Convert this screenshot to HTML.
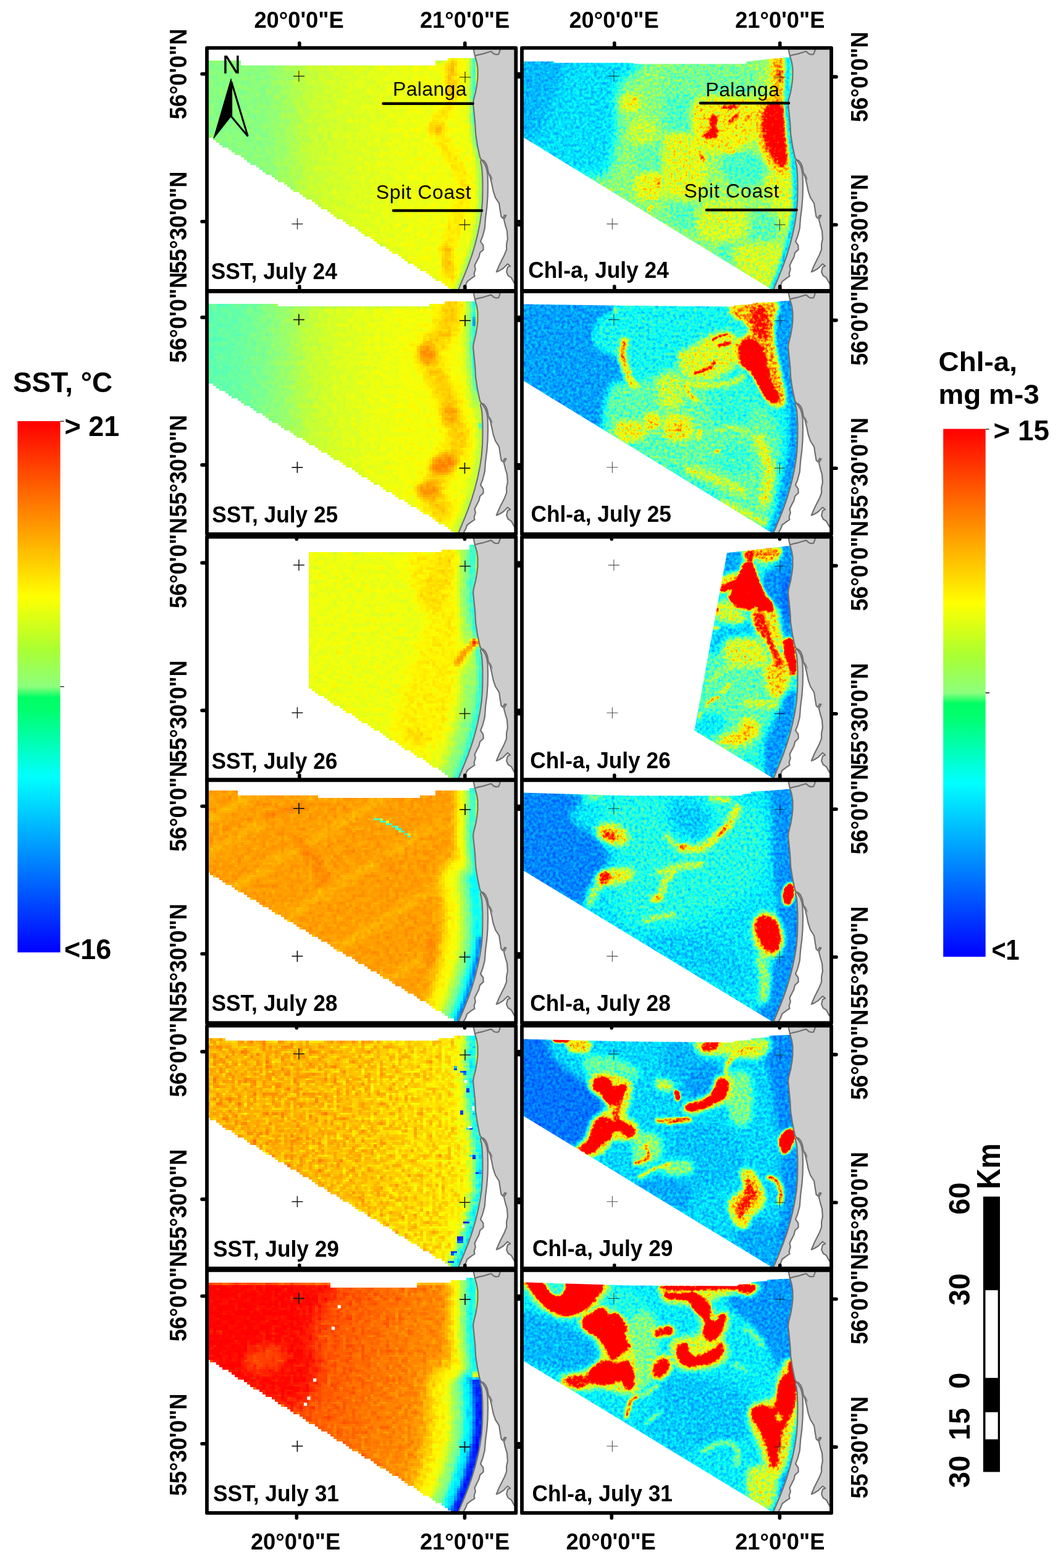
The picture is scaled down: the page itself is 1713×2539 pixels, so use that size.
<!DOCTYPE html>
<html lang="en"><head><meta charset="utf-8"><title>SST and Chl-a maps, July 24-31</title>
<style>html,body{margin:0;padding:0;background:#fff}svg{display:block}text{font-family:"Liberation Sans",sans-serif;fill:#000}.b{font-weight:bold}.ax{font-weight:bold;font-size:36.3px}.lb{font-weight:bold;font-size:35.3px}.cb{font-weight:bold;font-size:45px}.pl{font-size:32px}.sc{font-weight:bold;font-size:47px}</style></head><body>
<svg width="1713" height="2539" viewBox="0 0 1713 2539">
<defs>
<linearGradient id="cbar" x1="0" y1="0" x2="0" y2="1">
<stop offset="0%" stop-color="rgb(255,0,0)"/>
<stop offset="33%" stop-color="rgb(255,255,0)"/>
<stop offset="43%" stop-color="rgb(170,255,50)"/>
<stop offset="50%" stop-color="rgb(140,255,125)"/>
<stop offset="52%" stop-color="rgb(0,255,100)"/>
<stop offset="54.5%" stop-color="rgb(0,255,110)"/>
<stop offset="67%" stop-color="rgb(0,255,255)"/>
<stop offset="100%" stop-color="rgb(0,0,255)"/>
</linearGradient>
<filter id="b1" x="0" y="0" width="1" height="1" color-interpolation-filters="sRGB"><feGaussianBlur stdDeviation="1"/></filter>
<filter id="b1_5" x="0" y="0" width="1" height="1" color-interpolation-filters="sRGB"><feGaussianBlur stdDeviation="1.5"/></filter>
<filter id="b2" x="0" y="0" width="1" height="1" color-interpolation-filters="sRGB"><feGaussianBlur stdDeviation="2"/></filter>
<filter id="b3" x="0" y="0" width="1" height="1" color-interpolation-filters="sRGB"><feGaussianBlur stdDeviation="3"/></filter>
<filter id="b4" x="0" y="0" width="1" height="1" color-interpolation-filters="sRGB"><feGaussianBlur stdDeviation="4"/></filter>
<filter id="b5" x="0" y="0" width="1" height="1" color-interpolation-filters="sRGB"><feGaussianBlur stdDeviation="5"/></filter>
<filter id="b6" x="0" y="0" width="1" height="1" color-interpolation-filters="sRGB"><feGaussianBlur stdDeviation="6"/></filter>
<filter id="b7" x="0" y="0" width="1" height="1" color-interpolation-filters="sRGB"><feGaussianBlur stdDeviation="7"/></filter>
<filter id="b8" x="0" y="0" width="1" height="1" color-interpolation-filters="sRGB"><feGaussianBlur stdDeviation="8"/></filter>
<filter id="b10" x="0" y="0" width="1" height="1" color-interpolation-filters="sRGB"><feGaussianBlur stdDeviation="10"/></filter>
<filter id="b12" x="0" y="0" width="1" height="1" color-interpolation-filters="sRGB"><feGaussianBlur stdDeviation="12"/></filter>
<filter id="b16" x="0" y="0" width="1" height="1" color-interpolation-filters="sRGB"><feGaussianBlur stdDeviation="16"/></filter>
</defs>
<clipPath id="fc0"><rect x="335" y="77.7" width="500.3" height="393.1"/></clipPath><clipPath id="dc0"><polygon points="332,100.4 392.2,100.4 392.2,105.2 704.4,105.2 704.4,100.4 727.2,100.4 727.2,95.2 787.4,95.2 787.4,475.1 742.5,475.1 727.2,465.3 332,217.5"/></clipPath><clipPath id="sc0"><polygon points="300,60 766.8,77 766.8,80.6 768.9,90.5 771.9,100.8 773.5,111.2 773.5,124.9 772.4,135.3 770.2,148.2 766.8,161.9 766.1,168 767.6,182.6 769.3,199.8 770.2,217 772.8,234.2 775.4,247.2 777.1,254.9 779.2,258.5 778,262 779.6,268 780.5,275 781.4,292.2 781.4,309.4 781,326.6 779.7,343.9 777.1,361.1 773.6,378.3 769.3,395.5 764.2,412.7 758.2,429.9 751.3,447.2 744.4,463.5 742,470 300,480"/></clipPath><filter id="f0" filterUnits="userSpaceOnUse" x="335" y="77.7" width="500.3" height="393.1" color-interpolation-filters="sRGB"><feTurbulence type="fractalNoise" baseFrequency="0.13" numOctaves="2" seed="3" result="n"/><feColorMatrix in="n" type="matrix" values="1 0 0 0 0 1 0 0 0 0 1 0 0 0 0 0 0 0 0 1" result="g"/><feComposite in="SourceGraphic" in2="g" operator="arithmetic" k1="0" k2="1" k3="0.07692307692307693" k4="-0.038461538461538464"/><feComposite in2="SourceGraphic" operator="in" result="v"/><feFlood x="337" y="79.7" width="1" height="1" flood-color="#000"/><feComposite width="5" height="5"/><feTile result="t"/><feComposite in="v" in2="t" operator="in"/><feMorphology operator="dilate" radius="2"/><feComponentTransfer><feFuncR type="table" tableValues="0 0 0 0 0 0 0 0 0 0 0 0 0 0 0 0.002 0.079 0.155 0.232 0.309 0.375 0.439 0.504 0.567 0.627 0.686 0.746 0.804 0.861 0.919 0.977 1 1 1 1 1 1 1 1 1 1 1 1 1 1 1 1 1 1 1 1 1 1 1 1 1 1 1 1 1"/><feFuncG type="table" tableValues="0 0.067 0.134 0.2 0.267 0.334 0.401 0.467 0.534 0.601 0.668 0.734 0.801 0.868 0.935 1 1 1 1 1 1 1 1 1 1 1 1 1 1 1 1 0.96 0.894 0.827 0.76 0.693 0.627 0.56 0.493 0.426 0.36 0.293 0.226 0.159 0.092 0.026 0 0 0 0 0 0 0 0 0 0 0 0 0 0"/><feFuncB type="table" tableValues="1 1 1 1 1 1 1 1 1 1 1 1 1 1 1 0.999 0.936 0.874 0.811 0.749 0.679 0.609 0.539 0.467 0.391 0.316 0.24 0.18 0.127 0.074 0.022 0 0 0 0 0 0 0 0 0 0 0 0 0 0 0 0 0 0 0 0 0 0 0 0 0 0 0 0 0"/><feFuncA type="discrete" tableValues="0 1"/></feComponentTransfer></filter><g clip-path="url(#fc0)"><g clip-path="url(#sc0)"><g filter="url(#f0)"><g clip-path="url(#dc0)"><rect x="335" y="77.7" width="500.3" height="393.1" fill="#767676"/><linearGradient id="g0_7" gradientUnits="userSpaceOnUse" x1="332" y1="75" x2="842" y2="75"><stop offset="0%" stop-color="#606060"/><stop offset="19%" stop-color="#626262"/><stop offset="27%" stop-color="#6a6a6a"/><stop offset="34%" stop-color="#737373"/><stop offset="45%" stop-color="#787878"/><stop offset="58%" stop-color="#7c7c7c"/><stop offset="70%" stop-color="#7f7f7f"/><stop offset="86%" stop-color="#7f7f7f"/><stop offset="100%" stop-color="#7f7f7f"/></linearGradient><rect x="335" y="77.7" width="500.3" height="393.1" fill="url(#g0_7)"/><g filter="url(#b6)"><rect x="672.9" y="61.4" width="115.1" height="424" fill="none"/><path d="M733.7 97.8C733.4 107.5 736.1 138.4 732.1 156.3C728 174.2 710.4 190.5 709.3 205.1C708.2 219.7 718.5 229 725.6 244.1C732.6 259.3 749.1 278.3 751.6 296.2C754 314.1 744.8 332.5 740.2 351.5C735.6 370.4 725.8 393.8 723.9 410C722 426.3 728 442.5 728.8 449" fill="none" stroke="#8b8b8b" stroke-width="22.8" stroke-linecap="round" stroke-linejoin="round" opacity="0.85"/></g><g filter="url(#b4)"><rect x="680" y="182.3" width="52" height="52" fill="none"/><ellipse cx="706" cy="208.4" rx="13" ry="9.8" fill="#999999" opacity="0.7"/></g><g filter="url(#b4)"><rect x="703.3" y="78.8" width="52.6" height="99.8" fill="none"/><path d="M728.8 104.3 L730.4 153.1" fill="none" stroke="#999999" stroke-width="13" stroke-linecap="round" stroke-linejoin="round" opacity="0.7"/></g><g filter="url(#b4)"><rect x="696.8" y="374.8" width="55.9" height="90" fill="none"/><path d="M722.3 400.3 L727.2 439.3" fill="none" stroke="#999999" stroke-width="13" stroke-linecap="round" stroke-linejoin="round" opacity="0.7"/></g><g filter="url(#b2)"><rect x="746.1" y="76.6" width="42.9" height="178.9" fill="none"/><path d="M764.5 94.5C764.7 96.7 765.7 95.1 765.6 107.5C765.5 120 763.4 150.4 763.9 169.3C764.5 188.3 767.6 210 768.8 221.4C770 232.7 770.7 234.9 771 237.6" fill="none" stroke="#626262" stroke-width="9.8" stroke-linecap="round" stroke-linejoin="round"/></g><g filter="url(#b2)"><rect x="720" y="220.7" width="74.5" height="272.9" fill="none"/><path d="M771.7 237.6C772.1 240.9 773.4 249 774.3 257.1C775.3 265.3 777.1 273.4 777.6 286.4C778.1 299.4 778.4 321.7 777.6 335.2C776.8 348.8 774.9 356.9 772.7 367.7C770.6 378.6 767.6 389.4 764.6 400.3C761.6 411.1 758.6 421.9 754.8 432.8C751 443.6 744.8 458 741.8 465.3C738.8 472.6 737.8 474.8 736.9 476.7" fill="none" stroke="#666666" stroke-width="7.8" stroke-linecap="round" stroke-linejoin="round"/></g><path d="M767.1 94.5C767.3 96.7 768.3 95.1 768.2 107.5C768.1 120 766 150.4 766.5 169.3C767.1 188.3 770.2 210 771.4 221.4C772.6 232.7 773.3 234.9 773.6 237.6" fill="none" stroke="#474747" stroke-width="3.3" stroke-linecap="round" stroke-linejoin="round" opacity="0.7"/></g></g></g><polygon points="766.8,77 766.8,80.6 768.9,90.5 771.9,100.8 773.5,111.2 773.5,124.9 772.4,135.3 770.2,148.2 766.8,161.9 766.1,168 767.6,182.6 769.3,199.8 770.2,217 772.8,234.2 775.4,247.2 777.1,254.9 779.2,258.5 779.2,258.5 783,260 786.5,264 789,270 790.9,280.2 793.4,286.2 796,296.5 798.6,309.4 802.1,319.8 808.1,329.2 809.8,340.4 811.5,350.8 814,353.5 817,348.5 819.5,349 815.8,355.1 818.4,365.4 821,374 821.9,386.9 820.1,395.5 820.1,404.1 816.7,412.7 812.4,421.3 808.1,429.9 803.8,440.3 808.1,438.6 815,434.3 819.3,429.9 821.9,427.4 826.2,430.8 821.9,432.5 820.1,440.3 822.7,446.3 827.9,449.7 832.6,458.3 836,462 840,462 840,77" fill="#cccccc"/><polygon points="778,262 779.6,268 780.5,275 781.4,292.2 781.4,309.4 781,326.6 779.7,343.9 777.1,361.1 773.6,378.3 769.3,395.5 764.2,412.7 758.2,429.9 751.3,447.2 744.4,463.5 742,470 750,470 751.3,467 753.8,462.7 756.4,455.8 763.3,450.6 768.5,447.2 767.6,442.9 769.8,436 768.5,429.9 771.9,423.1 775.4,416.2 777.1,409.3 782.7,404.1 782.3,397.2 778,391.2 781.4,382.6 784.8,369.7 786.1,352.5 788.3,335.3 789.6,318 790,300.8 789.6,283.6 788.3,275 786,268 782.5,262.5" fill="#cccccc"/><polyline points="766.8,77 766.8,80.6 768.9,90.5 771.9,100.8 773.5,111.2 773.5,124.9 772.4,135.3 770.2,148.2 766.8,161.9 766.1,168 767.6,182.6 769.3,199.8 770.2,217 772.8,234.2 775.4,247.2 777.1,254.9 779.2,258.5 779.2,258.5 783,260 786.5,264 789,270 790.9,280.2 793.4,286.2 796,296.5 798.6,309.4 802.1,319.8 808.1,329.2 809.8,340.4 811.5,350.8 814,353.5 817,348.5 819.5,349 815.8,355.1 818.4,365.4 821,374 821.9,386.9 820.1,395.5 820.1,404.1 816.7,412.7 812.4,421.3 808.1,429.9 803.8,440.3 808.1,438.6 815,434.3 819.3,429.9 821.9,427.4 826.2,430.8 821.9,432.5 820.1,440.3 822.7,446.3 827.9,449.7 832.6,458.3 836,462" fill="none" stroke="#707070" stroke-width="2.2" stroke-linejoin="round"/><polyline points="779.2,258.5 778,262 779.6,268 780.5,275 781.4,292.2 781.4,309.4 781,326.6 779.7,343.9 777.1,361.1 773.6,378.3 769.3,395.5 764.2,412.7 758.2,429.9 751.3,447.2 744.4,463.5 742,470" fill="none" stroke="#707070" stroke-width="2.2" stroke-linejoin="round"/><polyline points="750,470 751.3,467 753.8,462.7 756.4,455.8 763.3,450.6 768.5,447.2 767.6,442.9 769.8,436 768.5,429.9 771.9,423.1 775.4,416.2 777.1,409.3 782.7,404.1 782.3,397.2 778,391.2 781.4,382.6 784.8,369.7 786.1,352.5 788.3,335.3 789.6,318 790,300.8 789.6,283.6 788.3,275 786,268 782.5,262.5 779.2,258.5" fill="none" stroke="#707070" stroke-width="2.2" stroke-linejoin="round"/><polyline points="768.9,90.5 775,88.6 782.3,87.1 789,85 795.2,83.2 799.5,87.1 803,88.3 807.2,87.9 808.8,84 809.8,80.6 810,77" fill="none" stroke="#707070" stroke-width="2.2" stroke-linejoin="round"/><polygon points="791.5,281 793.5,284 796,290 797.8,292.5 797,288 795,283.5 792.8,280.5" fill="#7d7d7d"/><path d="M474.9 123.4h18M483.9 114.4v18M744 125h18M753 116v18M472.4 362.6h18M481.4 353.6v18M743.4 363.9h18M752.4 354.9v18" stroke="#1a1a1a" stroke-width="1.1" fill="none"/></g><text class="lb" transform="translate(341.8 452.3) scale(1 1.065)">SST, July 24</text>
<path d="M484.8 76.7v-7M752.8 76.7v-7M480.3 471.8v7M752.4 471.8v7M334 119.7h-7M334 358.7h-7M836.3 124.4h7M836.3 364h7" stroke="#000" stroke-width="5.6" stroke-linecap="round" fill="none"/>
<clipPath id="fc1"><rect x="845" y="77.7" width="501" height="393.1"/></clipPath><clipPath id="dc1"><polygon points="842,99.4 897.3,99.4 897.3,101.7 1024.1,101.7 1027.4,103.6 1206.3,103.6 1209.5,99.4 1248.6,95.2 1297.4,91.3 1297.4,475.1 1260,475.1 1243.7,465.3 842,219.1"/></clipPath><clipPath id="sc1"><polygon points="810,60 1276.8,77 1276.8,80.6 1278.9,90.5 1281.9,100.8 1283.5,111.2 1283.5,124.9 1282.4,135.3 1280.2,148.2 1276.8,161.9 1276.1,168 1277.6,182.6 1279.3,199.8 1280.2,217 1282.8,234.2 1285.4,247.2 1287.1,254.9 1289.2,258.5 1288,262 1289.6,268 1290.5,275 1291.4,292.2 1291.4,309.4 1291,326.6 1289.7,343.9 1287.1,361.1 1283.6,378.3 1279.3,395.5 1274.2,412.7 1268.2,429.9 1261.3,447.2 1254.4,463.5 1252,470 810,480"/></clipPath><filter id="f1" filterUnits="userSpaceOnUse" x="845" y="77.7" width="501" height="393.1" color-interpolation-filters="sRGB"><feTurbulence type="fractalNoise" baseFrequency="0.21" numOctaves="3" seed="4" result="n"/><feColorMatrix in="n" type="matrix" values="1 0 0 0 0 1 0 0 0 0 1 0 0 0 0 0 0 0 0 1" result="g"/><feComposite in="SourceGraphic" in2="g" operator="arithmetic" k1="0.6" k2="0.7" k3="0.07692307692307693" k4="-0.038461538461538464"/><feComponentTransfer><feFuncR type="table" tableValues="0 0 0 0 0 0 0 0 0 0 0 0 0 0 0 0.002 0.079 0.155 0.232 0.309 0.375 0.439 0.504 0.567 0.627 0.686 0.746 0.804 0.861 0.919 0.977 1 1 1 1 1 1 1 1 1 1 1 1 1 1 1 1 1 1 1 1 1 1 1 1 1 1 1 1 1"/><feFuncG type="table" tableValues="0 0.067 0.134 0.2 0.267 0.334 0.401 0.467 0.534 0.601 0.668 0.734 0.801 0.868 0.935 1 1 1 1 1 1 1 1 1 1 1 1 1 1 1 1 0.96 0.894 0.827 0.76 0.693 0.627 0.56 0.493 0.426 0.36 0.293 0.226 0.159 0.092 0.026 0 0 0 0 0 0 0 0 0 0 0 0 0 0"/><feFuncB type="table" tableValues="1 1 1 1 1 1 1 1 1 1 1 1 1 1 1 0.999 0.936 0.874 0.811 0.749 0.679 0.609 0.539 0.467 0.391 0.316 0.24 0.18 0.127 0.074 0.022 0 0 0 0 0 0 0 0 0 0 0 0 0 0 0 0 0 0 0 0 0 0 0 0 0 0 0 0 0"/></feComponentTransfer></filter><g clip-path="url(#fc1)"><g clip-path="url(#sc1)"><g clip-path="url(#dc1)"><g filter="url(#f1)"><rect x="845" y="77.7" width="501" height="393.1" fill="#626262"/><g filter="url(#b8)"><rect x="804.1" y="61.2" width="258.3" height="256.6" fill="none"/><path d="M835.1 92.2C867.8 69.8 1003.9 87.1 1031.4 95.7C1059 104.3 1006.2 121.5 1000.4 143.9C994.7 166.3 1002.7 206.2 997 230C991.2 253.8 993 286.8 966 286.8C939 286.8 856.9 262.4 835.1 230C813.3 197.6 802.4 114.6 835.1 92.2Z" fill="#393939"/></g><g filter="url(#b10)"><rect x="798.1" y="55.2" width="153.2" height="211.8" fill="none"/><path d="M835.1 92.2C848.3 69.8 904.6 84.2 914.3 95.7C924.1 107.1 900 142.7 893.7 161.1C887.3 179.5 883.3 194.4 876.4 205.9C869.6 217.4 859.2 226 852.3 230C845.4 234 838 252.9 835.1 230C832.2 207 821.9 114.6 835.1 92.2Z" fill="#2f2f2f"/></g><g filter="url(#b8)"><rect x="1017.6" y="130.1" width="130.9" height="285.9" fill="none"/><path d="M1074.5 195.5C1086 178.3 1110.4 129.5 1117.5 161.1C1124.7 192.7 1124.7 356.3 1117.5 385C1110.4 413.7 1086 353.4 1074.5 333.3C1063 313.2 1048.6 287.4 1048.6 264.4C1048.6 241.5 1063 212.8 1074.5 195.5Z" fill="#686868"/></g><g filter="url(#b8)"><rect x="1051" y="69.8" width="277.3" height="432.2" fill="none"/><path d="M1116.4 143.9C1149.4 122.4 1249.9 83.6 1280 100.8C1310.2 118.1 1295.8 199.8 1297.3 247.2C1298.7 294.6 1295.8 347.7 1288.6 385C1281.5 422.3 1274.3 468.2 1254.2 471.1C1234.1 473.9 1196.8 425.2 1168.1 402.2C1139.4 379.2 1096.4 362 1082 333.3C1067.6 304.6 1076.3 261.6 1082 230C1087.7 198.4 1083.4 165.4 1116.4 143.9Z" fill="#686868"/></g><g filter="url(#b7)"><rect x="1050.6" y="121" width="104.2" height="124.9" fill="none"/><path d="M1078.6 152.5C1086.3 142.4 1117 139 1125.1 149C1133.1 159.1 1131.1 201.3 1126.8 212.8C1122.5 224.2 1107.3 218.5 1099.2 217.9C1091.2 217.4 1082 220.2 1078.6 209.3C1075.1 198.4 1070.8 162.5 1078.6 152.5Z" fill="#525252"/></g><g filter="url(#b6)"><rect x="1057" y="79.3" width="196.4" height="103.4" fill="none"/><path d="M1082 106C1102.1 98.8 1178.1 100.8 1202.5 104.3C1226.9 107.7 1228.4 117.8 1228.4 126.7C1228.4 135.6 1218.3 152.5 1202.5 157.7C1186.8 162.8 1153.8 159.4 1133.7 157.7C1113.6 155.9 1090.6 155.9 1082 147.3C1073.4 138.7 1061.9 113.2 1082 106Z" fill="#5c5c5c"/></g><g filter="url(#b6)"><rect x="1143.1" y="218.8" width="122.3" height="108.6" fill="none"/><path d="M1171.5 250.7C1177.3 245.8 1191.6 242.9 1202.5 243.8C1213.5 244.6 1230.7 248.1 1237 255.8C1243.3 263.6 1243.3 282.5 1240.4 290.3C1237.6 298 1228.9 300.9 1219.8 302.3C1210.6 303.7 1193.9 303.7 1185.3 298.9C1176.7 294 1170.4 281.1 1168.1 273C1165.8 265 1165.8 255.5 1171.5 250.7Z" fill="#505050"/></g><g filter="url(#b7)"><rect x="1174.5" y="315.6" width="111.1" height="114.6" fill="none"/><path d="M1202.5 350.5C1210.6 342.2 1245 337.9 1254.2 343.6C1263.4 349.4 1260.5 375.2 1257.7 385C1254.8 394.7 1245.6 400.8 1237 402.2C1228.4 403.6 1211.7 402.2 1206 393.6C1200.2 385 1194.5 358.9 1202.5 350.5Z" fill="#565656"/></g><g filter="url(#b6)"><rect x="1139.7" y="368.6" width="91.3" height="84.4" fill="none"/><path d="M1164.7 393.6C1169.8 387.8 1195.7 387.8 1202.5 393.6C1209.4 399.3 1211.2 422.3 1206 428C1200.8 433.8 1178.4 433.8 1171.5 428C1164.7 422.3 1159.5 399.3 1164.7 393.6Z" fill="#525252"/></g><g filter="url(#b7)"><rect x="1050.6" y="301.9" width="114.6" height="97.3" fill="none"/><path d="M1078.6 333.3C1084.3 326.4 1123.9 324.1 1133.7 329.9C1143.4 335.6 1142.8 360.9 1137.1 367.8C1131.4 374.6 1109 376.9 1099.2 371.2C1089.5 365.5 1072.8 340.2 1078.6 333.3Z" fill="#545454"/></g><g filter="url(#b5)"><rect x="1009.4" y="208" width="92.2" height="95.7" fill="none"/><path d="M1031.4 238.6C1037.2 230 1066.4 224.2 1074.5 230C1082.5 235.7 1085.4 264.4 1079.6 273C1073.9 281.6 1048.1 287.4 1040 281.6C1032 275.9 1025.7 247.2 1031.4 238.6Z" fill="#585858"/></g><g filter="url(#b4)"><rect x="986.6" y="135.2" width="69" height="63.8" fill="none"/><path d="M1005.6 155.9C1010.2 151.6 1029.7 150.5 1034.9 154.2C1040 157.9 1041.2 174 1036.6 178.3C1032 182.6 1012.5 183.8 1007.3 180C1002.2 176.3 1001 160.2 1005.6 155.9Z" fill="#7a7a7a"/></g><g filter="url(#b2)"><rect x="1016" y="152.6" width="20.5" height="20.5" fill="none"/><ellipse cx="1026.3" cy="162.8" rx="3.3" ry="3.3" fill="#a7a7a7"/></g><g filter="url(#b5)"><rect x="1000.8" y="171.8" width="80.2" height="80.2" fill="none"/><path d="M1022.8 195.5C1028.3 189.5 1051.2 188.1 1057.3 193.8C1063.3 199.6 1064.4 224 1059 230C1053.5 236 1030.6 235.7 1024.5 230C1018.5 224.2 1017.4 201.6 1022.8 195.5Z" fill="#727272"/></g><g filter="url(#b4)"><rect x="1060.6" y="202.4" width="72.4" height="81.1" fill="none"/><path d="M1079.6 223.1C1084.8 215.9 1108.3 214.5 1114.1 221.4C1119.8 228.3 1119.3 257.3 1114.1 264.4C1108.9 271.6 1088.8 271.3 1083.1 264.4C1077.3 257.5 1074.5 230.3 1079.6 223.1Z" fill="#818181"/></g><g filter="url(#b4)"><rect x="1012.4" y="262.6" width="77.6" height="77.6" fill="none"/><path d="M1031.4 285.1C1037.5 278.5 1062.7 275.9 1069.3 281.6C1075.9 287.4 1077.1 312.9 1071 319.5C1065 326.1 1039.7 327 1033.1 321.3C1026.5 315.5 1025.4 291.7 1031.4 285.1Z" fill="#7e7e7e"/></g><g filter="url(#b2)"><rect x="1049.2" y="273.6" width="31.6" height="45.4" fill="none"/><path d="M1064.1 288.5 L1065.9 304" fill="none" stroke="#b1b1b1" stroke-width="3.9" stroke-linecap="round" stroke-linejoin="round"/></g><g filter="url(#b2)"><rect x="1036.6" y="318.7" width="33.6" height="36.1" fill="none"/><path d="M1051.2 340.2 L1055.5 333.3" fill="none" stroke="#adadad" stroke-width="3.3" stroke-linecap="round" stroke-linejoin="round"/></g><g filter="url(#b6)"><rect x="1053.6" y="201.5" width="108.6" height="143" fill="none"/><path d="M1078.6 230C1087.7 216.5 1123.9 212.2 1133.7 226.5C1143.4 240.9 1142.8 300.6 1137.1 316.1C1131.4 331.6 1109 321 1099.2 319.5C1089.5 318.1 1082 322.4 1078.6 307.5C1075.1 292.6 1069.4 243.5 1078.6 230Z" fill="#7c7c7c"/></g><g filter="url(#b6)"><rect x="1108.7" y="304.9" width="122.3" height="105.1" fill="none"/><path d="M1133.7 333.3C1144.6 324.1 1190.5 321.3 1202.5 329.9C1214.6 338.5 1216.9 375.8 1206 385C1195.1 394.2 1149.2 393.6 1137.1 385C1125.1 376.4 1122.8 342.5 1133.7 333.3Z" fill="#767676"/></g><g filter="url(#b6)"><rect x="1160.3" y="373.7" width="136.1" height="113.7" fill="none"/><path d="M1185.3 402.2C1193.9 391.6 1258.5 388.7 1271.4 398.7C1284.3 408.8 1271.4 451.8 1262.8 462.5C1254.2 473.1 1232.7 472.5 1219.8 462.5C1206.8 452.4 1176.7 412.8 1185.3 402.2Z" fill="#767676"/></g><g filter="url(#b6)"><rect x="1212" y="256.6" width="101.7" height="161.9" fill="none"/><path d="M1237 290.3C1242.2 281.6 1276.6 264.4 1285.2 281.6C1293.8 298.9 1293.8 385 1288.6 393.6C1283.5 402.2 1262.8 350.5 1254.2 333.3C1245.6 316.1 1231.8 298.9 1237 290.3Z" fill="#7a7a7a"/></g><g filter="url(#b5)"><rect x="1103.1" y="139.1" width="149" height="130.1" fill="none"/><path d="M1125.1 164.5C1139.4 153.1 1198.8 155.9 1216.3 161.1C1233.8 166.3 1230.1 184.1 1230.1 195.5C1230.1 207 1226.7 221.4 1216.3 230C1206 238.6 1182.5 247.2 1168.1 247.2C1153.8 247.2 1137.4 243.8 1130.2 230C1123 216.2 1110.7 176 1125.1 164.5Z" fill="#838383"/></g><g filter="url(#b4)"><rect x="1228.3" y="73.2" width="67.3" height="110.3" fill="none"/><path d="M1250.8 92.2C1255.6 86.5 1272.6 80.2 1276.6 92.2C1280.6 104.3 1278.6 152.5 1274.9 164.5C1271.1 176.6 1258.8 170.9 1254.2 164.5C1249.6 158.2 1247.9 138.7 1247.3 126.7C1246.7 114.6 1245.9 98 1250.8 92.2Z" fill="#919191"/></g><g filter="url(#b4)"><rect x="1207.7" y="138.7" width="87.9" height="158.5" fill="none"/><path d="M1228.4 161.1C1233 151.9 1246.5 155.9 1254.2 157.7C1262 159.4 1271.1 152.2 1274.9 171.4C1278.6 190.7 1280 255.2 1276.6 273C1273.1 290.8 1261.4 282.5 1254.2 278.2C1247 273.9 1238.1 258.1 1233.5 247.2C1228.9 236.3 1227.5 227.1 1226.7 212.8C1225.8 198.4 1223.8 170.3 1228.4 161.1Z" fill="#959595"/></g><g filter="url(#b3)"><rect x="1219.3" y="150.3" width="69.9" height="133.6" fill="none"/><path d="M1243.9 171.4C1246.5 168.9 1250.5 166.3 1254.2 166.3C1257.9 166.3 1263.7 166.6 1266.3 171.4C1268.8 176.3 1269 187.2 1269.7 195.5C1270.4 203.9 1270 212.8 1270.6 221.4C1271.1 230 1273 239.7 1273.1 247.2C1273.3 254.7 1272.9 262.7 1271.4 266.1C1270 269.6 1267.4 269.3 1264.5 267.9C1261.7 266.4 1257.7 262.1 1254.2 257.5C1250.8 252.9 1246.7 246.3 1243.9 240.3C1241 234.3 1238.4 228.3 1237 221.4C1235.6 214.5 1235 205.6 1235.3 199C1235.6 192.4 1237.3 186.4 1238.7 181.8C1240.1 177.2 1241.3 174 1243.9 171.4Z" fill="#dcdcdc"/></g><g filter="url(#b2)"><rect x="1155.9" y="156.7" width="51.9" height="33.8" fill="none"/><path d="M1171.5 174.9 L1192.2 172.3" fill="none" stroke="#d8d8d8" stroke-width="5.2" stroke-linecap="round" stroke-linejoin="round"/></g><g filter="url(#b2)"><rect x="1125.8" y="172.2" width="50.1" height="63.9" fill="none"/><path d="M1154.3 185.2C1156.6 184.6 1162.4 189.2 1162.9 192.1C1163.5 195 1157.8 199 1157.8 202.4C1157.8 205.9 1162.9 209.3 1162.9 212.8C1162.9 216.2 1161.2 221.4 1157.8 223.1C1154.3 224.8 1145.4 224 1142.3 223.1C1139.1 222.2 1137.4 220.2 1138.8 217.9C1140.3 215.6 1149.2 213.1 1150.9 209.3C1152.6 205.6 1148.6 199.6 1149.2 195.5C1149.7 191.5 1152 185.8 1154.3 185.2Z" fill="#d8d8d8"/></g><g filter="url(#b2)"><rect x="1164.6" y="171.3" width="45" height="41.5" fill="none"/><path d="M1180.2 197.3 L1193.9 186.9" fill="none" stroke="#cecece" stroke-width="5.2" stroke-linecap="round" stroke-linejoin="round"/></g><g filter="url(#b2)"><rect x="1193.1" y="174" width="34.4" height="36.1" fill="none"/><path d="M1207.7 195.5 L1212.9 188.7" fill="none" stroke="#bababa" stroke-width="3.3" stroke-linecap="round" stroke-linejoin="round"/></g><g filter="url(#b2)"><rect x="1118.1" y="233.3" width="36.4" height="41.5" fill="none"/><path d="M1133.7 248.9 L1138.8 259.3" fill="none" stroke="#bababa" stroke-width="5.2" stroke-linecap="round" stroke-linejoin="round"/></g><g filter="url(#b2)"><rect x="1163.8" y="230.9" width="39.6" height="31" fill="none"/><path d="M1178.4 247.2 L1188.8 245.5" fill="none" stroke="#b1b1b1" stroke-width="3.3" stroke-linecap="round" stroke-linejoin="round"/></g><g filter="url(#b3)"><rect x="1242.5" y="90.8" width="40.6" height="59.6" fill="none"/><path d="M1261.1 109.4 L1264.5 131.8" fill="none" stroke="#c0c0c0" stroke-width="5.2" stroke-linecap="round" stroke-linejoin="round"/></g><g filter="url(#b2)"><rect x="1229.1" y="70.1" width="76.4" height="424.4" fill="none"/><path d="M1274.6 88C1274.9 91.3 1276.2 94 1276.2 107.5C1276.2 121.1 1274 150.4 1274.6 169.3C1275.1 188.3 1277.8 206.7 1279.5 221.4C1281.1 236 1283 246.3 1284.3 257.1C1285.7 268 1287.1 273.4 1287.6 286.4C1288.1 299.4 1288.4 321.7 1287.6 335.2C1286.8 348.8 1284.9 356.9 1282.7 367.7C1280.6 378.6 1277.6 389.4 1274.6 400.3C1271.6 411.1 1268.6 421.9 1264.8 432.8C1261 443.6 1254.8 458 1251.8 465.3C1248.8 472.6 1247.8 474.8 1246.9 476.7" fill="none" stroke="#3b3b3b" stroke-width="9.8" stroke-linecap="round" stroke-linejoin="round"/></g></g></g></g><polygon points="1276.8,77 1276.8,80.6 1278.9,90.5 1281.9,100.8 1283.5,111.2 1283.5,124.9 1282.4,135.3 1280.2,148.2 1276.8,161.9 1276.1,168 1277.6,182.6 1279.3,199.8 1280.2,217 1282.8,234.2 1285.4,247.2 1287.1,254.9 1289.2,258.5 1289.2,258.5 1293,260 1296.5,264 1299,270 1300.9,280.2 1303.4,286.2 1306,296.5 1308.6,309.4 1312.1,319.8 1318.1,329.2 1319.8,340.4 1321.5,350.8 1324,353.5 1327,348.5 1329.5,349 1325.8,355.1 1328.4,365.4 1331,374 1331.9,386.9 1330.1,395.5 1330.1,404.1 1326.7,412.7 1322.4,421.3 1318.1,429.9 1313.8,440.3 1318.1,438.6 1325,434.3 1329.3,429.9 1331.9,427.4 1336.2,430.8 1331.9,432.5 1330.1,440.3 1332.7,446.3 1337.9,449.7 1342.6,458.3 1346,462 1350,462 1350,77" fill="#cccccc"/><polygon points="1288,262 1289.6,268 1290.5,275 1291.4,292.2 1291.4,309.4 1291,326.6 1289.7,343.9 1287.1,361.1 1283.6,378.3 1279.3,395.5 1274.2,412.7 1268.2,429.9 1261.3,447.2 1254.4,463.5 1252,470 1260,470 1261.3,467 1263.8,462.7 1266.4,455.8 1273.3,450.6 1278.5,447.2 1277.6,442.9 1279.8,436 1278.5,429.9 1281.9,423.1 1285.4,416.2 1287.1,409.3 1292.7,404.1 1292.3,397.2 1288,391.2 1291.4,382.6 1294.8,369.7 1296.1,352.5 1298.3,335.3 1299.6,318 1300,300.8 1299.6,283.6 1298.3,275 1296,268 1292.5,262.5" fill="#cccccc"/><polyline points="1276.8,77 1276.8,80.6 1278.9,90.5 1281.9,100.8 1283.5,111.2 1283.5,124.9 1282.4,135.3 1280.2,148.2 1276.8,161.9 1276.1,168 1277.6,182.6 1279.3,199.8 1280.2,217 1282.8,234.2 1285.4,247.2 1287.1,254.9 1289.2,258.5 1289.2,258.5 1293,260 1296.5,264 1299,270 1300.9,280.2 1303.4,286.2 1306,296.5 1308.6,309.4 1312.1,319.8 1318.1,329.2 1319.8,340.4 1321.5,350.8 1324,353.5 1327,348.5 1329.5,349 1325.8,355.1 1328.4,365.4 1331,374 1331.9,386.9 1330.1,395.5 1330.1,404.1 1326.7,412.7 1322.4,421.3 1318.1,429.9 1313.8,440.3 1318.1,438.6 1325,434.3 1329.3,429.9 1331.9,427.4 1336.2,430.8 1331.9,432.5 1330.1,440.3 1332.7,446.3 1337.9,449.7 1342.6,458.3 1346,462" fill="none" stroke="#707070" stroke-width="2.2" stroke-linejoin="round"/><polyline points="1289.2,258.5 1288,262 1289.6,268 1290.5,275 1291.4,292.2 1291.4,309.4 1291,326.6 1289.7,343.9 1287.1,361.1 1283.6,378.3 1279.3,395.5 1274.2,412.7 1268.2,429.9 1261.3,447.2 1254.4,463.5 1252,470" fill="none" stroke="#707070" stroke-width="2.2" stroke-linejoin="round"/><polyline points="1260,470 1261.3,467 1263.8,462.7 1266.4,455.8 1273.3,450.6 1278.5,447.2 1277.6,442.9 1279.8,436 1278.5,429.9 1281.9,423.1 1285.4,416.2 1287.1,409.3 1292.7,404.1 1292.3,397.2 1288,391.2 1291.4,382.6 1294.8,369.7 1296.1,352.5 1298.3,335.3 1299.6,318 1300,300.8 1299.6,283.6 1298.3,275 1296,268 1292.5,262.5 1289.2,258.5" fill="none" stroke="#707070" stroke-width="2.2" stroke-linejoin="round"/><polyline points="1278.9,90.5 1285,88.6 1292.3,87.1 1299,85 1305.2,83.2 1309.5,87.1 1313,88.3 1317.2,87.9 1318.8,84 1319.8,80.6 1320,77" fill="none" stroke="#707070" stroke-width="2.2" stroke-linejoin="round"/><polygon points="1301.5,281 1303.5,284 1306,290 1307.8,292.5 1307,288 1305,283.5 1302.8,280.5" fill="#7d7d7d"/><path d="M984.9 123.4h18M993.9 114.4v18M1254 125h18M1263 116v18M982.4 362.6h18M991.4 353.6v18M1253.4 363.9h18M1262.4 354.9v18" stroke="#1a1a1a" stroke-width="1.1" fill="none" opacity="0.75"/></g><text class="lb" transform="translate(855.3 450.2) scale(1 1.065)">Chl-a, July 24</text>
<path d="M994.8 76.7v-7M1262.8 76.7v-7M990.3 471.8v7M1262.4 471.8v7M844 119.7h-7M844 358.7h-7M1347 124.4h7M1347 364h7" stroke="#000" stroke-width="5.6" stroke-linecap="round" fill="none"/>
<clipPath id="fc4"><rect x="335" y="869.4" width="500.3" height="393.1"/></clipPath><clipPath id="dc4"><polygon points="498.5,894.3 712.5,894.3 712.5,889.4 761.3,889.4 761.3,882.9 787.4,882.9 787.4,1266.1 738.6,1266.1 727.2,1256.3 498.5,1113.2"/></clipPath><clipPath id="sc4"><polygon points="300,851.7 766.8,868.7 766.8,872.3 768.9,882.2 771.9,892.5 773.5,902.9 773.5,916.6 772.4,927 770.2,939.9 766.8,953.6 766.1,959.7 767.6,974.3 769.3,991.5 770.2,1008.7 772.8,1025.9 775.4,1038.9 777.1,1046.6 779.2,1050.2 778,1053.7 779.6,1059.7 780.5,1066.7 781.4,1083.9 781.4,1101.1 781,1118.3 779.7,1135.6 777.1,1152.8 773.6,1170 769.3,1187.2 764.2,1204.4 758.2,1221.6 751.3,1238.9 744.4,1255.2 742,1261.7 300,1271.7"/></clipPath><filter id="f4" filterUnits="userSpaceOnUse" x="335" y="869.4" width="500.3" height="393.1" color-interpolation-filters="sRGB"><feTurbulence type="fractalNoise" baseFrequency="0.13" numOctaves="2" seed="7" result="n"/><feColorMatrix in="n" type="matrix" values="1 0 0 0 0 1 0 0 0 0 1 0 0 0 0 0 0 0 0 1" result="g"/><feComposite in="SourceGraphic" in2="g" operator="arithmetic" k1="0" k2="1" k3="0.0923076923076923" k4="-0.04615384615384615"/><feComposite in2="SourceGraphic" operator="in" result="v"/><feFlood x="337" y="871.4" width="1" height="1" flood-color="#000"/><feComposite width="5" height="5"/><feTile result="t"/><feComposite in="v" in2="t" operator="in"/><feMorphology operator="dilate" radius="2"/><feComponentTransfer><feFuncR type="table" tableValues="0 0 0 0 0 0 0 0 0 0 0 0 0 0 0 0.002 0.079 0.155 0.232 0.309 0.375 0.439 0.504 0.567 0.627 0.686 0.746 0.804 0.861 0.919 0.977 1 1 1 1 1 1 1 1 1 1 1 1 1 1 1 1 1 1 1 1 1 1 1 1 1 1 1 1 1"/><feFuncG type="table" tableValues="0 0.067 0.134 0.2 0.267 0.334 0.401 0.467 0.534 0.601 0.668 0.734 0.801 0.868 0.935 1 1 1 1 1 1 1 1 1 1 1 1 1 1 1 1 0.96 0.894 0.827 0.76 0.693 0.627 0.56 0.493 0.426 0.36 0.293 0.226 0.159 0.092 0.026 0 0 0 0 0 0 0 0 0 0 0 0 0 0"/><feFuncB type="table" tableValues="1 1 1 1 1 1 1 1 1 1 1 1 1 1 1 0.999 0.936 0.874 0.811 0.749 0.679 0.609 0.539 0.467 0.391 0.316 0.24 0.18 0.127 0.074 0.022 0 0 0 0 0 0 0 0 0 0 0 0 0 0 0 0 0 0 0 0 0 0 0 0 0 0 0 0 0"/><feFuncA type="discrete" tableValues="0 1"/></feComponentTransfer></filter><g clip-path="url(#fc4)"><g clip-path="url(#sc4)"><g filter="url(#f4)"><g clip-path="url(#dc4)"><rect x="335" y="869.4" width="500.3" height="393.1" fill="#7e7e7e"/><g filter="url(#b10)"><rect x="600.7" y="855" width="187.8" height="399.3" fill="none"/><path d="M663.8 895.3C678.4 886.1 736.9 880.6 751.6 892C766.2 903.4 753.2 935.4 751.6 963.6C750 991.8 744.5 1031.3 741.8 1061.2C739.1 1091 742.9 1116.4 735.3 1142.5C727.7 1168.5 712.5 1208.1 696.3 1217.3C680 1226.5 644.2 1217.3 637.7 1197.8C631.2 1178.2 648 1132.7 657.3 1100.2C666.5 1067.7 691.9 1028.1 693 1002.6C694.1 977.1 668.6 965.2 663.8 947.3C658.9 929.4 649.1 904.5 663.8 895.3Z" fill="#878787" opacity="0.9"/></g><g filter="url(#b6)"><rect x="651.8" y="867" width="116.7" height="147.6" fill="none"/><path d="M722.3 892C731.3 886.6 742.9 889.3 743.4 898.5C744 907.7 731.3 932.1 725.6 947.3C719.9 962.5 717.4 984.7 709.3 989.6C701.2 994.5 680 986.3 676.8 976.6C673.5 966.8 682.2 945.1 689.8 931.1C697.4 917 713.4 897.4 722.3 892Z" fill="#8d8d8d" opacity="0.7"/></g><g filter="url(#b6)"><rect x="635" y="1152.7" width="77" height="77" fill="none"/><ellipse cx="673.5" cy="1191.3" rx="19.5" ry="13" fill="#8d8d8d" transform="rotate(30 673.5 1191.3)" opacity="0.7"/></g><g filter="url(#b6)"><rect x="718.4" y="841" width="84" height="232.1" fill="none"/><path d="M756.5 879C756.7 882.3 758.1 885 758.1 898.5C758.1 912.1 755.9 941.4 756.5 960.3C757 979.3 760 999.9 761.3 1012.4C762.7 1024.8 763.9 1031.3 764.4 1035.1" fill="none" stroke="#626262" stroke-width="26" stroke-linecap="round" stroke-linejoin="round"/></g><g filter="url(#b8)"><rect x="676.7" y="1044.8" width="138.4" height="271.8" fill="none"/><path d="M766.2 1093.7C766.2 1099.1 767 1115.4 766.2 1126.2C765.4 1137 763.5 1147.9 761.3 1158.7C759.2 1169.6 756.2 1180.4 753.2 1191.3C750.2 1202.1 747.2 1212.9 743.4 1223.8C739.7 1234.6 733.4 1249 730.4 1256.3C727.5 1263.6 726.4 1265.8 725.6 1267.7" fill="none" stroke="#626262" stroke-width="35.8" stroke-linecap="round" stroke-linejoin="round"/></g><g filter="url(#b6)"><rect x="729.5" y="987.4" width="76.3" height="160.6" fill="none"/><path d="M764.3 1022.1C764.9 1026.5 766.7 1038.9 767.8 1048.1C769 1057.4 770.6 1066.6 771.1 1077.4C771.6 1088.3 771.1 1107.2 771.1 1113.2" fill="none" stroke="#6c6c6c" stroke-width="19.5" stroke-linecap="round" stroke-linejoin="round"/></g><g filter="url(#b3)"><rect x="715.4" y="858.1" width="82.4" height="430.4" fill="none"/><path d="M763.9 879C764.2 882.3 765.6 885 765.6 898.5C765.6 912.1 763.4 941.4 763.9 960.3C764.5 979.3 767.2 997.7 768.8 1012.4C770.4 1027 772.3 1037.3 773.7 1048.1C775.1 1059 776.4 1064.4 776.9 1077.4C777.5 1090.4 777.8 1112.7 776.9 1126.2C776.1 1139.8 774.2 1147.9 772.1 1158.7C769.9 1169.6 766.9 1180.4 763.9 1191.3C761 1202.1 758 1212.9 754.2 1223.8C750.4 1234.6 744.2 1249 741.2 1256.3C738.2 1263.6 737.1 1265.8 736.3 1267.7" fill="none" stroke="#474747" stroke-width="9.8" stroke-linecap="round" stroke-linejoin="round"/></g><g filter="url(#b3)"><rect x="719.3" y="1019.1" width="72.7" height="75.9" fill="none"/><path d="M771.1 1040C768.4 1042.5 760 1049 754.8 1054.6C749.7 1060.3 742.6 1070.9 740.2 1074.2" fill="none" stroke="#a1a1a1" stroke-width="9.8" stroke-linecap="round" stroke-linejoin="round"/></g><g filter="url(#b2)"><rect x="755.6" y="1027.8" width="24.4" height="24.4" fill="none"/><ellipse cx="767.8" cy="1040" rx="5.2" ry="5.2" fill="#bababa"/></g><ellipse cx="769.5" cy="895.3" rx="1.6" ry="6.5" fill="#141414"/></g></g></g><polygon points="766.8,868.7 766.8,872.3 768.9,882.2 771.9,892.5 773.5,902.9 773.5,916.6 772.4,927 770.2,939.9 766.8,953.6 766.1,959.7 767.6,974.3 769.3,991.5 770.2,1008.7 772.8,1025.9 775.4,1038.9 777.1,1046.6 779.2,1050.2 779.2,1050.2 783,1051.7 786.5,1055.7 789,1061.7 790.9,1071.9 793.4,1077.9 796,1088.2 798.6,1101.1 802.1,1111.5 808.1,1120.9 809.8,1132.1 811.5,1142.5 814,1145.2 817,1140.2 819.5,1140.7 815.8,1146.8 818.4,1157.1 821,1165.7 821.9,1178.6 820.1,1187.2 820.1,1195.8 816.7,1204.4 812.4,1213 808.1,1221.6 803.8,1232 808.1,1230.3 815,1226 819.3,1221.6 821.9,1219.1 826.2,1222.5 821.9,1224.2 820.1,1232 822.7,1238 827.9,1241.4 832.6,1250 836,1253.7 840,1253.7 840,868.7" fill="#cccccc"/><polygon points="778,1053.7 779.6,1059.7 780.5,1066.7 781.4,1083.9 781.4,1101.1 781,1118.3 779.7,1135.6 777.1,1152.8 773.6,1170 769.3,1187.2 764.2,1204.4 758.2,1221.6 751.3,1238.9 744.4,1255.2 742,1261.7 750,1261.7 751.3,1258.7 753.8,1254.4 756.4,1247.5 763.3,1242.3 768.5,1238.9 767.6,1234.6 769.8,1227.7 768.5,1221.6 771.9,1214.8 775.4,1207.9 777.1,1201 782.7,1195.8 782.3,1188.9 778,1182.9 781.4,1174.3 784.8,1161.4 786.1,1144.2 788.3,1127 789.6,1109.7 790,1092.5 789.6,1075.3 788.3,1066.7 786,1059.7 782.5,1054.2" fill="#cccccc"/><polyline points="766.8,868.7 766.8,872.3 768.9,882.2 771.9,892.5 773.5,902.9 773.5,916.6 772.4,927 770.2,939.9 766.8,953.6 766.1,959.7 767.6,974.3 769.3,991.5 770.2,1008.7 772.8,1025.9 775.4,1038.9 777.1,1046.6 779.2,1050.2 779.2,1050.2 783,1051.7 786.5,1055.7 789,1061.7 790.9,1071.9 793.4,1077.9 796,1088.2 798.6,1101.1 802.1,1111.5 808.1,1120.9 809.8,1132.1 811.5,1142.5 814,1145.2 817,1140.2 819.5,1140.7 815.8,1146.8 818.4,1157.1 821,1165.7 821.9,1178.6 820.1,1187.2 820.1,1195.8 816.7,1204.4 812.4,1213 808.1,1221.6 803.8,1232 808.1,1230.3 815,1226 819.3,1221.6 821.9,1219.1 826.2,1222.5 821.9,1224.2 820.1,1232 822.7,1238 827.9,1241.4 832.6,1250 836,1253.7" fill="none" stroke="#707070" stroke-width="2.2" stroke-linejoin="round"/><polyline points="779.2,1050.2 778,1053.7 779.6,1059.7 780.5,1066.7 781.4,1083.9 781.4,1101.1 781,1118.3 779.7,1135.6 777.1,1152.8 773.6,1170 769.3,1187.2 764.2,1204.4 758.2,1221.6 751.3,1238.9 744.4,1255.2 742,1261.7" fill="none" stroke="#707070" stroke-width="2.2" stroke-linejoin="round"/><polyline points="750,1261.7 751.3,1258.7 753.8,1254.4 756.4,1247.5 763.3,1242.3 768.5,1238.9 767.6,1234.6 769.8,1227.7 768.5,1221.6 771.9,1214.8 775.4,1207.9 777.1,1201 782.7,1195.8 782.3,1188.9 778,1182.9 781.4,1174.3 784.8,1161.4 786.1,1144.2 788.3,1127 789.6,1109.7 790,1092.5 789.6,1075.3 788.3,1066.7 786,1059.7 782.5,1054.2 779.2,1050.2" fill="none" stroke="#707070" stroke-width="2.2" stroke-linejoin="round"/><polyline points="768.9,882.2 775,880.3 782.3,878.8 789,876.7 795.2,874.9 799.5,878.8 803,880 807.2,879.6 808.8,875.7 809.8,872.3 810,868.7" fill="none" stroke="#707070" stroke-width="2.2" stroke-linejoin="round"/><polygon points="791.5,1072.7 793.5,1075.7 796,1081.7 797.8,1084.2 797,1079.7 795,1075.2 792.8,1072.2" fill="#7d7d7d"/><path d="M474.9 915.1h18M483.9 906.1v18M744 916.7h18M753 907.7v18M472.4 1154.3h18M481.4 1145.3v18M743.4 1155.6h18M752.4 1146.6v18" stroke="#1a1a1a" stroke-width="1.5" fill="none"/></g><text class="lb" transform="translate(342.4 1244.9) scale(1 1.065)">SST, July 26</text>
<path d="M484.8 868.4v-7M752.8 868.4v-7M480.3 1263.5v7M752.4 1263.5v7M334 911.4h-7M334 1150.4h-7M836.3 916.1h7M836.3 1155.7h7" stroke="#000" stroke-width="5.6" stroke-linecap="round" fill="none"/>
<clipPath id="fc5"><rect x="845" y="869.4" width="501" height="393.1"/></clipPath><clipPath id="dc5"><polygon points="1177,895.3 1277.8,883.9 1297.4,882.3 1297.4,1266.1 1260,1266.1 1245.3,1256.3 1124.3,1183.1"/></clipPath><clipPath id="sc5"><polygon points="810,851.7 1276.8,868.7 1276.8,872.3 1278.9,882.2 1281.9,892.5 1283.5,902.9 1283.5,916.6 1282.4,927 1280.2,939.9 1276.8,953.6 1276.1,959.7 1277.6,974.3 1279.3,991.5 1280.2,1008.7 1282.8,1025.9 1285.4,1038.9 1287.1,1046.6 1289.2,1050.2 1288,1053.7 1289.6,1059.7 1290.5,1066.7 1291.4,1083.9 1291.4,1101.1 1291,1118.3 1289.7,1135.6 1287.1,1152.8 1283.6,1170 1279.3,1187.2 1274.2,1204.4 1268.2,1221.6 1261.3,1238.9 1254.4,1255.2 1252,1261.7 810,1271.7"/></clipPath><filter id="f5" filterUnits="userSpaceOnUse" x="845" y="869.4" width="501" height="393.1" color-interpolation-filters="sRGB"><feTurbulence type="fractalNoise" baseFrequency="0.21" numOctaves="3" seed="8" result="n"/><feColorMatrix in="n" type="matrix" values="1 0 0 0 0 1 0 0 0 0 1 0 0 0 0 0 0 0 0 1" result="g"/><feComposite in="SourceGraphic" in2="g" operator="arithmetic" k1="0.75" k2="0.625" k3="0.07692307692307693" k4="-0.038461538461538464"/><feComponentTransfer><feFuncR type="table" tableValues="0 0 0 0 0 0 0 0 0 0 0 0 0 0 0 0.002 0.079 0.155 0.232 0.309 0.375 0.439 0.504 0.567 0.627 0.686 0.746 0.804 0.861 0.919 0.977 1 1 1 1 1 1 1 1 1 1 1 1 1 1 1 1 1 1 1 1 1 1 1 1 1 1 1 1 1"/><feFuncG type="table" tableValues="0 0.067 0.134 0.2 0.267 0.334 0.401 0.467 0.534 0.601 0.668 0.734 0.801 0.868 0.935 1 1 1 1 1 1 1 1 1 1 1 1 1 1 1 1 0.96 0.894 0.827 0.76 0.693 0.627 0.56 0.493 0.426 0.36 0.293 0.226 0.159 0.092 0.026 0 0 0 0 0 0 0 0 0 0 0 0 0 0"/><feFuncB type="table" tableValues="1 1 1 1 1 1 1 1 1 1 1 1 1 1 1 0.999 0.936 0.874 0.811 0.749 0.679 0.609 0.539 0.467 0.391 0.316 0.24 0.18 0.127 0.074 0.022 0 0 0 0 0 0 0 0 0 0 0 0 0 0 0 0 0 0 0 0 0 0 0 0 0 0 0 0 0"/></feComponentTransfer></filter><g clip-path="url(#fc5)"><g clip-path="url(#sc5)"><g clip-path="url(#dc5)"><g filter="url(#f5)"><rect x="845" y="869.4" width="501" height="393.1" fill="#474747"/><g filter="url(#b3)"><rect x="1217.2" y="866.4" width="81.7" height="182.5" fill="none"/><path d="M1262.5 883.7C1265.9 879.4 1279.5 857.7 1282.9 882.4C1286.3 907 1284.8 1006.5 1282.9 1031.6C1281 1056.7 1274.8 1035.4 1271.4 1032.9C1268 1030.3 1265.3 1023.3 1262.5 1016.3C1259.7 1009.3 1257 998 1254.9 990.8C1252.7 983.6 1252.3 978.3 1249.8 972.9C1247.2 967.6 1242.3 964 1239.6 958.9C1236.8 953.8 1233.2 947.6 1233.2 942.3C1233.2 937 1236.4 931.1 1239.6 927C1242.7 923 1248.5 921.3 1252.3 918.1C1256.1 914.9 1260.8 913.6 1262.5 907.9C1264.2 902.1 1259.1 887.9 1262.5 883.7Z" fill="#272727"/></g><g filter="url(#b4)"><rect x="1246.1" y="918.2" width="53.3" height="104.3" fill="none"/><path d="M1265.1 939.8C1267 930.8 1277.8 926.6 1280.4 937.2C1282.9 947.9 1282.3 994.6 1280.4 1003.6C1278.5 1012.5 1271.4 1001.4 1268.9 990.8C1266.3 980.2 1263.1 948.7 1265.1 939.8Z" fill="#1a1a1a" opacity="0.8"/></g><g filter="url(#b3)"><rect x="1153.4" y="876.6" width="63.9" height="72.8" fill="none"/><path d="M1173.2 893.9C1178.5 887.1 1197 889.2 1201.3 892.6C1205.5 896 1200.9 908.1 1198.7 914.3C1196.6 920.4 1193.4 926.4 1188.5 929.6C1183.6 932.8 1171.9 939.4 1169.4 933.4C1166.8 927.4 1167.9 900.7 1173.2 893.9Z" fill="#2c2c2c"/></g><g filter="url(#b4)"><rect x="1128.7" y="984.6" width="112" height="91.6" fill="none"/><path d="M1160.5 1018.9C1171.5 1009.9 1203.8 1002.9 1214 1003.6C1224.2 1004.2 1223.8 1015.9 1221.7 1022.7C1219.6 1029.5 1213.6 1038.6 1201.3 1044.4C1189 1050.1 1154.5 1061.4 1147.7 1057.1C1140.9 1052.9 1149.4 1027.8 1160.5 1018.9Z" fill="#353535"/></g><g filter="url(#b4)"><rect x="1218" y="1100.6" width="91.6" height="180.9" fill="none"/><path d="M1265.1 1127.2C1270.4 1122.3 1287.2 1112.8 1290.6 1119.6C1294 1126.4 1289.3 1149.3 1285.5 1168C1281.6 1186.7 1273.1 1216.1 1267.6 1231.8C1262.1 1247.5 1257 1258.8 1252.3 1262.4C1247.6 1266 1242.1 1262.9 1239.6 1253.5C1237 1244.1 1237 1217.4 1237 1206.3C1237 1195.3 1237 1193.6 1239.6 1187.2C1242.1 1180.8 1249.1 1174.4 1252.3 1168C1255.5 1161.7 1256.6 1155.7 1258.7 1148.9C1260.8 1142.1 1259.7 1132.1 1265.1 1127.2Z" fill="#272727"/></g><g filter="url(#b5)"><rect x="1128.3" y="1059.3" width="95" height="118" fill="none"/><path d="M1156.6 1085.1C1163 1074.9 1181.1 1078.1 1188.5 1081.3C1196 1084.5 1200.2 1094.1 1201.3 1104.3C1202.3 1114.5 1200.2 1134 1194.9 1142.5C1189.6 1151 1176.8 1155.3 1169.4 1155.3C1162 1155.3 1152.4 1154.2 1150.3 1142.5C1148.1 1130.8 1150.3 1095.3 1156.6 1085.1Z" fill="#474747" opacity="0.8"/></g><g filter="url(#b10)"><rect x="1094.1" y="1029" width="182.4" height="233.4" fill="none"/><path d="M1143.9 1066C1162 1046.9 1223.6 1046.9 1239.6 1066C1255.5 1085.1 1248.1 1154.2 1239.6 1180.8C1231 1207.4 1206.6 1225.4 1188.5 1225.4C1170.5 1225.4 1138.6 1207.4 1131.1 1180.8C1123.7 1154.2 1125.8 1085.1 1143.9 1066Z" fill="#5c5c5c" opacity="0.7"/></g><g filter="url(#b4)"><rect x="1105.8" y="1136.3" width="89" height="76.3" fill="none"/><path d="M1127.3 1161.7C1133.7 1157.4 1154.9 1153.2 1163 1155.3C1171.1 1157.4 1177.9 1168 1175.8 1174.4C1173.6 1180.8 1158.8 1192.5 1150.3 1193.6C1141.8 1194.6 1128.6 1186.1 1124.8 1180.8C1120.9 1175.5 1120.9 1165.9 1127.3 1161.7Z" fill="#383838" opacity="0.8"/></g><g filter="url(#b3)"><rect x="1152.1" y="911" width="60.1" height="53.7" fill="none"/><path d="M1168.1 934.7C1171.9 931.1 1186.4 926.8 1191.1 927C1195.8 927.2 1197.5 933.2 1196.2 935.9C1194.9 938.7 1188.1 941.5 1183.4 943.6C1178.8 945.7 1170.7 950.2 1168.1 948.7C1165.6 947.2 1164.3 938.3 1168.1 934.7Z" fill="#858585"/></g><g filter="url(#b4)"><rect x="1138.9" y="956.5" width="89" height="73.7" fill="none"/><path d="M1163 975.5C1167.3 971.9 1177.1 972.9 1183.4 975.5C1189.8 978 1197 986.1 1201.3 990.8C1205.5 995.5 1211.1 1000.1 1208.9 1003.6C1206.8 1007 1195.8 1011.2 1188.5 1011.2C1181.3 1011.2 1170.7 1005.9 1165.6 1003.6C1160.5 1001.2 1158.3 1001.9 1157.9 997.2C1157.5 992.5 1158.8 979.1 1163 975.5Z" fill="#767676"/></g><g filter="url(#b5)"><rect x="1151.2" y="1010.9" width="110.3" height="87.1" fill="none"/><path d="M1173.2 1039.3C1179.4 1032.1 1209.4 1030.3 1220.4 1032.9C1231.5 1035.4 1236.4 1047.4 1239.6 1054.6C1242.7 1061.8 1248.9 1072.4 1239.6 1076C1230.2 1079.6 1194.5 1082.1 1183.4 1076C1172.4 1069.9 1167.1 1046.5 1173.2 1039.3Z" fill="#7a7a7a"/></g><g filter="url(#b4)"><rect x="1220.6" y="968" width="67.3" height="96.7" fill="none"/><path d="M1239.6 990.8C1241.5 984.8 1254.9 982.7 1258.7 987C1262.5 991.2 1260.8 1007.2 1262.5 1016.3C1264.2 1025.4 1269.5 1036.9 1268.9 1041.8C1268.2 1046.7 1262.3 1048.8 1258.7 1045.6C1255.1 1042.5 1250.4 1031.8 1247.2 1022.7C1244 1013.5 1237.6 996.7 1239.6 990.8Z" fill="#898989"/></g><g filter="url(#b5)"><rect x="1217.6" y="1047.8" width="83.5" height="107.8" fill="none"/><path d="M1239.6 1078.8C1244.7 1073 1264.8 1067.7 1271.4 1069.8C1278 1072 1278.9 1083.6 1279.1 1091.5C1279.3 1099.4 1276.1 1110 1272.7 1117C1269.3 1124 1263.1 1132.5 1258.7 1133.6C1254.2 1134.7 1248.9 1128.3 1245.9 1123.4C1243 1118.5 1241.9 1111.7 1240.8 1104.3C1239.8 1096.8 1234.4 1084.5 1239.6 1078.8Z" fill="#8d8d8d"/></g><g filter="url(#b4)"><rect x="1184.1" y="1112.6" width="99.5" height="54.8" fill="none"/><path d="M1208.9 1137.4C1213 1137.9 1224.9 1139.1 1233.2 1140C1241.5 1140.8 1254.4 1142.1 1258.7 1142.5" fill="none" stroke="#7a7a7a" stroke-width="11.7" stroke-linecap="round" stroke-linejoin="round"/></g><g filter="url(#b5)"><rect x="1141" y="1140.9" width="107.8" height="88.6" fill="none"/><path d="M1203.8 1162.9C1208.1 1161.2 1220.4 1164 1224.2 1168C1228.1 1172.1 1228.5 1181.9 1226.8 1187.2C1225.1 1192.5 1219.4 1196.5 1214 1199.9C1208.7 1203.3 1202.3 1206.7 1194.9 1207.6C1187.5 1208.4 1174.7 1206.9 1169.4 1205C1164.1 1203.1 1160.7 1198.9 1163 1196.1C1165.4 1193.3 1177.5 1191.4 1183.4 1188.4C1189.4 1185.5 1195.3 1182.5 1198.7 1178.2C1202.1 1174 1199.6 1164.6 1203.8 1162.9Z" fill="#8d8d8d"/></g><g filter="url(#b3)"><rect x="1131.7" y="1060.2" width="88.2" height="61.4" fill="none"/><path d="M1150.3 1103C1154.5 1099.6 1167.3 1086.6 1175.8 1082.6C1184.3 1078.5 1197 1079.4 1201.3 1078.8" fill="none" stroke="#727272" stroke-width="5.2" stroke-linecap="round" stroke-linejoin="round"/></g><g filter="url(#b2)"><rect x="1154.4" y="1094.4" width="41.4" height="41.4" fill="none"/><path d="M1169.4 1120.8 L1180.9 1109.4" fill="none" stroke="#999999" stroke-width="3.9" stroke-linecap="round" stroke-linejoin="round"/></g><g filter="url(#b2)"><rect x="1116.2" y="1140.3" width="32.5" height="37.6" fill="none"/><path d="M1131.1 1155.3 L1133.7 1162.9" fill="none" stroke="#939393" stroke-width="3.9" stroke-linecap="round" stroke-linejoin="round"/></g><g filter="url(#b1_5)"><rect x="1131.1" y="1115.7" width="44.7" height="38.4" fill="none"/><path d="M1143.9 1141.3C1145.6 1139.8 1150.9 1134.5 1154.1 1132.3C1157.3 1130.2 1161.5 1129.1 1163 1128.5" fill="none" stroke="#d8d8d8" stroke-width="2.6" stroke-linecap="round" stroke-linejoin="round"/></g><g filter="url(#b2)"><rect x="1140.7" y="1001.7" width="36.9" height="30.5" fill="none"/><path d="M1155.4 1017.6 L1163 1016.3" fill="none" stroke="#a7a7a7" stroke-width="3.3" stroke-linecap="round" stroke-linejoin="round"/></g><g filter="url(#b3)"><rect x="1207" y="870.2" width="71.5" height="56.2" fill="none"/><path d="M1223 888.8C1228.7 885.6 1254.6 884.1 1261.2 886.2C1267.8 888.3 1266.1 897.5 1262.5 901.5C1258.9 905.5 1245.5 909.8 1239.6 910.4C1233.6 911.1 1229.6 909 1226.8 905.3C1224 901.7 1217.2 891.9 1223 888.8Z" fill="#9d9d9d"/></g><g filter="url(#b2)"><rect x="1152.6" y="897.4" width="112.7" height="106.4" fill="none"/><path d="M1203.8 913C1207 910.7 1214.5 908.1 1217.9 910.4C1221.3 912.8 1221.9 920.9 1224.2 927C1226.6 933.2 1229.3 941.3 1231.9 947.4C1234.4 953.6 1236.6 959.3 1239.6 964C1242.5 968.7 1247.6 971.9 1249.8 975.5C1251.9 979.1 1252.7 983.1 1252.3 985.7C1251.9 988.2 1249.8 990.4 1247.2 990.8C1244.7 991.2 1240.4 988.9 1237 988.2C1233.6 987.6 1229.1 988 1226.8 987C1224.5 985.9 1225.1 981.7 1223 981.9C1220.8 982.1 1216.8 987.6 1214 988.2C1211.3 988.9 1209.8 986.5 1206.4 985.7C1203 984.8 1197.5 985.3 1193.6 983.1C1189.8 981 1185.8 975.9 1183.4 972.9C1181.1 970 1179.2 967.8 1179.6 965.3C1180 962.7 1185.3 959.3 1186 957.6C1186.6 955.9 1186.2 954.9 1183.4 955.1C1180.7 955.3 1172.4 958.9 1169.4 958.9C1166.4 958.9 1165.8 956.8 1165.6 955.1C1165.4 953.4 1165.1 950.8 1168.1 948.7C1171.1 946.6 1179.2 944.5 1183.4 942.3C1187.7 940.2 1191.1 938.9 1193.6 935.9C1196.2 933 1197 928.3 1198.7 924.5C1200.4 920.6 1200.6 915.3 1203.8 913Z" fill="#ffffff"/></g><g filter="url(#b3)"><rect x="1189.1" y="875.3" width="49.9" height="51.1" fill="none"/><path d="M1205.1 892.6C1207.5 890.5 1217.4 889.8 1220.4 891.3C1223.4 892.8 1224 898.3 1223 901.5C1221.9 904.7 1216.8 910 1214 910.4C1211.3 910.9 1207.9 907 1206.4 904.1C1204.9 901.1 1202.8 894.7 1205.1 892.6Z" fill="#cecece"/></g><g filter="url(#b3)"><rect x="1203.1" y="972.2" width="81.7" height="121.3" fill="none"/><path d="M1219.1 990.8C1221.5 987.2 1230.8 986.1 1234.4 988.2C1238.1 990.4 1238.7 997.8 1240.8 1003.6C1243 1009.3 1245.1 1016.3 1247.2 1022.7C1249.3 1029.1 1250.8 1035.4 1253.6 1041.8C1256.3 1048.2 1261.2 1055 1263.8 1060.9C1266.3 1066.9 1270.2 1074.8 1268.9 1077.5C1267.6 1080.3 1259.7 1081.4 1256.1 1077.5C1252.5 1073.7 1250.4 1061.6 1247.2 1054.6C1244 1047.6 1240.4 1040.8 1237 1035.4C1233.6 1030.1 1229.6 1026.9 1226.8 1022.7C1224 1018.4 1221.7 1015.2 1220.4 1009.9C1219.1 1004.6 1216.8 994.4 1219.1 990.8Z" fill="#c8c8c8"/></g><g filter="url(#b1_5)"><rect x="1147.7" y="969.1" width="26.9" height="38.4" fill="none"/><path d="M1161.7 981.9 L1160.5 994.6" fill="none" stroke="#d8d8d8" stroke-width="2.6" stroke-linecap="round" stroke-linejoin="round"/></g><g filter="url(#b2)"><rect x="1255.9" y="1021.2" width="46.4" height="84.7" fill="none"/><path d="M1268.9 1041.8C1269.3 1037.4 1270.4 1035.2 1272.7 1034.2C1275.1 1033.1 1280.6 1032 1282.9 1035.4C1285.3 1038.8 1285.7 1046.3 1286.7 1054.6C1287.8 1062.9 1290.1 1078.8 1289.3 1085.2C1288.4 1091.6 1283.8 1094.4 1281.6 1092.8C1279.5 1091.3 1278.5 1081.3 1276.5 1076C1274.6 1070.7 1271.4 1066.6 1270.2 1060.9C1268.9 1055.3 1268.5 1046.3 1268.9 1041.8Z" fill="#ffffff"/></g></g></g></g><polygon points="1276.8,868.7 1276.8,872.3 1278.9,882.2 1281.9,892.5 1283.5,902.9 1283.5,916.6 1282.4,927 1280.2,939.9 1276.8,953.6 1276.1,959.7 1277.6,974.3 1279.3,991.5 1280.2,1008.7 1282.8,1025.9 1285.4,1038.9 1287.1,1046.6 1289.2,1050.2 1289.2,1050.2 1293,1051.7 1296.5,1055.7 1299,1061.7 1300.9,1071.9 1303.4,1077.9 1306,1088.2 1308.6,1101.1 1312.1,1111.5 1318.1,1120.9 1319.8,1132.1 1321.5,1142.5 1324,1145.2 1327,1140.2 1329.5,1140.7 1325.8,1146.8 1328.4,1157.1 1331,1165.7 1331.9,1178.6 1330.1,1187.2 1330.1,1195.8 1326.7,1204.4 1322.4,1213 1318.1,1221.6 1313.8,1232 1318.1,1230.3 1325,1226 1329.3,1221.6 1331.9,1219.1 1336.2,1222.5 1331.9,1224.2 1330.1,1232 1332.7,1238 1337.9,1241.4 1342.6,1250 1346,1253.7 1350,1253.7 1350,868.7" fill="#cccccc"/><polygon points="1288,1053.7 1289.6,1059.7 1290.5,1066.7 1291.4,1083.9 1291.4,1101.1 1291,1118.3 1289.7,1135.6 1287.1,1152.8 1283.6,1170 1279.3,1187.2 1274.2,1204.4 1268.2,1221.6 1261.3,1238.9 1254.4,1255.2 1252,1261.7 1260,1261.7 1261.3,1258.7 1263.8,1254.4 1266.4,1247.5 1273.3,1242.3 1278.5,1238.9 1277.6,1234.6 1279.8,1227.7 1278.5,1221.6 1281.9,1214.8 1285.4,1207.9 1287.1,1201 1292.7,1195.8 1292.3,1188.9 1288,1182.9 1291.4,1174.3 1294.8,1161.4 1296.1,1144.2 1298.3,1127 1299.6,1109.7 1300,1092.5 1299.6,1075.3 1298.3,1066.7 1296,1059.7 1292.5,1054.2" fill="#cccccc"/><polyline points="1276.8,868.7 1276.8,872.3 1278.9,882.2 1281.9,892.5 1283.5,902.9 1283.5,916.6 1282.4,927 1280.2,939.9 1276.8,953.6 1276.1,959.7 1277.6,974.3 1279.3,991.5 1280.2,1008.7 1282.8,1025.9 1285.4,1038.9 1287.1,1046.6 1289.2,1050.2 1289.2,1050.2 1293,1051.7 1296.5,1055.7 1299,1061.7 1300.9,1071.9 1303.4,1077.9 1306,1088.2 1308.6,1101.1 1312.1,1111.5 1318.1,1120.9 1319.8,1132.1 1321.5,1142.5 1324,1145.2 1327,1140.2 1329.5,1140.7 1325.8,1146.8 1328.4,1157.1 1331,1165.7 1331.9,1178.6 1330.1,1187.2 1330.1,1195.8 1326.7,1204.4 1322.4,1213 1318.1,1221.6 1313.8,1232 1318.1,1230.3 1325,1226 1329.3,1221.6 1331.9,1219.1 1336.2,1222.5 1331.9,1224.2 1330.1,1232 1332.7,1238 1337.9,1241.4 1342.6,1250 1346,1253.7" fill="none" stroke="#707070" stroke-width="2.2" stroke-linejoin="round"/><polyline points="1289.2,1050.2 1288,1053.7 1289.6,1059.7 1290.5,1066.7 1291.4,1083.9 1291.4,1101.1 1291,1118.3 1289.7,1135.6 1287.1,1152.8 1283.6,1170 1279.3,1187.2 1274.2,1204.4 1268.2,1221.6 1261.3,1238.9 1254.4,1255.2 1252,1261.7" fill="none" stroke="#707070" stroke-width="2.2" stroke-linejoin="round"/><polyline points="1260,1261.7 1261.3,1258.7 1263.8,1254.4 1266.4,1247.5 1273.3,1242.3 1278.5,1238.9 1277.6,1234.6 1279.8,1227.7 1278.5,1221.6 1281.9,1214.8 1285.4,1207.9 1287.1,1201 1292.7,1195.8 1292.3,1188.9 1288,1182.9 1291.4,1174.3 1294.8,1161.4 1296.1,1144.2 1298.3,1127 1299.6,1109.7 1300,1092.5 1299.6,1075.3 1298.3,1066.7 1296,1059.7 1292.5,1054.2 1289.2,1050.2" fill="none" stroke="#707070" stroke-width="2.2" stroke-linejoin="round"/><polyline points="1278.9,882.2 1285,880.3 1292.3,878.8 1299,876.7 1305.2,874.9 1309.5,878.8 1313,880 1317.2,879.6 1318.8,875.7 1319.8,872.3 1320,868.7" fill="none" stroke="#707070" stroke-width="2.2" stroke-linejoin="round"/><polygon points="1301.5,1072.7 1303.5,1075.7 1306,1081.7 1307.8,1084.2 1307,1079.7 1305,1075.2 1302.8,1072.2" fill="#7d7d7d"/><path d="M984.9 915.1h18M993.9 906.1v18M1254 916.7h18M1263 907.7v18M982.4 1154.3h18M991.4 1145.3v18M1253.4 1155.6h18M1262.4 1146.6v18" stroke="#1a1a1a" stroke-width="1.1" fill="none" opacity="0.75"/></g><text class="lb" transform="translate(858.3 1243.5) scale(1 1.065)">Chl-a, July 26</text>
<path d="M994.8 868.4v-7M1262.8 868.4v-7M990.3 1263.5v7M1262.4 1263.5v7M844 911.4h-7M844 1150.4h-7M1347 916.1h7M1347 1155.7h7" stroke="#000" stroke-width="5.6" stroke-linecap="round" fill="none"/>
<clipPath id="fc8"><rect x="335" y="1660.9" width="500.3" height="393.1"/></clipPath><clipPath id="dc8"><polygon points="332,1682.4 364.5,1682.4 364.5,1686.6 709.3,1686.6 709.3,1681.4 735.3,1681.4 735.3,1677.5 787.4,1677.5 787.4,2058.1 735.3,2058.1 727.2,2048.3 332,1806"/></clipPath><clipPath id="sc8"><polygon points="300,1643.2 766.8,1660.2 766.8,1663.8 768.9,1673.7 771.9,1684 773.5,1694.4 773.5,1708.1 772.4,1718.5 770.2,1731.4 766.8,1745.1 766.1,1751.2 767.6,1765.8 769.3,1783 770.2,1800.2 772.8,1817.4 775.4,1830.4 777.1,1838.1 779.2,1841.7 778,1845.2 779.6,1851.2 780.5,1858.2 781.4,1875.4 781.4,1892.6 781,1909.8 779.7,1927.1 777.1,1944.3 773.6,1961.5 769.3,1978.7 764.2,1995.9 758.2,2013.1 751.3,2030.4 744.4,2046.7 742,2053.2 300,2063.2"/></clipPath><filter id="f8" filterUnits="userSpaceOnUse" x="335" y="1660.9" width="500.3" height="393.1" color-interpolation-filters="sRGB"><feTurbulence type="fractalNoise" baseFrequency="0.13" numOctaves="2" seed="11" result="n"/><feColorMatrix in="n" type="matrix" values="1 0 0 0 0 1 0 0 0 0 1 0 0 0 0 0 0 0 0 1" result="g"/><feComposite in="SourceGraphic" in2="g" operator="arithmetic" k1="0" k2="1" k3="0.2" k4="-0.1"/><feComposite in2="SourceGraphic" operator="in" result="v"/><feFlood x="337" y="1662.9" width="1" height="1" flood-color="#000"/><feComposite width="5" height="5"/><feTile result="t"/><feComposite in="v" in2="t" operator="in"/><feMorphology operator="dilate" radius="2"/><feComponentTransfer><feFuncR type="table" tableValues="0 0 0 0 0 0 0 0 0 0 0 0 0 0 0 0.002 0.079 0.155 0.232 0.309 0.375 0.439 0.504 0.567 0.627 0.686 0.746 0.804 0.861 0.919 0.977 1 1 1 1 1 1 1 1 1 1 1 1 1 1 1 1 1 1 1 1 1 1 1 1 1 1 1 1 1"/><feFuncG type="table" tableValues="0 0.067 0.134 0.2 0.267 0.334 0.401 0.467 0.534 0.601 0.668 0.734 0.801 0.868 0.935 1 1 1 1 1 1 1 1 1 1 1 1 1 1 1 1 0.96 0.894 0.827 0.76 0.693 0.627 0.56 0.493 0.426 0.36 0.293 0.226 0.159 0.092 0.026 0 0 0 0 0 0 0 0 0 0 0 0 0 0"/><feFuncB type="table" tableValues="1 1 1 1 1 1 1 1 1 1 1 1 1 1 1 0.999 0.936 0.874 0.811 0.749 0.679 0.609 0.539 0.467 0.391 0.316 0.24 0.18 0.127 0.074 0.022 0 0 0 0 0 0 0 0 0 0 0 0 0 0 0 0 0 0 0 0 0 0 0 0 0 0 0 0 0"/><feFuncA type="discrete" tableValues="0 1"/></feComponentTransfer></filter><g clip-path="url(#fc8)"><g clip-path="url(#sc8)"><g filter="url(#f8)"><g clip-path="url(#dc8)"><rect x="335" y="1660.9" width="500.3" height="393.1" fill="#939393"/><linearGradient id="g8_7" gradientUnits="userSpaceOnUse" x1="332" y1="1658" x2="842" y2="1658"><stop offset="0%" stop-color="#979797"/><stop offset="30%" stop-color="#969696"/><stop offset="50%" stop-color="#929292"/><stop offset="65%" stop-color="#8d8d8d"/><stop offset="80%" stop-color="#898989"/><stop offset="100%" stop-color="#898989"/></linearGradient><rect x="335" y="1660.9" width="500.3" height="393.1" fill="url(#g8_7)"/><g filter="url(#b6)"><rect x="681" y="1628.1" width="126.4" height="474.5" fill="none"/><path d="M751.6 1671C751.9 1674.3 753.2 1677 753.2 1690.5C753.2 1704.1 751 1733.4 751.6 1752.3C752.1 1771.3 754.8 1789.7 756.5 1804.4C758.1 1819 760 1829.3 761.3 1840.1C762.7 1851 764 1856.4 764.6 1869.4C765.1 1882.4 765.4 1904.7 764.6 1918.2C763.8 1931.8 761.9 1939.9 759.7 1950.7C757.5 1961.6 754.6 1972.4 751.6 1983.3C748.6 1994.1 745.6 2004.9 741.8 2015.8C738 2026.6 731.8 2041 728.8 2048.3C725.8 2055.6 724.7 2057.8 723.9 2059.7" fill="none" stroke="#818181" stroke-width="35.8" stroke-linecap="round" stroke-linejoin="round"/></g><g filter="url(#b4)"><rect x="704" y="1642.9" width="96.9" height="444.9" fill="none"/><path d="M759.7 1671C760 1674.3 761.3 1677 761.3 1690.5C761.3 1704.1 759.2 1733.4 759.7 1752.3C760.3 1771.3 763 1789.7 764.6 1804.4C766.2 1819 768.1 1829.3 769.5 1840.1C770.8 1851 772.2 1856.4 772.7 1869.4C773.3 1882.4 773.5 1904.7 772.7 1918.2C771.9 1931.8 770 1939.9 767.8 1950.7C765.7 1961.6 762.7 1972.4 759.7 1983.3C756.7 1994.1 753.7 2004.9 750 2015.8C746.2 2026.6 739.9 2041 736.9 2048.3C734 2055.6 732.9 2057.8 732.1 2059.7" fill="none" stroke="#585858" stroke-width="18.2" stroke-linecap="round" stroke-linejoin="round"/></g><g filter="url(#b3)"><rect x="716.7" y="1650.8" width="81.1" height="429.1" fill="none"/><path d="M764.6 1671C764.9 1674.3 766.2 1677 766.2 1690.5C766.2 1704.1 764 1733.4 764.6 1752.3C765.1 1771.3 767.8 1789.7 769.5 1804.4C771.1 1819 773 1829.3 774.3 1840.1C775.7 1851 777.1 1856.4 777.6 1869.4C778.1 1882.4 778.4 1904.7 777.6 1918.2C776.8 1931.8 774.9 1939.9 772.7 1950.7C770.6 1961.6 767.6 1972.4 764.6 1983.3C761.6 1994.1 758.6 2004.9 754.8 2015.8C751 2026.6 744.8 2041 741.8 2048.3C738.8 2055.6 737.8 2057.8 736.9 2059.7" fill="none" stroke="#313131" stroke-width="8.5" stroke-linecap="round" stroke-linejoin="round" opacity="0.8"/></g><ellipse cx="751.6" cy="1736.1" rx="4.6" ry="3.9" fill="#0a0a0a"/><ellipse cx="756.5" cy="1765.3" rx="3.3" ry="5.2" fill="#0a0a0a"/><ellipse cx="761.3" cy="1827.1" rx="3.9" ry="2.6" fill="#0a0a0a"/><ellipse cx="766.2" cy="1872.7" rx="3.9" ry="3.9" fill="#0a0a0a"/><ellipse cx="774.3" cy="1898.7" rx="3.3" ry="3.3" fill="#0a0a0a"/><ellipse cx="754.8" cy="1980" rx="3.9" ry="3.3" fill="#0a0a0a"/><ellipse cx="745.1" cy="2006" rx="5.9" ry="6.5" fill="#0a0a0a"/><ellipse cx="733.7" cy="2028.8" rx="4.6" ry="4.6" fill="#0a0a0a"/><ellipse cx="730.4" cy="2043.4" rx="3.3" ry="3.3" fill="#101010"/><ellipse cx="738.6" cy="1729.6" rx="3.3" ry="2.6" fill="#141414"/><ellipse cx="748.3" cy="1801.1" rx="2.6" ry="3.3" fill="#141414"/></g></g></g><rect x="751.6" y="1749.1" width="4.6" height="4.6" fill="#fff"/><rect x="764.6" y="1791.4" width="3.3" height="7.2" fill="#fff"/><rect x="758.1" y="1823.9" width="5.9" height="3.3" fill="#fff"/><rect x="748.3" y="1983.3" width="3.9" height="4.6" fill="#fff"/><polygon points="766.8,1660.2 766.8,1663.8 768.9,1673.7 771.9,1684 773.5,1694.4 773.5,1708.1 772.4,1718.5 770.2,1731.4 766.8,1745.1 766.1,1751.2 767.6,1765.8 769.3,1783 770.2,1800.2 772.8,1817.4 775.4,1830.4 777.1,1838.1 779.2,1841.7 779.2,1841.7 783,1843.2 786.5,1847.2 789,1853.2 790.9,1863.4 793.4,1869.4 796,1879.7 798.6,1892.6 802.1,1903 808.1,1912.4 809.8,1923.6 811.5,1934 814,1936.7 817,1931.7 819.5,1932.2 815.8,1938.3 818.4,1948.6 821,1957.2 821.9,1970.1 820.1,1978.7 820.1,1987.3 816.7,1995.9 812.4,2004.5 808.1,2013.1 803.8,2023.5 808.1,2021.8 815,2017.5 819.3,2013.1 821.9,2010.6 826.2,2014 821.9,2015.7 820.1,2023.5 822.7,2029.5 827.9,2032.9 832.6,2041.5 836,2045.2 840,2045.2 840,1660.2" fill="#cccccc"/><polygon points="778,1845.2 779.6,1851.2 780.5,1858.2 781.4,1875.4 781.4,1892.6 781,1909.8 779.7,1927.1 777.1,1944.3 773.6,1961.5 769.3,1978.7 764.2,1995.9 758.2,2013.1 751.3,2030.4 744.4,2046.7 742,2053.2 750,2053.2 751.3,2050.2 753.8,2045.9 756.4,2039 763.3,2033.8 768.5,2030.4 767.6,2026.1 769.8,2019.2 768.5,2013.1 771.9,2006.3 775.4,1999.4 777.1,1992.5 782.7,1987.3 782.3,1980.4 778,1974.4 781.4,1965.8 784.8,1952.9 786.1,1935.7 788.3,1918.5 789.6,1901.2 790,1884 789.6,1866.8 788.3,1858.2 786,1851.2 782.5,1845.7" fill="#cccccc"/><polyline points="766.8,1660.2 766.8,1663.8 768.9,1673.7 771.9,1684 773.5,1694.4 773.5,1708.1 772.4,1718.5 770.2,1731.4 766.8,1745.1 766.1,1751.2 767.6,1765.8 769.3,1783 770.2,1800.2 772.8,1817.4 775.4,1830.4 777.1,1838.1 779.2,1841.7 779.2,1841.7 783,1843.2 786.5,1847.2 789,1853.2 790.9,1863.4 793.4,1869.4 796,1879.7 798.6,1892.6 802.1,1903 808.1,1912.4 809.8,1923.6 811.5,1934 814,1936.7 817,1931.7 819.5,1932.2 815.8,1938.3 818.4,1948.6 821,1957.2 821.9,1970.1 820.1,1978.7 820.1,1987.3 816.7,1995.9 812.4,2004.5 808.1,2013.1 803.8,2023.5 808.1,2021.8 815,2017.5 819.3,2013.1 821.9,2010.6 826.2,2014 821.9,2015.7 820.1,2023.5 822.7,2029.5 827.9,2032.9 832.6,2041.5 836,2045.2" fill="none" stroke="#707070" stroke-width="2.2" stroke-linejoin="round"/><polyline points="779.2,1841.7 778,1845.2 779.6,1851.2 780.5,1858.2 781.4,1875.4 781.4,1892.6 781,1909.8 779.7,1927.1 777.1,1944.3 773.6,1961.5 769.3,1978.7 764.2,1995.9 758.2,2013.1 751.3,2030.4 744.4,2046.7 742,2053.2" fill="none" stroke="#707070" stroke-width="2.2" stroke-linejoin="round"/><polyline points="750,2053.2 751.3,2050.2 753.8,2045.9 756.4,2039 763.3,2033.8 768.5,2030.4 767.6,2026.1 769.8,2019.2 768.5,2013.1 771.9,2006.3 775.4,1999.4 777.1,1992.5 782.7,1987.3 782.3,1980.4 778,1974.4 781.4,1965.8 784.8,1952.9 786.1,1935.7 788.3,1918.5 789.6,1901.2 790,1884 789.6,1866.8 788.3,1858.2 786,1851.2 782.5,1845.7 779.2,1841.7" fill="none" stroke="#707070" stroke-width="2.2" stroke-linejoin="round"/><polyline points="768.9,1673.7 775,1671.8 782.3,1670.3 789,1668.2 795.2,1666.4 799.5,1670.3 803,1671.5 807.2,1671.1 808.8,1667.2 809.8,1663.8 810,1660.2" fill="none" stroke="#707070" stroke-width="2.2" stroke-linejoin="round"/><polygon points="791.5,1864.2 793.5,1867.2 796,1873.2 797.8,1875.7 797,1871.2 795,1866.7 792.8,1863.7" fill="#7d7d7d"/><path d="M474.9 1706.6h18M483.9 1697.6v18M744 1708.2h18M753 1699.2v18M472.4 1945.8h18M481.4 1936.8v18M743.4 1947.1h18M752.4 1938.1v18" stroke="#1a1a1a" stroke-width="1.5" fill="none"/></g><text class="lb" transform="translate(345 2034.6) scale(1 1.065)">SST, July 29</text>
<path d="M484.8 1659.9v-7M752.8 1659.9v-7M480.3 2055v7M752.4 2055v7M334 1702.9h-7M334 1941.9h-7M836.3 1707.6h7M836.3 1947.2h7" stroke="#000" stroke-width="5.6" stroke-linecap="round" fill="none"/>
<clipPath id="fc9"><rect x="845" y="1660.9" width="501" height="393.1"/></clipPath><clipPath id="dc9"><polygon points="842,1682.4 1024.1,1686.6 1186.8,1687.9 1190,1685.6 1216,1684 1216,1681.4 1245.3,1679.5 1245.3,1676.9 1297.4,1674.9 1297.4,2058.1 1260,2058.1 1243.7,2048.3 842,1803.7"/></clipPath><clipPath id="sc9"><polygon points="810,1643.2 1276.8,1660.2 1276.8,1663.8 1278.9,1673.7 1281.9,1684 1283.5,1694.4 1283.5,1708.1 1282.4,1718.5 1280.2,1731.4 1276.8,1745.1 1276.1,1751.2 1277.6,1765.8 1279.3,1783 1280.2,1800.2 1282.8,1817.4 1285.4,1830.4 1287.1,1838.1 1289.2,1841.7 1288,1845.2 1289.6,1851.2 1290.5,1858.2 1291.4,1875.4 1291.4,1892.6 1291,1909.8 1289.7,1927.1 1287.1,1944.3 1283.6,1961.5 1279.3,1978.7 1274.2,1995.9 1268.2,2013.1 1261.3,2030.4 1254.4,2046.7 1252,2053.2 810,2063.2"/></clipPath><filter id="f9" filterUnits="userSpaceOnUse" x="845" y="1660.9" width="501" height="393.1" color-interpolation-filters="sRGB"><feTurbulence type="fractalNoise" baseFrequency="0.21" numOctaves="3" seed="12" result="n"/><feColorMatrix in="n" type="matrix" values="1 0 0 0 0 1 0 0 0 0 1 0 0 0 0 0 0 0 0 1" result="g"/><feComposite in="SourceGraphic" in2="g" operator="arithmetic" k1="0.75" k2="0.625" k3="0.07692307692307693" k4="-0.038461538461538464"/><feComponentTransfer><feFuncR type="table" tableValues="0 0 0 0 0 0 0 0 0 0 0 0 0 0 0 0.002 0.079 0.155 0.232 0.309 0.375 0.439 0.504 0.567 0.627 0.686 0.746 0.804 0.861 0.919 0.977 1 1 1 1 1 1 1 1 1 1 1 1 1 1 1 1 1 1 1 1 1 1 1 1 1 1 1 1 1"/><feFuncG type="table" tableValues="0 0.067 0.134 0.2 0.267 0.334 0.401 0.467 0.534 0.601 0.668 0.734 0.801 0.868 0.935 1 1 1 1 1 1 1 1 1 1 1 1 1 1 1 1 0.96 0.894 0.827 0.76 0.693 0.627 0.56 0.493 0.426 0.36 0.293 0.226 0.159 0.092 0.026 0 0 0 0 0 0 0 0 0 0 0 0 0 0"/><feFuncB type="table" tableValues="1 1 1 1 1 1 1 1 1 1 1 1 1 1 1 0.999 0.936 0.874 0.811 0.749 0.679 0.609 0.539 0.467 0.391 0.316 0.24 0.18 0.127 0.074 0.022 0 0 0 0 0 0 0 0 0 0 0 0 0 0 0 0 0 0 0 0 0 0 0 0 0 0 0 0 0"/></feComponentTransfer></filter><g clip-path="url(#fc9)"><g clip-path="url(#sc9)"><g clip-path="url(#dc9)"><g filter="url(#f9)"><rect x="845" y="1660.9" width="501" height="393.1" fill="#373737"/><g filter="url(#b4)"><rect x="816.1" y="1656.2" width="177.5" height="220.5" fill="none"/><path d="M835.1 1675.2C842.3 1654.6 868.4 1674.6 878.2 1680.4C887.9 1686.1 887.6 1701.3 893.7 1709.7C899.7 1718 906.9 1724 914.3 1730.3C921.8 1736.6 930.4 1741.2 938.4 1747.5C946.5 1753.9 956.5 1761.3 962.5 1768.2C968.6 1775.1 974 1782 974.6 1788.9C975.2 1795.8 969.1 1803.8 966 1809.5C962.8 1815.3 958 1818.2 955.7 1823.3C953.4 1828.5 955.7 1834.8 952.2 1840.5C948.8 1846.3 954.5 1863.8 935 1857.8C915.5 1851.7 851.8 1834.8 835.1 1804.4C818.5 1774 827.9 1695.9 835.1 1675.2Z" fill="#1e1e1e"/></g><g filter="url(#b5)"><rect x="1215" y="1649.8" width="95.7" height="202.4" fill="none"/><path d="M1243.9 1675.2C1252.5 1668.9 1281.2 1648.8 1288.6 1671.8C1296.1 1694.7 1293 1786.6 1288.6 1813C1284.3 1839.4 1268.6 1833.1 1262.8 1830.2C1257.1 1827.3 1256.8 1810.1 1254.2 1795.8C1251.6 1781.4 1250.2 1758.5 1247.3 1744.1C1244.4 1729.8 1237.6 1721.1 1237 1709.7C1236.4 1698.2 1235.3 1681.5 1243.9 1675.2Z" fill="#242424"/></g><g filter="url(#b5)"><rect x="1223.6" y="1851.3" width="93.9" height="224.8" fill="none"/><path d="M1264.5 1873.3C1269.1 1860.3 1290.4 1854.6 1295.5 1873.3C1300.7 1891.9 1299.6 1955.1 1295.5 1985.2C1291.5 2015.3 1279.7 2042.6 1271.4 2054.1C1263.1 2065.6 1248.5 2062.7 1245.6 2054.1C1242.7 2045.5 1250.5 2019.6 1254.2 2002.4C1257.9 1985.2 1266.3 1972.3 1268 1950.8C1269.7 1929.2 1259.9 1886.2 1264.5 1873.3Z" fill="#272727"/></g><g filter="url(#b5)"><rect x="1085.8" y="1701.4" width="99.1" height="99.1" fill="none"/><path d="M1123.3 1726.9C1131.9 1721.7 1152.9 1718.8 1159.5 1723.4C1166.1 1728 1164.9 1745.8 1162.9 1754.4C1160.9 1763 1154.6 1771.1 1147.4 1775.1C1140.3 1779.1 1126.5 1782 1119.9 1778.5C1113.3 1775.1 1107.3 1763 1107.8 1754.4C1108.4 1745.8 1114.7 1732 1123.3 1726.9Z" fill="#292929"/></g><g filter="url(#b5)"><rect x="1056.6" y="1670.4" width="99.1" height="92.2" fill="none"/><path d="M1078.6 1692.4C1086.3 1685.3 1115.9 1687.3 1125.1 1692.4C1134.2 1697.6 1136.5 1715.4 1133.7 1723.4C1130.8 1731.5 1117 1738.6 1107.8 1740.7C1098.6 1742.7 1083.4 1743.5 1078.6 1735.5C1073.7 1727.5 1070.8 1699.6 1078.6 1692.4Z" fill="#2f2f2f"/></g><g filter="url(#b5)"><rect x="1171.9" y="1963.2" width="104.3" height="112.9" fill="none"/><path d="M1193.9 1985.2C1202.5 1979.5 1244.2 1973.7 1254.2 1985.2C1264.3 1996.7 1262.8 2048.3 1254.2 2054.1C1245.6 2059.8 1212.6 2031.1 1202.5 2019.6C1192.5 2008.2 1185.3 1990.9 1193.9 1985.2Z" fill="#2c2c2c"/></g><g filter="url(#b5)"><rect x="1009.4" y="1885.7" width="124.6" height="95.7" fill="none"/><path d="M1031.4 1916.3C1039.1 1910.9 1098.6 1900.5 1112 1907.7C1125.5 1914.9 1119.7 1953.9 1112 1959.4C1104.3 1964.8 1079.3 1947.6 1065.9 1940.4C1052.4 1933.2 1023.7 1921.8 1031.4 1916.3Z" fill="#2c2c2c"/></g><g filter="url(#b6)"><rect x="1074.2" y="1805.2" width="153.3" height="136.1" fill="none"/><path d="M1099.2 1830.2C1110.7 1815.9 1150.9 1821.6 1168.1 1830.2C1185.3 1838.8 1202.5 1867.5 1202.5 1881.9C1202.5 1896.2 1185.3 1910.6 1168.1 1916.3C1150.9 1922 1110.7 1930.7 1099.2 1916.3C1087.7 1902 1087.7 1844.6 1099.2 1830.2Z" fill="#323232"/></g><g filter="url(#b5)"><rect x="926.8" y="1687.7" width="126.7" height="81.9" fill="none"/><path d="M948.8 1709.7C955.9 1705.1 983.2 1709.7 997 1713.1C1010.8 1716.6 1025.7 1724.6 1031.4 1730.3C1037.2 1736.1 1037.2 1745.8 1031.4 1747.5C1025.7 1749.3 1009.9 1741.8 997 1740.7C984.1 1739.5 962 1745.8 953.9 1740.7C945.9 1735.5 941.6 1714.3 948.8 1709.7Z" fill="#585858"/></g><g filter="url(#b5)"><rect x="1006" y="1816.8" width="85.3" height="92.2" fill="none"/><path d="M1028 1838.8C1033.7 1830.8 1059 1833.1 1065.9 1838.8C1072.8 1844.6 1075.1 1865.2 1069.3 1873.3C1063.6 1881.3 1038.3 1892.8 1031.4 1887C1024.5 1881.3 1022.2 1846.9 1028 1838.8Z" fill="#626262"/></g><g filter="url(#b5)"><rect x="1153" y="1718.7" width="85.3" height="119.8" fill="none"/><path d="M1175 1744.1C1179.6 1731.5 1206 1729.2 1212.9 1740.7C1219.8 1752.1 1220.9 1800.4 1216.3 1813C1211.7 1825.6 1192.2 1827.9 1185.3 1816.4C1178.4 1804.9 1170.4 1756.7 1175 1744.1Z" fill="#5e5e5e"/></g><g filter="url(#b4)"><rect x="1111.2" y="1663.1" width="148.2" height="70.7" fill="none"/><path d="M1130.2 1683.8C1148 1679.8 1222.6 1677.8 1240.4 1682.1C1258.2 1686.4 1241.6 1704.2 1237 1709.7C1232.4 1715.1 1221.5 1714.8 1212.9 1714.8C1204.3 1714.8 1195.1 1710.5 1185.3 1709.7C1175.6 1708.8 1162.9 1710.2 1154.3 1709.7C1145.7 1709.1 1137.7 1710.5 1133.7 1706.2C1129.6 1701.9 1112.4 1687.8 1130.2 1683.8Z" fill="#767676"/></g><g filter="url(#b4)"><rect x="1059.6" y="1861.1" width="79.3" height="60.4" fill="none"/><path d="M1078.6 1881.9C1084.9 1878.1 1109.6 1877.3 1116.4 1880.1C1123.3 1883 1126.2 1895.4 1119.9 1899.1C1113.6 1902.8 1085.4 1905.4 1078.6 1902.5C1071.7 1899.7 1072.2 1885.6 1078.6 1881.9Z" fill="#626262"/></g><g filter="url(#b3)"><rect x="901.8" y="1667.8" width="68.2" height="50.9" fill="none"/><path d="M917.8 1683.8C922.6 1680.8 948.2 1681.5 953.9 1684.7C959.7 1687.8 957.1 1699.8 952.2 1702.8C947.3 1705.8 930.4 1705.9 924.7 1702.8C918.9 1699.6 912.9 1686.8 917.8 1683.8Z" fill="#8d8d8d"/></g><g filter="url(#b3)"><rect x="1046.4" y="1731.5" width="59.6" height="49.2" fill="none"/><path d="M1062.4 1747.5C1065.9 1745.3 1081.9 1748.1 1086.5 1751C1091.1 1753.9 1093.4 1762.5 1090 1764.8C1086.5 1767.1 1070.5 1767.6 1065.9 1764.8C1061.3 1761.9 1059 1749.8 1062.4 1747.5Z" fill="#727272"/></g><g filter="url(#b3)"><rect x="915.5" y="1722.9" width="133.6" height="166.3" fill="none"/><path d="M952.2 1751C953.4 1746.1 959.7 1740.9 966 1738.9C972.3 1736.9 980.9 1736.9 990.1 1738.9C999.3 1740.9 1015.9 1744.4 1021.1 1751C1026.3 1757.6 1022.2 1769.4 1021.1 1778.5C1019.9 1787.7 1012.5 1799.2 1014.2 1806.1C1015.9 1813 1028.3 1814.1 1031.4 1819.9C1034.6 1825.6 1036 1835.9 1033.1 1840.5C1030.3 1845.1 1020.8 1846.3 1014.2 1847.4C1007.6 1848.6 999.3 1844.6 993.5 1847.4C987.8 1850.3 984.9 1860.3 979.8 1864.6C974.6 1869 968.3 1872.1 962.5 1873.3C956.8 1874.4 950.5 1873.8 945.3 1871.5C940.2 1869.2 931 1864.6 931.5 1859.5C932.1 1854.3 944.2 1848.3 948.8 1840.5C953.4 1832.8 953.4 1820.4 959.1 1813C964.8 1805.5 980.3 1801.5 983.2 1795.8C986.1 1790 980.3 1783.1 976.3 1778.5C972.3 1774 963.1 1772.8 959.1 1768.2C955.1 1763.6 951.1 1755.9 952.2 1751Z" fill="#818181"/></g><g filter="url(#b3)"><rect x="1091.8" y="1728.1" width="109.5" height="92.3" fill="none"/><path d="M1107.8 1788.9C1112.1 1785.1 1126.5 1782 1133.7 1778.5C1140.8 1775.1 1146.6 1774 1150.9 1768.2C1155.2 1762.5 1154.3 1748.1 1159.5 1744.1C1164.7 1740.1 1177.6 1739.8 1181.9 1744.1C1186.2 1748.4 1186.5 1763 1185.3 1769.9C1184.2 1776.8 1180.7 1781.1 1175 1785.4C1169.3 1789.7 1159.5 1792.6 1150.9 1795.8C1142.3 1798.9 1130.5 1803.5 1123.3 1804.4C1116.2 1805.2 1110.4 1803.5 1107.8 1800.9C1105.2 1798.3 1103.5 1792.6 1107.8 1788.9Z" fill="#7a7a7a"/></g><g filter="url(#b3)"><rect x="1162.4" y="1879.6" width="92.3" height="125" fill="none"/><path d="M1199.1 1895.6C1202 1891.1 1213.5 1890.5 1219.8 1895.6C1226.1 1900.8 1233.8 1918 1237 1926.6C1240.1 1935.3 1240.1 1941.6 1238.7 1947.3C1237.3 1953 1232.1 1957.1 1228.4 1961.1C1224.6 1965.1 1219.5 1966.8 1216.3 1971.4C1213.2 1976 1213.5 1986.3 1209.4 1988.6C1205.4 1990.9 1197.4 1990.9 1192.2 1985.2C1187 1979.5 1179.6 1962.2 1178.4 1954.2C1177.3 1946.2 1181.3 1942.1 1185.3 1937C1189.3 1931.8 1200.2 1930.1 1202.5 1923.2C1204.8 1916.3 1196.2 1900.2 1199.1 1895.6Z" fill="#858585"/></g><g filter="url(#b2)"><rect x="1161.2" y="1680.4" width="75.8" height="58.6" fill="none"/><path d="M1178.4 1721.7C1180.2 1719.7 1184.7 1712.8 1188.8 1709.7C1192.8 1706.5 1197.4 1704.8 1202.5 1702.8C1207.7 1700.8 1216.9 1698.5 1219.8 1697.6" fill="none" stroke="#898989" stroke-width="8.5" stroke-linecap="round" stroke-linejoin="round"/></g><g filter="url(#b2)"><rect x="1159.4" y="1707.8" width="32.9" height="51.9" fill="none"/><path d="M1176.7 1723.4 L1175 1744.1" fill="none" stroke="#8d8d8d" stroke-width="5.2" stroke-linecap="round" stroke-linejoin="round"/></g><g filter="url(#b2)"><rect x="1066.1" y="1797.1" width="66.3" height="37" fill="none"/><path d="M1082 1818.2C1084.9 1817.6 1093.5 1815.6 1099.2 1814.7C1105 1813.8 1113.6 1813.3 1116.4 1813" fill="none" stroke="#b1b1b1" stroke-width="5.9" stroke-linecap="round" stroke-linejoin="round"/></g><g filter="url(#b2)"><rect x="1047.9" y="1796.7" width="82.4" height="34.2" fill="none"/><path d="M1064.1 1814.7C1068.5 1814.6 1081.7 1814.1 1090 1813.8C1098.3 1813.6 1110.1 1813.1 1114.1 1813" fill="none" stroke="#adadad" stroke-width="6.5" stroke-linecap="round" stroke-linejoin="round"/></g><g filter="url(#b2)"><rect x="1012.4" y="1838.7" width="53.6" height="60.5" fill="none"/><path d="M1045.2 1854.3C1046.1 1857.5 1052.1 1868.7 1050.4 1873.3C1048.6 1877.8 1038.6 1880.1 1034.9 1881.9C1031.1 1883.6 1029.1 1883.3 1028 1883.6" fill="none" stroke="#b4b4b4" stroke-width="5.2" stroke-linecap="round" stroke-linejoin="round"/></g><g filter="url(#b2)"><rect x="1019.6" y="1870" width="78.8" height="51.2" fill="none"/><path d="M1034.9 1906C1038.6 1904 1049.2 1897.4 1057.3 1893.9C1065.3 1890.5 1078.8 1886.7 1083.1 1885.3" fill="none" stroke="#9d9d9d" stroke-width="4.6" stroke-linecap="round" stroke-linejoin="round"/></g><g filter="url(#b2)"><rect x="1229" y="1889.4" width="52.1" height="74.5" fill="none"/><path d="M1245.6 1906C1247.6 1907.1 1254.5 1908.8 1257.7 1912.9C1260.8 1916.9 1263.7 1924.3 1264.5 1930.1C1265.4 1935.8 1263.1 1944.4 1262.8 1947.3" fill="none" stroke="#b1b1b1" stroke-width="7.2" stroke-linecap="round" stroke-linejoin="round"/></g><g filter="url(#b2)"><rect x="979.1" y="1760.7" width="42.6" height="70.2" fill="none"/><path d="M1003.9 1778.5C1003 1781.4 999.9 1790 998.7 1795.8C997.6 1801.5 997.3 1810.1 997 1813" fill="none" stroke="#b4b4b4" stroke-width="9.8" stroke-linecap="round" stroke-linejoin="round"/></g><g filter="url(#b1_5)"><rect x="883.9" y="1670.6" width="50.6" height="29" fill="none"/><path d="M895.4 1682.1C899.1 1681.1 919.2 1681.2 922.9 1682.1C926.7 1683 921.5 1686.3 917.8 1687.3C914 1688.3 904.3 1689 900.6 1688.1C896.8 1687.3 891.7 1683.1 895.4 1682.1Z" fill="#ebebeb"/></g><g filter="url(#b2)"><rect x="947.8" y="1731.1" width="79.4" height="70.8" fill="none"/><path d="M960.8 1754.4C961.4 1751.3 962.8 1747.5 966 1745.8C969.1 1744.1 976 1743.2 979.8 1744.1C983.5 1745 986.1 1748.1 988.4 1751C990.7 1753.9 990.4 1760.5 993.5 1761.3C996.7 1762.2 1003.9 1756.2 1007.3 1756.2C1010.8 1756.2 1014.2 1758.2 1014.2 1761.3C1014.2 1764.5 1010.2 1771.1 1007.3 1775.1C1004.4 1779.1 999.9 1783.1 997 1785.4C994.1 1787.7 993 1789.5 990.1 1788.9C987.2 1788.3 982.6 1785.1 979.8 1782C976.9 1778.8 975.7 1772.8 972.9 1769.9C970 1767.1 964.6 1767.4 962.5 1764.8C960.5 1762.2 960.2 1757.6 960.8 1754.4Z" fill="#ffffff"/></g><g filter="url(#b2)"><rect x="925.4" y="1796.5" width="113.8" height="84.6" fill="none"/><path d="M969.4 1811.3C972.6 1809 975.7 1808.7 979.8 1809.5C983.8 1810.4 990.1 1815.9 993.5 1816.4C997 1817 997 1812.4 1000.4 1813C1003.9 1813.6 1009.9 1817.6 1014.2 1819.9C1018.5 1822.2 1024.5 1823.6 1026.3 1826.8C1028 1829.9 1026.5 1836.5 1024.5 1838.8C1022.5 1841.1 1017.7 1842 1014.2 1840.5C1010.8 1839.1 1007.3 1831.6 1003.9 1830.2C1000.4 1828.8 996.4 1829.6 993.5 1831.9C990.7 1834.2 990.1 1840.3 986.7 1844C983.2 1847.7 976.9 1850.9 972.9 1854.3C968.9 1857.8 966 1862.4 962.5 1864.6C959.1 1866.9 956.2 1869 952.2 1868.1C948.2 1867.2 939 1862.4 938.4 1859.5C937.9 1856.6 945.9 1854 948.8 1850.9C951.6 1847.7 953.6 1845.1 955.7 1840.5C957.7 1835.9 958.5 1828.2 960.8 1823.3C963.1 1818.4 966.3 1813.6 969.4 1811.3Z" fill="#f5f5f5"/></g><g filter="url(#b1_5)"><rect x="1084.2" y="1759" width="25.3" height="25.3" fill="none"/><ellipse cx="1096.9" cy="1771.7" rx="3.3" ry="7.2" fill="#ebebeb" transform="rotate(-20 1096.9 1771.7)"/></g><g filter="url(#b2)"><rect x="1098.3" y="1734.5" width="93.2" height="77.7" fill="none"/><path d="M1113 1788.9C1116.7 1786.9 1127.6 1786 1133.7 1783.7C1139.7 1781.4 1145.1 1778.8 1149.2 1775.1C1153.2 1771.4 1155.2 1765.9 1157.8 1761.3C1160.4 1756.7 1161.5 1749.3 1164.7 1747.5C1167.8 1745.8 1174.4 1748.1 1176.7 1751C1179 1753.9 1179.3 1760.2 1178.4 1764.8C1177.6 1769.4 1175 1775.1 1171.5 1778.5C1168.1 1782 1162.9 1782.8 1157.8 1785.4C1152.6 1788 1146.9 1791.7 1140.6 1794C1134.2 1796.3 1124.8 1798.9 1119.9 1799.2C1115 1799.5 1112.4 1797.5 1111.3 1795.8C1110.1 1794 1109.3 1790.9 1113 1788.9Z" fill="#ffffff"/></g><g filter="url(#b1_5)"><rect x="1080.8" y="1755" width="31.6" height="38.5" fill="none"/><path d="M1092.3 1766.5C1093.5 1765.6 1097.8 1767.6 1099.2 1769.9C1100.7 1772.2 1101.5 1778.3 1100.9 1780.3C1100.4 1782.3 1097.2 1782.8 1095.8 1782C1094.3 1781.1 1092.9 1777.7 1092.3 1775.1C1091.8 1772.5 1091.2 1767.4 1092.3 1766.5Z" fill="#ebebeb"/></g><g filter="url(#b2)"><rect x="1124.1" y="1673.4" width="53.6" height="40.6" fill="none"/><path d="M1137.1 1692.4C1138.5 1690.1 1142.8 1688.3 1147.4 1687.3C1152 1686.3 1162.4 1685 1164.7 1686.4C1167 1687.8 1163.5 1693.4 1161.2 1695.9C1158.9 1698.3 1154.6 1700.2 1150.9 1701.1C1147.2 1701.9 1141.1 1702.5 1138.8 1701.1C1136.5 1699.6 1135.7 1694.7 1137.1 1692.4Z" fill="#d8d8d8"/></g><g filter="url(#b2)"><rect x="1248.1" y="1814.6" width="51.8" height="66.5" fill="none"/><path d="M1269.7 1831.9C1272.6 1830.1 1278.9 1826.8 1281.8 1827.6C1284.6 1828.5 1286.5 1833.2 1286.9 1837.1C1287.4 1841 1286.1 1846.3 1284.3 1850.9C1282.6 1855.5 1279.3 1861.8 1276.6 1864.6C1273.9 1867.5 1270.3 1869.2 1268 1868.1C1265.7 1866.9 1264 1861.2 1262.8 1857.8C1261.7 1854.3 1260.8 1850.6 1261.1 1847.4C1261.4 1844.3 1263.1 1841.4 1264.5 1838.8C1266 1836.2 1266.8 1833.8 1269.7 1831.9Z" fill="#ffffff"/></g><g filter="url(#b3)"><rect x="1176.2" y="1893.4" width="64.7" height="97.4" fill="none"/><path d="M1209.4 1909.4C1211.7 1907.1 1217.2 1915.2 1219.8 1919.8C1222.3 1924.3 1225.5 1931.8 1224.9 1937C1224.4 1942.1 1219.5 1946.7 1216.3 1950.8C1213.2 1954.8 1208.9 1957.1 1206 1961.1C1203.1 1965.1 1201.4 1974.9 1199.1 1974.9C1196.8 1974.9 1192.8 1965.7 1192.2 1961.1C1191.6 1956.5 1193.4 1951.9 1195.7 1947.3C1198 1942.7 1203.7 1939.8 1206 1933.5C1208.3 1927.2 1207.1 1911.7 1209.4 1909.4Z" fill="#c0c0c0"/></g></g></g></g><polygon points="1276.8,1660.2 1276.8,1663.8 1278.9,1673.7 1281.9,1684 1283.5,1694.4 1283.5,1708.1 1282.4,1718.5 1280.2,1731.4 1276.8,1745.1 1276.1,1751.2 1277.6,1765.8 1279.3,1783 1280.2,1800.2 1282.8,1817.4 1285.4,1830.4 1287.1,1838.1 1289.2,1841.7 1289.2,1841.7 1293,1843.2 1296.5,1847.2 1299,1853.2 1300.9,1863.4 1303.4,1869.4 1306,1879.7 1308.6,1892.6 1312.1,1903 1318.1,1912.4 1319.8,1923.6 1321.5,1934 1324,1936.7 1327,1931.7 1329.5,1932.2 1325.8,1938.3 1328.4,1948.6 1331,1957.2 1331.9,1970.1 1330.1,1978.7 1330.1,1987.3 1326.7,1995.9 1322.4,2004.5 1318.1,2013.1 1313.8,2023.5 1318.1,2021.8 1325,2017.5 1329.3,2013.1 1331.9,2010.6 1336.2,2014 1331.9,2015.7 1330.1,2023.5 1332.7,2029.5 1337.9,2032.9 1342.6,2041.5 1346,2045.2 1350,2045.2 1350,1660.2" fill="#cccccc"/><polygon points="1288,1845.2 1289.6,1851.2 1290.5,1858.2 1291.4,1875.4 1291.4,1892.6 1291,1909.8 1289.7,1927.1 1287.1,1944.3 1283.6,1961.5 1279.3,1978.7 1274.2,1995.9 1268.2,2013.1 1261.3,2030.4 1254.4,2046.7 1252,2053.2 1260,2053.2 1261.3,2050.2 1263.8,2045.9 1266.4,2039 1273.3,2033.8 1278.5,2030.4 1277.6,2026.1 1279.8,2019.2 1278.5,2013.1 1281.9,2006.3 1285.4,1999.4 1287.1,1992.5 1292.7,1987.3 1292.3,1980.4 1288,1974.4 1291.4,1965.8 1294.8,1952.9 1296.1,1935.7 1298.3,1918.5 1299.6,1901.2 1300,1884 1299.6,1866.8 1298.3,1858.2 1296,1851.2 1292.5,1845.7" fill="#cccccc"/><polyline points="1276.8,1660.2 1276.8,1663.8 1278.9,1673.7 1281.9,1684 1283.5,1694.4 1283.5,1708.1 1282.4,1718.5 1280.2,1731.4 1276.8,1745.1 1276.1,1751.2 1277.6,1765.8 1279.3,1783 1280.2,1800.2 1282.8,1817.4 1285.4,1830.4 1287.1,1838.1 1289.2,1841.7 1289.2,1841.7 1293,1843.2 1296.5,1847.2 1299,1853.2 1300.9,1863.4 1303.4,1869.4 1306,1879.7 1308.6,1892.6 1312.1,1903 1318.1,1912.4 1319.8,1923.6 1321.5,1934 1324,1936.7 1327,1931.7 1329.5,1932.2 1325.8,1938.3 1328.4,1948.6 1331,1957.2 1331.9,1970.1 1330.1,1978.7 1330.1,1987.3 1326.7,1995.9 1322.4,2004.5 1318.1,2013.1 1313.8,2023.5 1318.1,2021.8 1325,2017.5 1329.3,2013.1 1331.9,2010.6 1336.2,2014 1331.9,2015.7 1330.1,2023.5 1332.7,2029.5 1337.9,2032.9 1342.6,2041.5 1346,2045.2" fill="none" stroke="#707070" stroke-width="2.2" stroke-linejoin="round"/><polyline points="1289.2,1841.7 1288,1845.2 1289.6,1851.2 1290.5,1858.2 1291.4,1875.4 1291.4,1892.6 1291,1909.8 1289.7,1927.1 1287.1,1944.3 1283.6,1961.5 1279.3,1978.7 1274.2,1995.9 1268.2,2013.1 1261.3,2030.4 1254.4,2046.7 1252,2053.2" fill="none" stroke="#707070" stroke-width="2.2" stroke-linejoin="round"/><polyline points="1260,2053.2 1261.3,2050.2 1263.8,2045.9 1266.4,2039 1273.3,2033.8 1278.5,2030.4 1277.6,2026.1 1279.8,2019.2 1278.5,2013.1 1281.9,2006.3 1285.4,1999.4 1287.1,1992.5 1292.7,1987.3 1292.3,1980.4 1288,1974.4 1291.4,1965.8 1294.8,1952.9 1296.1,1935.7 1298.3,1918.5 1299.6,1901.2 1300,1884 1299.6,1866.8 1298.3,1858.2 1296,1851.2 1292.5,1845.7 1289.2,1841.7" fill="none" stroke="#707070" stroke-width="2.2" stroke-linejoin="round"/><polyline points="1278.9,1673.7 1285,1671.8 1292.3,1670.3 1299,1668.2 1305.2,1666.4 1309.5,1670.3 1313,1671.5 1317.2,1671.1 1318.8,1667.2 1319.8,1663.8 1320,1660.2" fill="none" stroke="#707070" stroke-width="2.2" stroke-linejoin="round"/><polygon points="1301.5,1864.2 1303.5,1867.2 1306,1873.2 1307.8,1875.7 1307,1871.2 1305,1866.7 1302.8,1863.7" fill="#7d7d7d"/><path d="M984.9 1706.6h18M993.9 1697.6v18M1254 1708.2h18M1263 1699.2v18M982.4 1945.8h18M991.4 1936.8v18M1253.4 1947.1h18M1262.4 1938.1v18" stroke="#1a1a1a" stroke-width="1.1" fill="none" opacity="0.75"/></g><text class="lb" transform="translate(862 2033.9) scale(1 1.065)">Chl-a, July 29</text>
<path d="M994.8 1659.9v-7M1262.8 1659.9v-7M990.3 2055v7M1262.4 2055v7M844 1702.9h-7M844 1941.9h-7M1347 1707.6h7M1347 1947.2h7" stroke="#000" stroke-width="5.6" stroke-linecap="round" fill="none"/>
<rect x="335" y="471.9" width="500.3" height="393.1" fill="#fff"/>
<clipPath id="fc2"><rect x="335" y="471.9" width="500.3" height="393.1"/></clipPath><clipPath id="dc2"><polygon points="332,493.4 447.5,493.4 447.5,498.3 693,498.3 693,493.4 719.1,493.4 719.1,490.1 787.4,490.1 787.4,869.1 742.5,869.1 733.7,859.3 332,615.4"/></clipPath><clipPath id="sc2"><polygon points="300,454.2 766.8,471.2 766.8,474.8 768.9,484.7 771.9,495 773.5,505.4 773.5,519.1 772.4,529.5 770.2,542.4 766.8,556.1 766.1,562.2 767.6,576.8 769.3,594 770.2,611.2 772.8,628.4 775.4,641.4 777.1,649.1 779.2,652.7 778,656.2 779.6,662.2 780.5,669.2 781.4,686.4 781.4,703.6 781,720.8 779.7,738.1 777.1,755.3 773.6,772.5 769.3,789.7 764.2,806.9 758.2,824.1 751.3,841.4 744.4,857.7 742,864.2 300,874.2"/></clipPath><filter id="f2" filterUnits="userSpaceOnUse" x="335" y="471.9" width="500.3" height="393.1" color-interpolation-filters="sRGB"><feTurbulence type="fractalNoise" baseFrequency="0.13" numOctaves="2" seed="5" result="n"/><feColorMatrix in="n" type="matrix" values="1 0 0 0 0 1 0 0 0 0 1 0 0 0 0 0 0 0 0 1" result="g"/><feComposite in="SourceGraphic" in2="g" operator="arithmetic" k1="0" k2="1" k3="0.07692307692307693" k4="-0.038461538461538464"/><feComposite in2="SourceGraphic" operator="in" result="v"/><feFlood x="337" y="473.9" width="1" height="1" flood-color="#000"/><feComposite width="5" height="5"/><feTile result="t"/><feComposite in="v" in2="t" operator="in"/><feMorphology operator="dilate" radius="2"/><feComponentTransfer><feFuncR type="table" tableValues="0 0 0 0 0 0 0 0 0 0 0 0 0 0 0 0.002 0.079 0.155 0.232 0.309 0.375 0.439 0.504 0.567 0.627 0.686 0.746 0.804 0.861 0.919 0.977 1 1 1 1 1 1 1 1 1 1 1 1 1 1 1 1 1 1 1 1 1 1 1 1 1 1 1 1 1"/><feFuncG type="table" tableValues="0 0.067 0.134 0.2 0.267 0.334 0.401 0.467 0.534 0.601 0.668 0.734 0.801 0.868 0.935 1 1 1 1 1 1 1 1 1 1 1 1 1 1 1 1 0.96 0.894 0.827 0.76 0.693 0.627 0.56 0.493 0.426 0.36 0.293 0.226 0.159 0.092 0.026 0 0 0 0 0 0 0 0 0 0 0 0 0 0"/><feFuncB type="table" tableValues="1 1 1 1 1 1 1 1 1 1 1 1 1 1 1 0.999 0.936 0.874 0.811 0.749 0.679 0.609 0.539 0.467 0.391 0.316 0.24 0.18 0.127 0.074 0.022 0 0 0 0 0 0 0 0 0 0 0 0 0 0 0 0 0 0 0 0 0 0 0 0 0 0 0 0 0"/><feFuncA type="discrete" tableValues="0 1"/></feComponentTransfer></filter><g clip-path="url(#fc2)"><g clip-path="url(#sc2)"><g filter="url(#f2)"><g clip-path="url(#dc2)"><rect x="335" y="471.9" width="500.3" height="393.1" fill="#767676"/><linearGradient id="g2_7" gradientUnits="userSpaceOnUse" x1="332" y1="469" x2="842" y2="469"><stop offset="0%" stop-color="#565656"/><stop offset="10%" stop-color="#585858"/><stop offset="20%" stop-color="#606060"/><stop offset="27%" stop-color="#686868"/><stop offset="34%" stop-color="#727272"/><stop offset="42%" stop-color="#787878"/><stop offset="52%" stop-color="#7c7c7c"/><stop offset="64%" stop-color="#808080"/><stop offset="86%" stop-color="#808080"/><stop offset="100%" stop-color="#808080"/></linearGradient><rect x="335" y="471.9" width="500.3" height="393.1" fill="url(#g2_7)"/><g filter="url(#b8)"><rect x="640.9" y="439.6" width="154.7" height="439.3" fill="none"/><path d="M730.4 491.8C729.1 498.8 728.5 521 722.3 534.1C716.1 547.1 695.7 557.9 693 569.8C690.3 581.8 701.2 594.2 706 605.6C710.9 617 717.7 625.7 722.3 638.1C726.9 650.6 730.2 667.4 733.7 680.4C737.2 693.4 745.3 704.8 743.4 716.2C741.6 727.6 729.6 735.7 722.3 748.7C715 761.7 700.6 781.2 699.5 794.3C698.5 807.3 713.1 821.4 715.8 826.8" fill="none" stroke="#8d8d8d" stroke-width="42.3" stroke-linecap="round" stroke-linejoin="round" opacity="0.85"/></g><g filter="url(#b6)"><rect x="658.3" y="457" width="119.9" height="404.5" fill="none"/><path d="M730.4 491.8C729.1 498.8 728.5 521 722.3 534.1C716.1 547.1 695.7 557.9 693 569.8C690.3 581.8 701.2 594.2 706 605.6C710.9 617 717.7 625.7 722.3 638.1C726.9 650.6 730.2 667.4 733.7 680.4C737.2 693.4 745.3 704.8 743.4 716.2C741.6 727.6 729.6 735.7 722.3 748.7C715 761.7 700.6 781.2 699.5 794.3C698.5 807.3 713.1 821.4 715.8 826.8" fill="none" stroke="#959595" stroke-width="19.5" stroke-linecap="round" stroke-linejoin="round" opacity="0.6"/></g><g filter="url(#b4)"><rect x="662.1" y="543.8" width="58.5" height="58.5" fill="none"/><ellipse cx="691.4" cy="573.1" rx="14.6" ry="16.3" fill="#a1a1a1" transform="rotate(-20 691.4 573.1)" opacity="0.8"/></g><g filter="url(#b4)"><rect x="681.7" y="716.2" width="71.5" height="71.5" fill="none"/><ellipse cx="717.4" cy="752" rx="22.8" ry="14.6" fill="#a5a5a5" transform="rotate(-20 717.4 752)" opacity="0.8"/></g><g filter="url(#b4)"><rect x="660.5" y="761.7" width="65" height="65" fill="none"/><ellipse cx="693" cy="794.3" rx="19.5" ry="13" fill="#a1a1a1" opacity="0.8"/></g><g filter="url(#b4)"><rect x="699.5" y="641.4" width="58.5" height="58.5" fill="none"/><ellipse cx="728.8" cy="670.7" rx="13" ry="16.3" fill="#9d9d9d" opacity="0.7"/></g><g filter="url(#b4)"><rect x="734.2" y="461.4" width="64" height="216.9" fill="none"/><path d="M761.9 488.5C762.1 490.7 763.1 489.1 763 501.5C762.9 514 760.8 544.4 761.3 563.3C761.9 582.3 764.6 600.7 766.2 615.4C767.8 630 770.3 645.2 771.1 651.1" fill="none" stroke="#666666" stroke-width="16.3" stroke-linecap="round" stroke-linejoin="round"/></g><g filter="url(#b4)"><rect x="712.4" y="627.3" width="88.4" height="267.3" fill="none"/><path d="M773.7 651.1C774.2 656 776.4 667.4 776.9 680.4C777.5 693.4 777.8 715.7 776.9 729.2C776.1 742.8 774.2 750.9 772.1 761.7C769.9 772.6 766.9 783.4 763.9 794.3C761 805.1 758 815.9 754.2 826.8C750.4 837.6 744.2 852 741.2 859.3C738.2 866.6 737.1 868.8 736.3 870.7" fill="none" stroke="#6c6c6c" stroke-width="9.8" stroke-linecap="round" stroke-linejoin="round"/></g><g filter="url(#b2)"><rect x="750" y="472.6" width="39" height="175" fill="none"/><path d="M766.4 488.5C766.6 490.7 767.6 489.1 767.5 501.5C767.4 514 765.3 544.4 765.9 563.3C766.4 582.3 769.6 604 770.8 615.4C772 626.7 772.6 628.9 773 631.6" fill="none" stroke="#414141" stroke-width="5.9" stroke-linecap="round" stroke-linejoin="round"/></g><ellipse cx="768.8" cy="521" rx="2" ry="9.8" fill="#272727"/><ellipse cx="778.9" cy="690.2" rx="1.6" ry="7.8" fill="#454545"/></g></g></g><polygon points="766.8,471.2 766.8,474.8 768.9,484.7 771.9,495 773.5,505.4 773.5,519.1 772.4,529.5 770.2,542.4 766.8,556.1 766.1,562.2 767.6,576.8 769.3,594 770.2,611.2 772.8,628.4 775.4,641.4 777.1,649.1 779.2,652.7 779.2,652.7 783,654.2 786.5,658.2 789,664.2 790.9,674.4 793.4,680.4 796,690.7 798.6,703.6 802.1,714 808.1,723.4 809.8,734.6 811.5,745 814,747.7 817,742.7 819.5,743.2 815.8,749.3 818.4,759.6 821,768.2 821.9,781.1 820.1,789.7 820.1,798.3 816.7,806.9 812.4,815.5 808.1,824.1 803.8,834.5 808.1,832.8 815,828.5 819.3,824.1 821.9,821.6 826.2,825 821.9,826.7 820.1,834.5 822.7,840.5 827.9,843.9 832.6,852.5 836,856.2 840,856.2 840,471.2" fill="#cccccc"/><polygon points="778,656.2 779.6,662.2 780.5,669.2 781.4,686.4 781.4,703.6 781,720.8 779.7,738.1 777.1,755.3 773.6,772.5 769.3,789.7 764.2,806.9 758.2,824.1 751.3,841.4 744.4,857.7 742,864.2 750,864.2 751.3,861.2 753.8,856.9 756.4,850 763.3,844.8 768.5,841.4 767.6,837.1 769.8,830.2 768.5,824.1 771.9,817.3 775.4,810.4 777.1,803.5 782.7,798.3 782.3,791.4 778,785.4 781.4,776.8 784.8,763.9 786.1,746.7 788.3,729.5 789.6,712.2 790,695 789.6,677.8 788.3,669.2 786,662.2 782.5,656.7" fill="#cccccc"/><polyline points="766.8,471.2 766.8,474.8 768.9,484.7 771.9,495 773.5,505.4 773.5,519.1 772.4,529.5 770.2,542.4 766.8,556.1 766.1,562.2 767.6,576.8 769.3,594 770.2,611.2 772.8,628.4 775.4,641.4 777.1,649.1 779.2,652.7 779.2,652.7 783,654.2 786.5,658.2 789,664.2 790.9,674.4 793.4,680.4 796,690.7 798.6,703.6 802.1,714 808.1,723.4 809.8,734.6 811.5,745 814,747.7 817,742.7 819.5,743.2 815.8,749.3 818.4,759.6 821,768.2 821.9,781.1 820.1,789.7 820.1,798.3 816.7,806.9 812.4,815.5 808.1,824.1 803.8,834.5 808.1,832.8 815,828.5 819.3,824.1 821.9,821.6 826.2,825 821.9,826.7 820.1,834.5 822.7,840.5 827.9,843.9 832.6,852.5 836,856.2" fill="none" stroke="#707070" stroke-width="2.2" stroke-linejoin="round"/><polyline points="779.2,652.7 778,656.2 779.6,662.2 780.5,669.2 781.4,686.4 781.4,703.6 781,720.8 779.7,738.1 777.1,755.3 773.6,772.5 769.3,789.7 764.2,806.9 758.2,824.1 751.3,841.4 744.4,857.7 742,864.2" fill="none" stroke="#707070" stroke-width="2.2" stroke-linejoin="round"/><polyline points="750,864.2 751.3,861.2 753.8,856.9 756.4,850 763.3,844.8 768.5,841.4 767.6,837.1 769.8,830.2 768.5,824.1 771.9,817.3 775.4,810.4 777.1,803.5 782.7,798.3 782.3,791.4 778,785.4 781.4,776.8 784.8,763.9 786.1,746.7 788.3,729.5 789.6,712.2 790,695 789.6,677.8 788.3,669.2 786,662.2 782.5,656.7 779.2,652.7" fill="none" stroke="#707070" stroke-width="2.2" stroke-linejoin="round"/><polyline points="768.9,484.7 775,482.8 782.3,481.3 789,479.2 795.2,477.4 799.5,481.3 803,482.5 807.2,482.1 808.8,478.2 809.8,474.8 810,471.2" fill="none" stroke="#707070" stroke-width="2.2" stroke-linejoin="round"/><polygon points="791.5,675.2 793.5,678.2 796,684.2 797.8,686.7 797,682.2 795,677.7 792.8,674.7" fill="#7d7d7d"/><path d="M474.9 517.6h18M483.9 508.6v18M744 519.2h18M753 510.2v18M472.4 756.8h18M481.4 747.8v18M743.4 758.1h18M752.4 749.1v18" stroke="#1a1a1a" stroke-width="1.8" fill="none"/></g><text class="lb" transform="translate(343.2 846.3) scale(1 1.065)">SST, July 25</text>
<path d="M484.8 470.9v-7M752.8 470.9v-7M480.3 866v7M752.4 866v7M334 513.9h-7M334 752.9h-7M836.3 518.6h7M836.3 758.2h7" stroke="#000" stroke-width="5.6" stroke-linecap="round" fill="none"/>
<rect x="845" y="471.9" width="501" height="393.1" fill="#fff"/>
<clipPath id="fc3"><rect x="845" y="471.9" width="501" height="393.1"/></clipPath><clipPath id="dc3"><polygon points="842,492.4 1024.1,495 1186.8,496.6 1190,494.4 1219.3,492.4 1219.3,490.5 1248.6,489.2 1297.4,485.3 1297.4,869.1 1260,869.1 1243.7,859.3 842,613.1"/></clipPath><clipPath id="sc3"><polygon points="810,454.2 1276.8,471.2 1276.8,474.8 1278.9,484.7 1281.9,495 1283.5,505.4 1283.5,519.1 1282.4,529.5 1280.2,542.4 1276.8,556.1 1276.1,562.2 1277.6,576.8 1279.3,594 1280.2,611.2 1282.8,628.4 1285.4,641.4 1287.1,649.1 1289.2,652.7 1288,656.2 1289.6,662.2 1290.5,669.2 1291.4,686.4 1291.4,703.6 1291,720.8 1289.7,738.1 1287.1,755.3 1283.6,772.5 1279.3,789.7 1274.2,806.9 1268.2,824.1 1261.3,841.4 1254.4,857.7 1252,864.2 810,874.2"/></clipPath><filter id="f3" filterUnits="userSpaceOnUse" x="845" y="471.9" width="501" height="393.1" color-interpolation-filters="sRGB"><feTurbulence type="fractalNoise" baseFrequency="0.21" numOctaves="3" seed="6" result="n"/><feColorMatrix in="n" type="matrix" values="1 0 0 0 0 1 0 0 0 0 1 0 0 0 0 0 0 0 0 1" result="g"/><feComposite in="SourceGraphic" in2="g" operator="arithmetic" k1="0.75" k2="0.625" k3="0.07692307692307693" k4="-0.038461538461538464"/><feComponentTransfer><feFuncR type="table" tableValues="0 0 0 0 0 0 0 0 0 0 0 0 0 0 0 0.002 0.079 0.155 0.232 0.309 0.375 0.439 0.504 0.567 0.627 0.686 0.746 0.804 0.861 0.919 0.977 1 1 1 1 1 1 1 1 1 1 1 1 1 1 1 1 1 1 1 1 1 1 1 1 1 1 1 1 1"/><feFuncG type="table" tableValues="0 0.067 0.134 0.2 0.267 0.334 0.401 0.467 0.534 0.601 0.668 0.734 0.801 0.868 0.935 1 1 1 1 1 1 1 1 1 1 1 1 1 1 1 1 0.96 0.894 0.827 0.76 0.693 0.627 0.56 0.493 0.426 0.36 0.293 0.226 0.159 0.092 0.026 0 0 0 0 0 0 0 0 0 0 0 0 0 0"/><feFuncB type="table" tableValues="1 1 1 1 1 1 1 1 1 1 1 1 1 1 1 0.999 0.936 0.874 0.811 0.749 0.679 0.609 0.539 0.467 0.391 0.316 0.24 0.18 0.127 0.074 0.022 0 0 0 0 0 0 0 0 0 0 0 0 0 0 0 0 0 0 0 0 0 0 0 0 0 0 0 0 0"/></feComponentTransfer></filter><g clip-path="url(#fc3)"><g clip-path="url(#sc3)"><g clip-path="url(#dc3)"><g filter="url(#f3)"><rect x="845" y="471.9" width="501" height="393.1" fill="#434343"/><g filter="url(#b3)"><rect x="819.1" y="470.2" width="211.1" height="238.6" fill="none"/><path d="M835.1 486.2C861.5 464.1 971.2 486.2 993.5 491.4C1015.9 496.6 975.2 508.3 969.4 517.2C963.7 526.1 959.1 536.7 959.1 544.8C959.1 552.8 963.1 559.7 969.4 565.4C975.7 571.2 990.7 574 997 579.2C1003.3 584.4 1004.4 589.5 1007.3 596.4C1010.2 603.3 1016.5 613.7 1014.2 620.5C1011.9 627.4 997.8 631.4 993.5 637.8C989.2 644.1 990.7 649.2 988.4 658.4C986.1 667.6 1005.3 698.6 979.8 692.9C954.2 687.1 859.2 658.4 835.1 624C811 589.5 808.7 508.3 835.1 486.2Z" fill="#292929"/></g><g filter="url(#b4)"><rect x="1223.2" y="463.8" width="91.4" height="420.3" fill="none"/><path d="M1254.2 484.5C1260.5 479.6 1280.6 468.1 1285.2 482.8C1289.8 497.4 1281.2 545.9 1281.8 572.3C1282.3 598.7 1286.4 618.2 1288.6 641.2C1290.9 664.2 1295.8 687.1 1295.5 710.1C1295.2 733 1291.2 758.9 1286.9 779C1282.6 799.1 1275.2 816.3 1269.7 830.6C1264.3 845 1258.8 860.5 1254.2 865.1C1249.6 869.7 1242.2 865.4 1242.2 858.2C1242.2 851 1250.5 835.2 1254.2 822C1257.9 808.8 1261.1 794.8 1264.5 779C1268 763.2 1272.9 744.5 1274.9 727.3C1276.9 710.1 1277.5 691.4 1276.6 675.6C1275.7 659.9 1272.9 646.9 1269.7 632.6C1266.5 618.2 1260.8 603.9 1257.7 589.5C1254.5 575.2 1252.5 559.4 1250.8 546.5C1249 533.6 1246.7 522.4 1247.3 512.1C1247.9 501.7 1247.9 489.4 1254.2 484.5Z" fill="#292929"/></g><g filter="url(#b6)"><rect x="954.8" y="578.3" width="182.3" height="208.4" fill="none"/><path d="M990.1 624C998.7 611.4 1018.8 623.4 1031.4 620.5C1044.1 617.7 1052.4 609.6 1065.9 606.8C1079.3 603.9 1104.3 583.2 1112 603.3C1119.7 623.4 1119.7 700.9 1112 727.3C1104.3 753.7 1079.3 761.8 1065.9 761.8C1052.4 761.8 1045.8 738.2 1031.4 727.3C1017.1 716.4 986.7 713.5 979.8 696.3C972.9 679.1 981.5 636.6 990.1 624Z" fill="#565656"/></g><g filter="url(#b8)"><rect x="1051" y="575.8" width="242.8" height="303.1" fill="none"/><path d="M1082 606.8C1093.5 584.4 1125.1 601.6 1150.9 610.2C1176.7 618.8 1218.3 641.8 1237 658.4C1255.6 675.1 1259.9 687.1 1262.8 710.1C1265.7 733 1258.5 773.2 1254.2 796.2C1249.9 819.2 1254.2 847.9 1237 847.9C1219.8 847.9 1176.7 813.4 1150.9 796.2C1125.1 779 1093.5 776.1 1082 744.5C1070.5 713 1070.5 629.2 1082 606.8Z" fill="#585858"/></g><g filter="url(#b5)"><rect x="1128.9" y="598.5" width="116.3" height="116.3" fill="none"/><path d="M1150.9 624C1160.4 612.5 1204.3 614.8 1216.3 620.5C1228.4 626.3 1225.5 646.4 1223.2 658.4C1220.9 670.5 1213.2 687.7 1202.5 692.9C1191.9 698 1168.1 700.9 1159.5 689.4C1150.9 677.9 1141.4 635.5 1150.9 624Z" fill="#4b4b4b"/></g><g filter="url(#b5)"><rect x="1137.5" y="696.7" width="104.3" height="95.7" fill="none"/><path d="M1159.5 727.3C1166.7 721.6 1192.5 714.4 1202.5 718.7C1212.6 723 1222.6 744.5 1219.8 753.1C1216.9 761.8 1195.4 770.4 1185.3 770.4C1175.3 770.4 1163.8 760.3 1159.5 753.1C1155.2 746 1152.3 733 1159.5 727.3Z" fill="#4e4e4e"/></g><g filter="url(#b3)"><rect x="985.5" y="529.8" width="64.4" height="116" fill="none"/><path d="M1010.8 551.7C1010.2 555.1 1007.3 566 1007.3 572.3C1007.3 578.6 1008.5 582.1 1010.8 589.5C1013.1 597 1018.2 611.4 1021.1 617.1C1024 622.8 1026.8 622.8 1028 624" fill="none" stroke="#898989" stroke-width="11.7" stroke-linecap="round" stroke-linejoin="round"/></g><g filter="url(#b2)"><rect x="993.2" y="538.4" width="33.3" height="64.3" fill="none"/><path d="M1011.6 553.4C1011 556.5 1008.2 566.6 1008.2 572.3C1008.2 578.1 1011 585.2 1011.6 587.8" fill="none" stroke="#b1b1b1" stroke-width="3.9" stroke-linecap="round" stroke-linejoin="round"/></g><g filter="url(#b2)"><rect x="980" y="483" width="32.3" height="37.4" fill="none"/><path d="M997 498.3 L995.3 505.2" fill="none" stroke="#767676" stroke-width="4.6" stroke-linecap="round" stroke-linejoin="round"/></g><g filter="url(#b4)"><rect x="1026.2" y="651.5" width="60.4" height="62.1" fill="none"/><path d="M1045.2 672.2C1048.4 668.2 1062.1 667 1065.9 670.5C1069.6 673.9 1070.7 688.8 1067.6 692.9C1064.4 696.9 1050.7 698 1046.9 694.6C1043.2 691.1 1042 676.2 1045.2 672.2Z" fill="#898989"/></g><g filter="url(#b2)"><rect x="998.9" y="681" width="44.3" height="34" fill="none"/><path d="M1014.2 699.8 L1028 696.3" fill="none" stroke="#c4c4c4" stroke-width="4.6" stroke-linecap="round" stroke-linejoin="round"/></g><g filter="url(#b4)"><rect x="978" y="665.3" width="82.8" height="67.3" fill="none"/><path d="M997 684.3C1002.7 679.7 1032.6 681.7 1040 686C1047.5 690.3 1047.5 705.5 1041.8 710.1C1036 714.7 1013.1 717.8 1005.6 713.5C998.1 709.2 991.2 688.8 997 684.3Z" fill="#818181"/></g><g filter="url(#b5)"><rect x="1043.9" y="588.2" width="81.9" height="92.2" fill="none"/><path d="M1065.9 610.2C1071 602.2 1094 602.2 1100.3 610.2C1106.6 618.2 1108.9 650.4 1103.8 658.4C1098.6 666.5 1075.6 666.5 1069.3 658.4C1063 650.4 1060.7 618.2 1065.9 610.2Z" fill="#727272"/></g><g filter="url(#b3)"><rect x="1081.1" y="553.1" width="50.2" height="45.4" fill="none"/><path d="M1100.3 572.3 L1112 579.2" fill="none" stroke="#7e7e7e" stroke-width="6.5" stroke-linecap="round" stroke-linejoin="round"/></g><g filter="url(#b4)"><rect x="1080.2" y="518.9" width="134.4" height="115.5" fill="none"/><path d="M1099.2 575.8C1102.1 567.7 1116.4 564.3 1125.1 558.5C1133.7 552.8 1140.8 544.8 1150.9 541.3C1160.9 537.9 1177.9 535.6 1185.3 537.9C1192.8 540.2 1194.5 546.5 1195.7 555.1C1196.8 563.7 1197.4 580.4 1192.2 589.5C1187 598.7 1174.4 605.9 1164.7 610.2C1154.9 614.5 1143.1 615.9 1133.7 615.4C1124.2 614.8 1113.6 613.4 1107.8 606.8C1102.1 600.2 1096.4 583.8 1099.2 575.8Z" fill="#7a7a7a"/></g><g filter="url(#b3)"><rect x="1092.8" y="590" width="130" height="54.2" fill="none"/><path d="M1113 620.5C1119.3 621.1 1138.8 624.3 1150.9 624C1162.9 623.7 1176.7 621.1 1185.3 618.8C1193.9 616.5 1199.7 611.6 1202.5 610.2" fill="none" stroke="#7a7a7a" stroke-width="8.5" stroke-linecap="round" stroke-linejoin="round"/></g><g filter="url(#b2)"><rect x="1094" y="608.4" width="48.4" height="55.3" fill="none"/><path d="M1109.6 624C1110.7 626.3 1113.6 633.7 1116.4 637.8C1119.3 641.8 1125.1 646.4 1126.8 648.1" fill="none" stroke="#a1a1a1" stroke-width="5.2" stroke-linecap="round" stroke-linejoin="round"/></g><g filter="url(#b4)"><rect x="1059.6" y="656.6" width="77.6" height="72.4" fill="none"/><path d="M1078.6 675.6C1084.9 669.9 1109.8 669.9 1116.4 675.6C1123 681.4 1124.5 704.3 1118.2 710.1C1111.8 715.8 1085.2 715.8 1078.6 710.1C1072 704.3 1072.2 681.4 1078.6 675.6Z" fill="#818181"/></g><g filter="url(#b2)"><rect x="1088.3" y="682" width="21.8" height="21.8" fill="none"/><ellipse cx="1099.2" cy="692.9" rx="3.9" ry="2.6" fill="#c4c4c4" transform="rotate(-30 1099.2 692.9)"/></g><g filter="url(#b2)"><rect x="1114.9" y="682.8" width="34" height="42.6" fill="none"/><path d="M1133.7 698 L1130.2 710.1" fill="none" stroke="#9d9d9d" stroke-width="4.6" stroke-linecap="round" stroke-linejoin="round"/></g><g filter="url(#b2)"><rect x="1142.8" y="712.4" width="36.8" height="36.8" fill="none"/><path d="M1157.8 734.2 L1164.7 727.3" fill="none" stroke="#a7a7a7" stroke-width="3.9" stroke-linecap="round" stroke-linejoin="round"/></g><g filter="url(#b3)"><rect x="1145.4" y="671.9" width="85" height="48.8" fill="none"/><path d="M1164.7 696.3C1168.1 695.5 1177.6 690.3 1185.3 691.1C1193.1 692 1206.8 699.8 1211.2 701.5" fill="none" stroke="#767676" stroke-width="6.5" stroke-linecap="round" stroke-linejoin="round"/></g><g filter="url(#b4)"><rect x="1090.9" y="736.2" width="137.1" height="85.5" fill="none"/><path d="M1116.4 761.8C1125.1 764.6 1153.8 773.2 1168.1 779C1182.5 784.7 1196.8 793.3 1202.5 796.2" fill="none" stroke="#7a7a7a" stroke-width="13" stroke-linecap="round" stroke-linejoin="round"/></g><g filter="url(#b4)"><rect x="1201.2" y="683" width="71.5" height="157.6" fill="none"/><path d="M1228.4 710.1C1231.2 718.7 1244.2 744.5 1245.6 761.8C1247 779 1238.4 804.8 1237 813.4" fill="none" stroke="#7e7e7e" stroke-width="16.3" stroke-linecap="round" stroke-linejoin="round"/></g><g filter="url(#b4)"><rect x="1142.6" y="787.9" width="119.9" height="85.5" fill="none"/><path d="M1168.1 813.4C1173.8 816.3 1191.1 824.9 1202.5 830.6C1214 836.4 1231.2 845 1237 847.9" fill="none" stroke="#767676" stroke-width="13" stroke-linecap="round" stroke-linejoin="round"/></g><g filter="url(#b3)"><rect x="1169.3" y="471.9" width="118.1" height="202.5" fill="none"/><path d="M1185.3 494.8C1196.5 490.5 1244.4 483.6 1255.9 487.9C1267.4 492.2 1254.5 509.5 1254.2 520.7C1253.9 531.9 1252.5 540.8 1254.2 555.1C1255.9 569.5 1261.7 591 1264.5 606.8C1267.4 622.6 1273.1 641.2 1271.4 649.8C1269.7 658.4 1259.9 659.9 1254.2 658.4C1248.5 657 1242.7 649.8 1237 641.2C1231.2 632.6 1226.7 615.4 1219.8 606.8C1212.9 598.2 1200.2 598.2 1195.7 589.5C1191.1 580.9 1189.3 563.7 1192.2 555.1C1195.1 546.5 1211.2 543.6 1212.9 537.9C1214.6 532.1 1206.6 524.7 1202.5 520.7C1198.5 516.6 1191.6 518.1 1188.8 513.8C1185.9 509.5 1174.1 499.1 1185.3 494.8Z" fill="#999999"/></g><g filter="url(#b3)"><rect x="1200.3" y="480.6" width="59.6" height="83.7" fill="none"/><path d="M1216.3 503.4C1218.6 496 1232.4 493.7 1237 496.6C1241.6 499.4 1243.3 512.1 1243.9 520.7C1244.4 529.3 1243.9 544.8 1240.4 548.2C1237 551.7 1227.2 548.8 1223.2 541.3C1219.2 533.9 1214 510.9 1216.3 503.4Z" fill="#c4c4c4"/></g><g filter="url(#b2)"><rect x="1184.4" y="535.2" width="88" height="129.3" fill="none"/><path d="M1202.5 555.1C1205.1 551.1 1208.9 548.2 1212.9 548.2C1216.9 548.2 1222.6 551.1 1226.7 555.1C1230.7 559.1 1234.7 566 1237 572.3C1239.3 578.6 1238.7 585.5 1240.4 593C1242.2 600.5 1244.2 609.6 1247.3 617.1C1250.5 624.6 1257.4 632.6 1259.4 637.8C1261.4 642.9 1260.8 645.8 1259.4 648.1C1257.9 650.4 1253.9 652.1 1250.8 651.5C1247.6 651 1244.2 649.2 1240.4 644.7C1236.7 640.1 1232.4 630.9 1228.4 624C1224.4 617.1 1220.6 609.1 1216.3 603.3C1212 597.6 1205.7 594.7 1202.5 589.5C1199.4 584.4 1197.4 578.1 1197.4 572.3C1197.4 566.6 1200 559.1 1202.5 555.1Z" fill="#ffffff"/></g><g filter="url(#b1_5)"><rect x="1141.2" y="528.2" width="50.4" height="34.9" fill="none"/><path d="M1154.3 549.9C1156.6 548.8 1164.1 544.5 1168.1 543C1172.1 541.6 1176.7 541.6 1178.4 541.3" fill="none" stroke="#d8d8d8" stroke-width="3.3" stroke-linecap="round" stroke-linejoin="round"/></g><g filter="url(#b1_5)"><rect x="1150.9" y="541.3" width="44.8" height="31.9" fill="none"/><path d="M1164.7 559.4 L1181.9 555.1" fill="none" stroke="#d8d8d8" stroke-width="4.6" stroke-linecap="round" stroke-linejoin="round"/></g><g filter="url(#b1_5)"><rect x="1111.6" y="572.6" width="59.6" height="45.8" fill="none"/><path d="M1125.1 605C1127.3 604.2 1134.5 601.6 1138.8 599.9C1143.1 598.2 1147.7 597 1150.9 594.7C1154 592.4 1156.6 587.5 1157.8 586.1" fill="none" stroke="#e2e2e2" stroke-width="3.9" stroke-linecap="round" stroke-linejoin="round"/></g></g></g></g><polygon points="1276.8,471.2 1276.8,474.8 1278.9,484.7 1281.9,495 1283.5,505.4 1283.5,519.1 1282.4,529.5 1280.2,542.4 1276.8,556.1 1276.1,562.2 1277.6,576.8 1279.3,594 1280.2,611.2 1282.8,628.4 1285.4,641.4 1287.1,649.1 1289.2,652.7 1289.2,652.7 1293,654.2 1296.5,658.2 1299,664.2 1300.9,674.4 1303.4,680.4 1306,690.7 1308.6,703.6 1312.1,714 1318.1,723.4 1319.8,734.6 1321.5,745 1324,747.7 1327,742.7 1329.5,743.2 1325.8,749.3 1328.4,759.6 1331,768.2 1331.9,781.1 1330.1,789.7 1330.1,798.3 1326.7,806.9 1322.4,815.5 1318.1,824.1 1313.8,834.5 1318.1,832.8 1325,828.5 1329.3,824.1 1331.9,821.6 1336.2,825 1331.9,826.7 1330.1,834.5 1332.7,840.5 1337.9,843.9 1342.6,852.5 1346,856.2 1350,856.2 1350,471.2" fill="#cccccc"/><polygon points="1288,656.2 1289.6,662.2 1290.5,669.2 1291.4,686.4 1291.4,703.6 1291,720.8 1289.7,738.1 1287.1,755.3 1283.6,772.5 1279.3,789.7 1274.2,806.9 1268.2,824.1 1261.3,841.4 1254.4,857.7 1252,864.2 1260,864.2 1261.3,861.2 1263.8,856.9 1266.4,850 1273.3,844.8 1278.5,841.4 1277.6,837.1 1279.8,830.2 1278.5,824.1 1281.9,817.3 1285.4,810.4 1287.1,803.5 1292.7,798.3 1292.3,791.4 1288,785.4 1291.4,776.8 1294.8,763.9 1296.1,746.7 1298.3,729.5 1299.6,712.2 1300,695 1299.6,677.8 1298.3,669.2 1296,662.2 1292.5,656.7" fill="#cccccc"/><polyline points="1276.8,471.2 1276.8,474.8 1278.9,484.7 1281.9,495 1283.5,505.4 1283.5,519.1 1282.4,529.5 1280.2,542.4 1276.8,556.1 1276.1,562.2 1277.6,576.8 1279.3,594 1280.2,611.2 1282.8,628.4 1285.4,641.4 1287.1,649.1 1289.2,652.7 1289.2,652.7 1293,654.2 1296.5,658.2 1299,664.2 1300.9,674.4 1303.4,680.4 1306,690.7 1308.6,703.6 1312.1,714 1318.1,723.4 1319.8,734.6 1321.5,745 1324,747.7 1327,742.7 1329.5,743.2 1325.8,749.3 1328.4,759.6 1331,768.2 1331.9,781.1 1330.1,789.7 1330.1,798.3 1326.7,806.9 1322.4,815.5 1318.1,824.1 1313.8,834.5 1318.1,832.8 1325,828.5 1329.3,824.1 1331.9,821.6 1336.2,825 1331.9,826.7 1330.1,834.5 1332.7,840.5 1337.9,843.9 1342.6,852.5 1346,856.2" fill="none" stroke="#707070" stroke-width="2.2" stroke-linejoin="round"/><polyline points="1289.2,652.7 1288,656.2 1289.6,662.2 1290.5,669.2 1291.4,686.4 1291.4,703.6 1291,720.8 1289.7,738.1 1287.1,755.3 1283.6,772.5 1279.3,789.7 1274.2,806.9 1268.2,824.1 1261.3,841.4 1254.4,857.7 1252,864.2" fill="none" stroke="#707070" stroke-width="2.2" stroke-linejoin="round"/><polyline points="1260,864.2 1261.3,861.2 1263.8,856.9 1266.4,850 1273.3,844.8 1278.5,841.4 1277.6,837.1 1279.8,830.2 1278.5,824.1 1281.9,817.3 1285.4,810.4 1287.1,803.5 1292.7,798.3 1292.3,791.4 1288,785.4 1291.4,776.8 1294.8,763.9 1296.1,746.7 1298.3,729.5 1299.6,712.2 1300,695 1299.6,677.8 1298.3,669.2 1296,662.2 1292.5,656.7 1289.2,652.7" fill="none" stroke="#707070" stroke-width="2.2" stroke-linejoin="round"/><polyline points="1278.9,484.7 1285,482.8 1292.3,481.3 1299,479.2 1305.2,477.4 1309.5,481.3 1313,482.5 1317.2,482.1 1318.8,478.2 1319.8,474.8 1320,471.2" fill="none" stroke="#707070" stroke-width="2.2" stroke-linejoin="round"/><polygon points="1301.5,675.2 1303.5,678.2 1306,684.2 1307.8,686.7 1307,682.2 1305,677.7 1302.8,674.7" fill="#7d7d7d"/><path d="M984.9 517.6h18M993.9 508.6v18M1254 519.2h18M1263 510.2v18M982.4 756.8h18M991.4 747.8v18M1253.4 758.1h18M1262.4 749.1v18" stroke="#1a1a1a" stroke-width="1.1" fill="none" opacity="0.75"/></g><text class="lb" transform="translate(859.5 845.2) scale(1 1.065)">Chl-a, July 25</text>
<path d="M994.8 470.9v-7M1262.8 470.9v-7M990.3 866v7M1262.4 866v7M844 513.9h-7M844 752.9h-7M1347 518.6h7M1347 758.2h7" stroke="#000" stroke-width="5.6" stroke-linecap="round" fill="none"/>
<rect x="335" y="1263.3" width="500.3" height="393.1" fill="#fff"/>
<clipPath id="fc6"><rect x="335" y="1263.3" width="500.3" height="393.1"/></clipPath><clipPath id="dc6"><polygon points="332,1282.1 385.7,1282.1 385.7,1286.7 517.4,1286.7 517.4,1291.5 680,1291.5 680,1286.7 706,1286.7 706,1282.1 758.1,1282.1 758.1,1276.3 787.4,1276.3 787.4,1660.1 742.5,1660.1 733.7,1650.3 332,1409.6"/></clipPath><clipPath id="sc6"><polygon points="300,1245.8 766.8,1262.8 766.8,1266.4 768.9,1276.3 771.9,1286.6 773.5,1297 773.5,1310.7 772.4,1321.1 770.2,1334 766.8,1347.7 766.1,1353.8 767.6,1368.4 769.3,1385.6 770.2,1402.8 772.8,1420 775.4,1433 777.1,1440.7 779.2,1444.3 778,1447.8 779.6,1453.8 780.5,1460.8 781.4,1478 781.4,1495.2 781,1512.4 779.7,1529.7 777.1,1546.9 773.6,1564.1 769.3,1581.3 764.2,1598.5 758.2,1615.7 751.3,1633 744.4,1649.3 742,1655.8 300,1665.8"/></clipPath><filter id="f6" filterUnits="userSpaceOnUse" x="335" y="1263.3" width="500.3" height="393.1" color-interpolation-filters="sRGB"><feTurbulence type="fractalNoise" baseFrequency="0.13" numOctaves="2" seed="9" result="n"/><feColorMatrix in="n" type="matrix" values="1 0 0 0 0 1 0 0 0 0 1 0 0 0 0 0 0 0 0 1" result="g"/><feComposite in="SourceGraphic" in2="g" operator="arithmetic" k1="0" k2="1" k3="0.07692307692307693" k4="-0.038461538461538464"/><feComposite in2="SourceGraphic" operator="in" result="v"/><feFlood x="337" y="1265.3" width="1" height="1" flood-color="#000"/><feComposite width="5" height="5"/><feTile result="t"/><feComposite in="v" in2="t" operator="in"/><feMorphology operator="dilate" radius="2"/><feComponentTransfer><feFuncR type="table" tableValues="0 0 0 0 0 0 0 0 0 0 0 0 0 0 0 0.002 0.079 0.155 0.232 0.309 0.375 0.439 0.504 0.567 0.627 0.686 0.746 0.804 0.861 0.919 0.977 1 1 1 1 1 1 1 1 1 1 1 1 1 1 1 1 1 1 1 1 1 1 1 1 1 1 1 1 1"/><feFuncG type="table" tableValues="0 0.067 0.134 0.2 0.267 0.334 0.401 0.467 0.534 0.601 0.668 0.734 0.801 0.868 0.935 1 1 1 1 1 1 1 1 1 1 1 1 1 1 1 1 0.96 0.894 0.827 0.76 0.693 0.627 0.56 0.493 0.426 0.36 0.293 0.226 0.159 0.092 0.026 0 0 0 0 0 0 0 0 0 0 0 0 0 0"/><feFuncB type="table" tableValues="1 1 1 1 1 1 1 1 1 1 1 1 1 1 1 0.999 0.936 0.874 0.811 0.749 0.679 0.609 0.539 0.467 0.391 0.316 0.24 0.18 0.127 0.074 0.022 0 0 0 0 0 0 0 0 0 0 0 0 0 0 0 0 0 0 0 0 0 0 0 0 0 0 0 0 0"/><feFuncA type="discrete" tableValues="0 1"/></feComponentTransfer></filter><g clip-path="url(#fc6)"><g clip-path="url(#sc6)"><g filter="url(#f6)"><g clip-path="url(#dc6)"><rect x="335" y="1263.3" width="500.3" height="393.1" fill="#9c9c9c"/><g filter="url(#b5)"><rect x="298.6" y="1255.9" width="144.8" height="105.8" fill="none"/><path d="M325.5 1334.8 L416.6 1282.8" fill="none" stroke="#8d8d8d" stroke-width="9.8" stroke-linecap="round" stroke-linejoin="round" opacity="0.5"/></g><g filter="url(#b5)"><rect x="298.6" y="1252.6" width="242.4" height="164.3" fill="none"/><path d="M325.5 1390.1C342.8 1380.1 398.1 1348.4 429.6 1329.9C461 1311.5 500 1287.9 514.1 1279.5" fill="none" stroke="#8f8f8f" stroke-width="9.8" stroke-linecap="round" stroke-linejoin="round" opacity="0.5"/></g><g filter="url(#b5)"><rect x="353.9" y="1265.6" width="291.2" height="196.9" fill="none"/><path d="M380.8 1435.6C399.8 1424.3 455.1 1391.2 494.6 1367.3C534.2 1343.5 597.6 1305 618.2 1292.5" fill="none" stroke="#8f8f8f" stroke-width="9.8" stroke-linecap="round" stroke-linejoin="round" opacity="0.5"/></g><g filter="url(#b5)"><rect x="435.2" y="1304.7" width="307.5" height="209.9" fill="none"/><path d="M462.1 1487.7C483.8 1474.1 549.9 1432.4 592.2 1406.4C634.5 1380.3 695.2 1344 715.8 1331.6" fill="none" stroke="#8f8f8f" stroke-width="9.8" stroke-linecap="round" stroke-linejoin="round" opacity="0.5"/></g><g filter="url(#b5)"><rect x="516.5" y="1389.2" width="248.9" height="174.1" fill="none"/><path d="M543.4 1536.5C562.4 1525.1 624.7 1488.2 657.3 1468.2C689.8 1448.1 725 1424.8 738.6 1416.1" fill="none" stroke="#8f8f8f" stroke-width="9.8" stroke-linecap="round" stroke-linejoin="round" opacity="0.5"/></g><g filter="url(#b5)"><rect x="597.9" y="1499.8" width="151.3" height="115.6" fill="none"/><path d="M624.7 1588.5 L722.3 1526.7" fill="none" stroke="#8f8f8f" stroke-width="9.8" stroke-linecap="round" stroke-linejoin="round" opacity="0.5"/></g><g filter="url(#b6)"><rect x="398.1" y="1267.5" width="128.1" height="89" fill="none"/><path d="M429.6 1325.1 L494.6 1299" fill="none" stroke="#a5a5a5" stroke-width="13" stroke-linecap="round" stroke-linejoin="round" opacity="0.8"/></g><g filter="url(#b6)"><rect x="445.2" y="1324.4" width="115.1" height="137.8" fill="none"/><path d="M478.4 1357.6C484.3 1364.6 506 1387.9 514.1 1399.9C522.3 1411.8 525 1424.3 527.2 1429.1" fill="none" stroke="#a3a3a3" stroke-width="16.3" stroke-linecap="round" stroke-linejoin="round" opacity="0.8"/></g><g filter="url(#b6)"><rect x="663.2" y="1487.1" width="72.8" height="98.8" fill="none"/><path d="M702.8 1520.2 L696.3 1552.7" fill="none" stroke="#a5a5a5" stroke-width="16.3" stroke-linecap="round" stroke-linejoin="round" opacity="0.8"/></g><g filter="url(#b6)"><rect x="585.1" y="1357" width="89" height="82.5" fill="none"/><path d="M618.2 1390.1 L641 1406.4" fill="none" stroke="#a1a1a1" stroke-width="16.3" stroke-linecap="round" stroke-linejoin="round" opacity="0.7"/></g><g filter="url(#b6)"><rect x="711.9" y="1231.7" width="92.3" height="251.7" fill="none"/><path d="M753.2 1273C753.5 1276.3 754.8 1279 754.8 1292.5C754.8 1306.1 752.7 1335.4 753.2 1354.3C753.7 1373.3 756.5 1391.7 758.1 1406.4C759.7 1421 762.1 1436.2 763 1442.1" fill="none" stroke="#838383" stroke-width="32.5" stroke-linecap="round" stroke-linejoin="round"/></g><g filter="url(#b8)"><rect x="647.4" y="1359.1" width="167.7" height="366.1" fill="none"/><path d="M745.7 1422.6C746.1 1425.9 747.3 1434 748.3 1442.1C749.3 1450.3 751 1458.4 751.6 1471.4C752.1 1484.4 752.4 1506.7 751.6 1520.2C750.8 1533.8 748.9 1541.9 746.7 1552.7C744.5 1563.6 741.6 1574.4 738.6 1585.3C735.6 1596.1 732.6 1606.9 728.8 1617.8C725 1628.6 718.8 1643 715.8 1650.3C712.8 1657.6 711.7 1659.8 710.9 1661.7" fill="none" stroke="#838383" stroke-width="65.1" stroke-linecap="round" stroke-linejoin="round"/></g><g filter="url(#b4)"><rect x="732.9" y="1245.2" width="65.3" height="224.7" fill="none"/><path d="M760.7 1273C761 1276.3 762.3 1279 762.3 1292.5C762.3 1306.1 760.1 1335.4 760.7 1354.3C761.2 1373.3 763.9 1391.7 765.6 1406.4C767.2 1421 769.6 1436.2 770.4 1442.1" fill="none" stroke="#626262" stroke-width="17.6" stroke-linecap="round" stroke-linejoin="round"/></g><g filter="url(#b6)"><rect x="681" y="1379.7" width="126.4" height="324.8" fill="none"/><path d="M758.7 1422.6C759.1 1425.9 760.4 1434 761.3 1442.1C762.3 1450.3 764 1458.4 764.6 1471.4C765.1 1484.4 765.4 1506.7 764.6 1520.2C763.8 1533.8 761.9 1541.9 759.7 1552.7C757.5 1563.6 754.6 1574.4 751.6 1585.3C748.6 1596.1 745.6 1606.9 741.8 1617.8C738 1628.6 731.8 1643 728.8 1650.3C725.8 1657.6 724.7 1659.8 723.9 1661.7" fill="none" stroke="#626262" stroke-width="35.8" stroke-linecap="round" stroke-linejoin="round"/></g><g filter="url(#b3)"><rect x="744" y="1252.5" width="50.9" height="210.2" fill="none"/><path d="M764.6 1273C764.9 1276.3 766.2 1279 766.2 1292.5C766.2 1306.1 764 1335.4 764.6 1354.3C765.1 1373.3 767.8 1391.7 769.5 1406.4C771.1 1421 773.5 1436.2 774.3 1442.1" fill="none" stroke="#474747" stroke-width="9.1" stroke-linecap="round" stroke-linejoin="round"/></g><g filter="url(#b4)"><rect x="703.3" y="1393.9" width="98.2" height="296.6" fill="none"/><path d="M766.8 1422.6C767.3 1425.9 768.5 1434 769.5 1442.1C770.5 1450.3 772.2 1458.4 772.7 1471.4C773.3 1484.4 773.5 1506.7 772.7 1520.2C771.9 1533.8 770 1541.9 767.8 1552.7C765.7 1563.6 762.7 1574.4 759.7 1585.3C756.7 1596.1 753.7 1606.9 750 1617.8C746.2 1628.6 739.9 1643 736.9 1650.3C734 1657.6 732.9 1659.8 732.1 1661.7" fill="none" stroke="#414141" stroke-width="19.5" stroke-linecap="round" stroke-linejoin="round"/></g><g filter="url(#b2)"><rect x="720" y="1503.3" width="74.5" height="175.3" fill="none"/><path d="M777.6 1520.2C776.8 1525.6 774.9 1541.9 772.7 1552.7C770.6 1563.6 767.6 1574.4 764.6 1585.3C761.6 1596.1 758.6 1606.9 754.8 1617.8C751 1628.6 744.8 1643 741.8 1650.3C738.8 1657.6 737.8 1659.8 736.9 1661.7" fill="none" stroke="#1d1d1d" stroke-width="7.8" stroke-linecap="round" stroke-linejoin="round"/></g><path d="M608.5 1325.1C613.3 1327.2 628.5 1333.2 637.7 1338.1C647 1342.9 659.4 1351.6 663.8 1354.3" fill="none" stroke="#4e4e4e" stroke-width="4.6" stroke-linecap="round" stroke-linejoin="round"/></g></g></g><polygon points="766.8,1262.8 766.8,1266.4 768.9,1276.3 771.9,1286.6 773.5,1297 773.5,1310.7 772.4,1321.1 770.2,1334 766.8,1347.7 766.1,1353.8 767.6,1368.4 769.3,1385.6 770.2,1402.8 772.8,1420 775.4,1433 777.1,1440.7 779.2,1444.3 779.2,1444.3 783,1445.8 786.5,1449.8 789,1455.8 790.9,1466 793.4,1472 796,1482.3 798.6,1495.2 802.1,1505.6 808.1,1515 809.8,1526.2 811.5,1536.6 814,1539.3 817,1534.3 819.5,1534.8 815.8,1540.9 818.4,1551.2 821,1559.8 821.9,1572.7 820.1,1581.3 820.1,1589.9 816.7,1598.5 812.4,1607.1 808.1,1615.7 803.8,1626.1 808.1,1624.4 815,1620.1 819.3,1615.7 821.9,1613.2 826.2,1616.6 821.9,1618.3 820.1,1626.1 822.7,1632.1 827.9,1635.5 832.6,1644.1 836,1647.8 840,1647.8 840,1262.8" fill="#cccccc"/><polygon points="778,1447.8 779.6,1453.8 780.5,1460.8 781.4,1478 781.4,1495.2 781,1512.4 779.7,1529.7 777.1,1546.9 773.6,1564.1 769.3,1581.3 764.2,1598.5 758.2,1615.7 751.3,1633 744.4,1649.3 742,1655.8 750,1655.8 751.3,1652.8 753.8,1648.5 756.4,1641.6 763.3,1636.4 768.5,1633 767.6,1628.7 769.8,1621.8 768.5,1615.7 771.9,1608.9 775.4,1602 777.1,1595.1 782.7,1589.9 782.3,1583 778,1577 781.4,1568.4 784.8,1555.5 786.1,1538.3 788.3,1521.1 789.6,1503.8 790,1486.6 789.6,1469.4 788.3,1460.8 786,1453.8 782.5,1448.3" fill="#cccccc"/><polyline points="766.8,1262.8 766.8,1266.4 768.9,1276.3 771.9,1286.6 773.5,1297 773.5,1310.7 772.4,1321.1 770.2,1334 766.8,1347.7 766.1,1353.8 767.6,1368.4 769.3,1385.6 770.2,1402.8 772.8,1420 775.4,1433 777.1,1440.7 779.2,1444.3 779.2,1444.3 783,1445.8 786.5,1449.8 789,1455.8 790.9,1466 793.4,1472 796,1482.3 798.6,1495.2 802.1,1505.6 808.1,1515 809.8,1526.2 811.5,1536.6 814,1539.3 817,1534.3 819.5,1534.8 815.8,1540.9 818.4,1551.2 821,1559.8 821.9,1572.7 820.1,1581.3 820.1,1589.9 816.7,1598.5 812.4,1607.1 808.1,1615.7 803.8,1626.1 808.1,1624.4 815,1620.1 819.3,1615.7 821.9,1613.2 826.2,1616.6 821.9,1618.3 820.1,1626.1 822.7,1632.1 827.9,1635.5 832.6,1644.1 836,1647.8" fill="none" stroke="#707070" stroke-width="2.2" stroke-linejoin="round"/><polyline points="779.2,1444.3 778,1447.8 779.6,1453.8 780.5,1460.8 781.4,1478 781.4,1495.2 781,1512.4 779.7,1529.7 777.1,1546.9 773.6,1564.1 769.3,1581.3 764.2,1598.5 758.2,1615.7 751.3,1633 744.4,1649.3 742,1655.8" fill="none" stroke="#707070" stroke-width="2.2" stroke-linejoin="round"/><polyline points="750,1655.8 751.3,1652.8 753.8,1648.5 756.4,1641.6 763.3,1636.4 768.5,1633 767.6,1628.7 769.8,1621.8 768.5,1615.7 771.9,1608.9 775.4,1602 777.1,1595.1 782.7,1589.9 782.3,1583 778,1577 781.4,1568.4 784.8,1555.5 786.1,1538.3 788.3,1521.1 789.6,1503.8 790,1486.6 789.6,1469.4 788.3,1460.8 786,1453.8 782.5,1448.3 779.2,1444.3" fill="none" stroke="#707070" stroke-width="2.2" stroke-linejoin="round"/><polyline points="768.9,1276.3 775,1274.4 782.3,1272.9 789,1270.8 795.2,1269 799.5,1272.9 803,1274.1 807.2,1273.7 808.8,1269.8 809.8,1266.4 810,1262.8" fill="none" stroke="#707070" stroke-width="2.2" stroke-linejoin="round"/><polygon points="791.5,1466.8 793.5,1469.8 796,1475.8 797.8,1478.3 797,1473.8 795,1469.3 792.8,1466.3" fill="#7d7d7d"/><path d="M474.9 1309.2h18M483.9 1300.2v18M744 1310.8h18M753 1301.8v18M472.4 1548.4h18M481.4 1539.4v18M743.4 1549.7h18M752.4 1540.7v18" stroke="#1a1a1a" stroke-width="1.8" fill="none"/></g><text class="lb" transform="translate(342.4 1636.8) scale(1 1.065)">SST, July 28</text>
<path d="M484.8 1262.3v-7M752.8 1262.3v-7M480.3 1657.4v7M752.4 1657.4v7M334 1305.5h-7M334 1544.5h-7M836.3 1310.2h7M836.3 1549.8h7" stroke="#000" stroke-width="5.6" stroke-linecap="round" fill="none"/>
<rect x="845" y="1263.3" width="501" height="393.1" fill="#fff"/>
<clipPath id="fc7"><rect x="845" y="1263.3" width="501" height="393.1"/></clipPath><clipPath id="dc7"><polygon points="842,1283.4 1024.1,1288.6 1199.8,1288.6 1203,1286 1216,1284.7 1216,1282.1 1245.3,1280.2 1297.4,1276.3 1297.4,1660.1 1260,1660.1 1243.7,1650.3 842,1406.4"/></clipPath><clipPath id="sc7"><polygon points="810,1245.8 1276.8,1262.8 1276.8,1266.4 1278.9,1276.3 1281.9,1286.6 1283.5,1297 1283.5,1310.7 1282.4,1321.1 1280.2,1334 1276.8,1347.7 1276.1,1353.8 1277.6,1368.4 1279.3,1385.6 1280.2,1402.8 1282.8,1420 1285.4,1433 1287.1,1440.7 1289.2,1444.3 1288,1447.8 1289.6,1453.8 1290.5,1460.8 1291.4,1478 1291.4,1495.2 1291,1512.4 1289.7,1529.7 1287.1,1546.9 1283.6,1564.1 1279.3,1581.3 1274.2,1598.5 1268.2,1615.7 1261.3,1633 1254.4,1649.3 1252,1655.8 810,1665.8"/></clipPath><filter id="f7" filterUnits="userSpaceOnUse" x="845" y="1263.3" width="501" height="393.1" color-interpolation-filters="sRGB"><feTurbulence type="fractalNoise" baseFrequency="0.21" numOctaves="3" seed="10" result="n"/><feColorMatrix in="n" type="matrix" values="1 0 0 0 0 1 0 0 0 0 1 0 0 0 0 0 0 0 0 1" result="g"/><feComposite in="SourceGraphic" in2="g" operator="arithmetic" k1="0.75" k2="0.625" k3="0.07692307692307693" k4="-0.038461538461538464"/><feComponentTransfer><feFuncR type="table" tableValues="0 0 0 0 0 0 0 0 0 0 0 0 0 0 0 0.002 0.079 0.155 0.232 0.309 0.375 0.439 0.504 0.567 0.627 0.686 0.746 0.804 0.861 0.919 0.977 1 1 1 1 1 1 1 1 1 1 1 1 1 1 1 1 1 1 1 1 1 1 1 1 1 1 1 1 1"/><feFuncG type="table" tableValues="0 0.067 0.134 0.2 0.267 0.334 0.401 0.467 0.534 0.601 0.668 0.734 0.801 0.868 0.935 1 1 1 1 1 1 1 1 1 1 1 1 1 1 1 1 0.96 0.894 0.827 0.76 0.693 0.627 0.56 0.493 0.426 0.36 0.293 0.226 0.159 0.092 0.026 0 0 0 0 0 0 0 0 0 0 0 0 0 0"/><feFuncB type="table" tableValues="1 1 1 1 1 1 1 1 1 1 1 1 1 1 1 0.999 0.936 0.874 0.811 0.749 0.679 0.609 0.539 0.467 0.391 0.316 0.24 0.18 0.127 0.074 0.022 0 0 0 0 0 0 0 0 0 0 0 0 0 0 0 0 0 0 0 0 0 0 0 0 0 0 0 0 0"/></feComponentTransfer></filter><g clip-path="url(#fc7)"><g clip-path="url(#sc7)"><g clip-path="url(#dc7)"><g filter="url(#f7)"><rect x="845" y="1263.3" width="501" height="393.1" fill="#3b3b3b"/><g filter="url(#b6)"><rect x="810.5" y="1254.5" width="199.6" height="235.4" fill="none"/><path d="M835.5 1279.5C852.8 1260 924.9 1278.4 939.6 1286C954.2 1293.6 919 1313.1 923.3 1325.1C927.7 1337 955.3 1346.7 965.6 1357.6C975.9 1368.4 987.3 1376 985.1 1390.1C982.9 1404.2 960.2 1429.7 952.6 1442.1C945 1454.6 959.1 1471.4 939.6 1464.9C920.1 1458.4 852.8 1434 835.5 1403.1C818.1 1372.2 818.1 1299 835.5 1279.5Z" fill="#222222"/></g><g filter="url(#b5)"><rect x="1197.3" y="1233.1" width="120.4" height="468.5" fill="none"/><path d="M1264.8 1273C1265.1 1276.3 1266.5 1279 1266.5 1292.5C1266.5 1306.1 1264.3 1335.4 1264.8 1354.3C1265.4 1373.3 1268.1 1391.7 1269.7 1406.4C1271.3 1421 1273.2 1431.3 1274.6 1442.1C1275.9 1453 1277.3 1458.4 1277.8 1471.4C1278.4 1484.4 1278.7 1506.7 1277.8 1520.2C1277 1533.8 1275.1 1541.9 1273 1552.7C1270.8 1563.6 1267.8 1574.4 1264.8 1585.3C1261.9 1596.1 1258.9 1606.9 1255.1 1617.8C1251.3 1628.6 1245 1643 1242.1 1650.3C1239.1 1657.6 1238 1659.8 1237.2 1661.7" fill="none" stroke="#262626" stroke-width="35.8" stroke-linecap="round" stroke-linejoin="round"/></g><g filter="url(#b12)"><rect x="929.1" y="1249.5" width="346.2" height="297.4" fill="none"/><path d="M972.1 1292.5C993.8 1276.3 1091.4 1289.8 1134.7 1292.5C1178.1 1295.2 1216 1287.1 1232.3 1308.8C1248.6 1330.5 1248.6 1392.8 1232.3 1422.6C1216 1452.4 1167.3 1474.1 1134.7 1487.7C1102.2 1501.2 1061.5 1509.4 1037.2 1503.9C1012.8 1498.5 993.8 1474.1 988.4 1455.2C982.9 1436.2 1007.3 1417.2 1004.6 1390.1C1001.9 1363 950.4 1308.8 972.1 1292.5Z" fill="#4b4b4b" opacity="0.8"/></g><g filter="url(#b8)"><rect x="1051.7" y="1264.8" width="133.6" height="123.8" fill="none"/><path d="M1089.2 1295.8C1097.9 1292 1123.9 1296.3 1134.7 1302.3C1145.6 1308.2 1154.2 1322.3 1154.2 1331.6C1154.2 1340.8 1143.4 1354.3 1134.7 1357.6C1126.1 1360.8 1110.9 1356.5 1102.2 1351.1C1093.5 1345.7 1084.9 1334.3 1082.7 1325.1C1080.5 1315.8 1080.5 1299.6 1089.2 1295.8Z" fill="#303030" opacity="0.8"/></g><g filter="url(#b8)"><rect x="1006.2" y="1482.7" width="224.6" height="149.8" fill="none"/><path d="M1037.2 1520.2C1039.9 1511 1107.6 1508.3 1134.7 1513.7C1161.8 1519.1 1188.9 1538.1 1199.8 1552.7C1210.6 1567.4 1213.3 1598.8 1199.8 1601.5C1186.2 1604.2 1145.6 1582.5 1118.5 1569C1091.4 1555.4 1034.4 1529.4 1037.2 1520.2Z" fill="#333333" opacity="0.7"/></g><g filter="url(#b3)"><rect x="1079.7" y="1286.3" width="136.1" height="110.1" fill="none"/><path d="M1102.2 1373.8C1107.6 1373.8 1125 1377.1 1134.7 1373.8C1144.5 1370.6 1153.2 1360.8 1160.8 1354.3C1168.3 1347.8 1174.8 1342.4 1180.3 1334.8C1185.7 1327.2 1191.1 1313.1 1193.3 1308.8" fill="none" stroke="#7e7e7e" stroke-width="13" stroke-linecap="round" stroke-linejoin="round"/></g><g filter="url(#b3)"><rect x="1130.8" y="1272.3" width="69.7" height="43.7" fill="none"/><path d="M1151 1292.5 L1180.3 1295.8" fill="none" stroke="#7e7e7e" stroke-width="8.5" stroke-linecap="round" stroke-linejoin="round"/></g><g filter="url(#b2)"><rect x="1148.4" y="1322.5" width="44.2" height="44.2" fill="none"/><path d="M1164 1351.1 L1177 1338.1" fill="none" stroke="#b1b1b1" stroke-width="5.2" stroke-linecap="round" stroke-linejoin="round"/></g><g filter="url(#b2)"><rect x="1092.6" y="1357.7" width="25.7" height="25.7" fill="none"/><ellipse cx="1105.5" cy="1370.6" rx="5.9" ry="3.9" fill="#bababa"/></g><g filter="url(#b3)"><rect x="1059.2" y="1334.1" width="56.7" height="56.7" fill="none"/><path d="M1079.4 1354.3 L1095.7 1370.6" fill="none" stroke="#6e6e6e" stroke-width="8.5" stroke-linecap="round" stroke-linejoin="round"/></g><g filter="url(#b3)"><rect x="1045.5" y="1379" width="110.1" height="54.8" fill="none"/><path d="M1066.4 1412.9C1072.4 1411.2 1090.8 1405.3 1102.2 1403.1C1113.6 1400.9 1129.3 1400.4 1134.7 1399.9" fill="none" stroke="#767676" stroke-width="9.8" stroke-linecap="round" stroke-linejoin="round"/></g><g filter="url(#b3)"><rect x="1036.1" y="1392.3" width="73.6" height="83.4" fill="none"/><path d="M1056.7 1455.2C1058.8 1454.1 1066.4 1453 1069.7 1448.6C1072.9 1444.3 1072.9 1435.1 1076.2 1429.1C1079.4 1423.2 1087 1415.6 1089.2 1412.9" fill="none" stroke="#7e7e7e" stroke-width="9.1" stroke-linecap="round" stroke-linejoin="round"/></g><g filter="url(#b2)"><rect x="1050.6" y="1441" width="28.3" height="28.3" fill="none"/><ellipse cx="1064.8" cy="1455.2" rx="7.2" ry="5.2" fill="#999999" transform="rotate(-30 1064.8 1455.2)"/></g><g filter="url(#b3)"><rect x="1024.4" y="1461.9" width="87.3" height="48.3" fill="none"/><path d="M1043.7 1490.9C1048 1489.8 1061.5 1486.1 1069.7 1484.4C1077.8 1482.8 1088.7 1481.7 1092.4 1481.2" fill="none" stroke="#767676" stroke-width="6.5" stroke-linecap="round" stroke-linejoin="round"/></g><g filter="url(#b4)"><rect x="930.3" y="1410.1" width="67.3" height="77" fill="none"/><path d="M955.8 1461.7C956.9 1458.4 959.6 1446.5 962.3 1442.1C965.1 1437.8 970.5 1436.7 972.1 1435.6" fill="none" stroke="#6e6e6e" stroke-width="13" stroke-linecap="round" stroke-linejoin="round"/></g><g filter="url(#b4)"><rect x="925.5" y="1265.4" width="70.5" height="51" fill="none"/><path d="M949.3 1292.5 L972.1 1289.3" fill="none" stroke="#626262" stroke-width="9.8" stroke-linecap="round" stroke-linejoin="round"/></g><g filter="url(#b4)"><rect x="951" y="1310.4" width="81.3" height="81.3" fill="none"/><ellipse cx="991.6" cy="1351.1" rx="27.6" ry="16.3" fill="#858585" transform="rotate(20 991.6 1351.1)"/></g><g filter="url(#b3)"><rect x="964.4" y="1330.3" width="44.7" height="44.7" fill="none"/><ellipse cx="986.7" cy="1352.7" rx="12.4" ry="5.9" fill="#c4c4c4" transform="rotate(20 986.7 1352.7)"/></g><g filter="url(#b4)"><rect x="949.3" y="1373.8" width="91.1" height="91.1" fill="none"/><ellipse cx="994.9" cy="1419.4" rx="32.5" ry="13" fill="#818181" transform="rotate(-10 994.9 1419.4)"/></g><g filter="url(#b3)"><rect x="958.2" y="1400.6" width="40.8" height="40.8" fill="none"/><ellipse cx="978.6" cy="1421" rx="8.5" ry="10.4" fill="#cecece" transform="rotate(20 978.6 1421)"/></g><g filter="url(#b5)"><rect x="1203" y="1523.4" width="65.1" height="123.7" fill="none"/><path d="M1232.3 1552.7C1233.4 1558.2 1238.3 1574.4 1238.8 1585.3C1239.4 1596.1 1236.1 1612.4 1235.6 1617.8" fill="none" stroke="#6e6e6e" stroke-width="14.6" stroke-linecap="round" stroke-linejoin="round"/></g><g filter="url(#b4)"><rect x="1193.3" y="1463.3" width="100.8" height="100.8" fill="none"/><ellipse cx="1243.7" cy="1513.7" rx="24.4" ry="37.4" fill="#898989" transform="rotate(-12 1243.7 1513.7)"/></g><g filter="url(#b3)"><rect x="1208.2" y="1468.4" width="71" height="87.3" fill="none"/><path d="M1225.8 1487.7C1228.8 1483.9 1236.9 1483.3 1242.1 1484.4C1247.2 1485.5 1253.2 1488.2 1256.7 1494.2C1260.2 1500.1 1262.9 1513.2 1263.2 1520.2C1263.5 1527.3 1261.3 1533.2 1258.3 1536.5C1255.3 1539.7 1249.7 1541.3 1245.3 1539.7C1241 1538.1 1235.8 1532.1 1232.3 1526.7C1228.8 1521.3 1225.3 1513.7 1224.2 1507.2C1223.1 1500.7 1222.8 1491.5 1225.8 1487.7Z" fill="#ebebeb"/></g><g filter="url(#b2)"><rect x="1254.4" y="1417.8" width="44.5" height="60.2" fill="none"/><path d="M1271.3 1435.6C1273.9 1432.1 1280.3 1429.1 1282.7 1430.8C1285.2 1432.4 1286.2 1440.2 1286 1445.4C1285.7 1450.5 1283.5 1458.4 1281.1 1461.7C1278.7 1464.9 1273.6 1466.5 1271.3 1464.9C1269.1 1463.3 1267.4 1456.8 1267.4 1451.9C1267.4 1447 1268.8 1439.2 1271.3 1435.6Z" fill="#ffffff"/></g></g></g></g><polygon points="1276.8,1262.8 1276.8,1266.4 1278.9,1276.3 1281.9,1286.6 1283.5,1297 1283.5,1310.7 1282.4,1321.1 1280.2,1334 1276.8,1347.7 1276.1,1353.8 1277.6,1368.4 1279.3,1385.6 1280.2,1402.8 1282.8,1420 1285.4,1433 1287.1,1440.7 1289.2,1444.3 1289.2,1444.3 1293,1445.8 1296.5,1449.8 1299,1455.8 1300.9,1466 1303.4,1472 1306,1482.3 1308.6,1495.2 1312.1,1505.6 1318.1,1515 1319.8,1526.2 1321.5,1536.6 1324,1539.3 1327,1534.3 1329.5,1534.8 1325.8,1540.9 1328.4,1551.2 1331,1559.8 1331.9,1572.7 1330.1,1581.3 1330.1,1589.9 1326.7,1598.5 1322.4,1607.1 1318.1,1615.7 1313.8,1626.1 1318.1,1624.4 1325,1620.1 1329.3,1615.7 1331.9,1613.2 1336.2,1616.6 1331.9,1618.3 1330.1,1626.1 1332.7,1632.1 1337.9,1635.5 1342.6,1644.1 1346,1647.8 1350,1647.8 1350,1262.8" fill="#cccccc"/><polygon points="1288,1447.8 1289.6,1453.8 1290.5,1460.8 1291.4,1478 1291.4,1495.2 1291,1512.4 1289.7,1529.7 1287.1,1546.9 1283.6,1564.1 1279.3,1581.3 1274.2,1598.5 1268.2,1615.7 1261.3,1633 1254.4,1649.3 1252,1655.8 1260,1655.8 1261.3,1652.8 1263.8,1648.5 1266.4,1641.6 1273.3,1636.4 1278.5,1633 1277.6,1628.7 1279.8,1621.8 1278.5,1615.7 1281.9,1608.9 1285.4,1602 1287.1,1595.1 1292.7,1589.9 1292.3,1583 1288,1577 1291.4,1568.4 1294.8,1555.5 1296.1,1538.3 1298.3,1521.1 1299.6,1503.8 1300,1486.6 1299.6,1469.4 1298.3,1460.8 1296,1453.8 1292.5,1448.3" fill="#cccccc"/><polyline points="1276.8,1262.8 1276.8,1266.4 1278.9,1276.3 1281.9,1286.6 1283.5,1297 1283.5,1310.7 1282.4,1321.1 1280.2,1334 1276.8,1347.7 1276.1,1353.8 1277.6,1368.4 1279.3,1385.6 1280.2,1402.8 1282.8,1420 1285.4,1433 1287.1,1440.7 1289.2,1444.3 1289.2,1444.3 1293,1445.8 1296.5,1449.8 1299,1455.8 1300.9,1466 1303.4,1472 1306,1482.3 1308.6,1495.2 1312.1,1505.6 1318.1,1515 1319.8,1526.2 1321.5,1536.6 1324,1539.3 1327,1534.3 1329.5,1534.8 1325.8,1540.9 1328.4,1551.2 1331,1559.8 1331.9,1572.7 1330.1,1581.3 1330.1,1589.9 1326.7,1598.5 1322.4,1607.1 1318.1,1615.7 1313.8,1626.1 1318.1,1624.4 1325,1620.1 1329.3,1615.7 1331.9,1613.2 1336.2,1616.6 1331.9,1618.3 1330.1,1626.1 1332.7,1632.1 1337.9,1635.5 1342.6,1644.1 1346,1647.8" fill="none" stroke="#707070" stroke-width="2.2" stroke-linejoin="round"/><polyline points="1289.2,1444.3 1288,1447.8 1289.6,1453.8 1290.5,1460.8 1291.4,1478 1291.4,1495.2 1291,1512.4 1289.7,1529.7 1287.1,1546.9 1283.6,1564.1 1279.3,1581.3 1274.2,1598.5 1268.2,1615.7 1261.3,1633 1254.4,1649.3 1252,1655.8" fill="none" stroke="#707070" stroke-width="2.2" stroke-linejoin="round"/><polyline points="1260,1655.8 1261.3,1652.8 1263.8,1648.5 1266.4,1641.6 1273.3,1636.4 1278.5,1633 1277.6,1628.7 1279.8,1621.8 1278.5,1615.7 1281.9,1608.9 1285.4,1602 1287.1,1595.1 1292.7,1589.9 1292.3,1583 1288,1577 1291.4,1568.4 1294.8,1555.5 1296.1,1538.3 1298.3,1521.1 1299.6,1503.8 1300,1486.6 1299.6,1469.4 1298.3,1460.8 1296,1453.8 1292.5,1448.3 1289.2,1444.3" fill="none" stroke="#707070" stroke-width="2.2" stroke-linejoin="round"/><polyline points="1278.9,1276.3 1285,1274.4 1292.3,1272.9 1299,1270.8 1305.2,1269 1309.5,1272.9 1313,1274.1 1317.2,1273.7 1318.8,1269.8 1319.8,1266.4 1320,1262.8" fill="none" stroke="#707070" stroke-width="2.2" stroke-linejoin="round"/><polygon points="1301.5,1466.8 1303.5,1469.8 1306,1475.8 1307.8,1478.3 1307,1473.8 1305,1469.3 1302.8,1466.3" fill="#7d7d7d"/><path d="M984.9 1309.2h18M993.9 1300.2v18M1254 1310.8h18M1263 1301.8v18M982.4 1548.4h18M991.4 1539.4v18M1253.4 1549.7h18M1262.4 1540.7v18" stroke="#1a1a1a" stroke-width="1.1" fill="none" opacity="0.75"/></g><text class="lb" transform="translate(858.3 1636.8) scale(1 1.065)">Chl-a, July 28</text>
<path d="M994.8 1262.3v-7M1262.8 1262.3v-7M990.3 1657.4v7M1262.4 1657.4v7M844 1305.5h-7M844 1544.5h-7M1347 1310.2h7M1347 1549.8h7" stroke="#000" stroke-width="5.6" stroke-linecap="round" fill="none"/>
<rect x="335" y="2056.8" width="500.3" height="393.1" fill="#fff"/>
<clipPath id="fc10"><rect x="335" y="2056.8" width="500.3" height="393.1"/></clipPath><clipPath id="dc10"><polygon points="332,2079.4 536.9,2079.4 536.9,2084.2 676.8,2084.2 676.8,2079.4 728.8,2079.4 728.8,2074.2 754.8,2074.2 754.8,2069.6 787.4,2069.6 787.4,2454.1 738.6,2454.1 727.2,2444.3 332,2197.1"/></clipPath><clipPath id="sc10"><polygon points="300,2039.1 766.8,2056.1 766.8,2059.7 768.9,2069.6 771.9,2079.9 773.5,2090.3 773.5,2104 772.4,2114.4 770.2,2127.3 766.8,2141 766.1,2147.1 767.6,2161.7 769.3,2178.9 770.2,2196.1 772.8,2213.3 775.4,2226.3 777.1,2234 779.2,2237.6 778,2241.1 779.6,2247.1 780.5,2254.1 781.4,2271.3 781.4,2288.5 781,2305.7 779.7,2323 777.1,2340.2 773.6,2357.4 769.3,2374.6 764.2,2391.8 758.2,2409 751.3,2426.3 744.4,2442.6 742,2449.1 300,2459.1"/></clipPath><filter id="f10" filterUnits="userSpaceOnUse" x="335" y="2056.8" width="500.3" height="393.1" color-interpolation-filters="sRGB"><feTurbulence type="fractalNoise" baseFrequency="0.13" numOctaves="2" seed="13" result="n"/><feColorMatrix in="n" type="matrix" values="1 0 0 0 0 1 0 0 0 0 1 0 0 0 0 0 0 0 0 1" result="g"/><feComposite in="SourceGraphic" in2="g" operator="arithmetic" k1="0" k2="1" k3="0.1076923076923077" k4="-0.05384615384615385"/><feComposite in2="SourceGraphic" operator="in" result="v"/><feFlood x="337" y="2058.8" width="1" height="1" flood-color="#000"/><feComposite width="5" height="5"/><feTile result="t"/><feComposite in="v" in2="t" operator="in"/><feMorphology operator="dilate" radius="2"/><feComponentTransfer><feFuncR type="table" tableValues="0 0 0 0 0 0 0 0 0 0 0 0 0 0 0 0.002 0.079 0.155 0.232 0.309 0.375 0.439 0.504 0.567 0.627 0.686 0.746 0.804 0.861 0.919 0.977 1 1 1 1 1 1 1 1 1 1 1 1 1 1 1 1 1 1 1 1 1 1 1 1 1 1 1 1 1"/><feFuncG type="table" tableValues="0 0.067 0.134 0.2 0.267 0.334 0.401 0.467 0.534 0.601 0.668 0.734 0.801 0.868 0.935 1 1 1 1 1 1 1 1 1 1 1 1 1 1 1 1 0.96 0.894 0.827 0.76 0.693 0.627 0.56 0.493 0.426 0.36 0.293 0.226 0.159 0.092 0.026 0 0 0 0 0 0 0 0 0 0 0 0 0 0"/><feFuncB type="table" tableValues="1 1 1 1 1 1 1 1 1 1 1 1 1 1 1 0.999 0.936 0.874 0.811 0.749 0.679 0.609 0.539 0.467 0.391 0.316 0.24 0.18 0.127 0.074 0.022 0 0 0 0 0 0 0 0 0 0 0 0 0 0 0 0 0 0 0 0 0 0 0 0 0 0 0 0 0"/><feFuncA type="discrete" tableValues="0 1"/></feComponentTransfer></filter><g clip-path="url(#fc10)"><g clip-path="url(#sc10)"><g filter="url(#f10)"><g clip-path="url(#dc10)"><rect x="335" y="2056.8" width="500.3" height="393.1" fill="#9d9d9d"/><linearGradient id="g10_7" gradientUnits="userSpaceOnUse" x1="332" y1="2086.5" x2="842" y2="2249.2"><stop offset="0%" stop-color="#c4c4c4"/><stop offset="25%" stop-color="#bebebe"/><stop offset="40%" stop-color="#afafaf"/><stop offset="60%" stop-color="#a5a5a5"/><stop offset="80%" stop-color="#9d9d9d"/><stop offset="100%" stop-color="#999999"/></linearGradient><rect x="335" y="2056.8" width="500.3" height="393.1" fill="url(#g10_7)"/><g filter="url(#b12)"><rect x="282.5" y="2030.5" width="294.2" height="281.2" fill="none"/><path d="M325.5 2073.5C360.2 2054 502.2 2069.2 533.7 2076.8C565.1 2084.4 519.6 2105 514.1 2119.1C508.7 2133.1 501.1 2146.2 501.1 2161.3C501.1 2176.5 514.1 2193.3 514.1 2210.1C514.1 2226.9 509.8 2252.4 501.1 2262.2C492.5 2271.9 491.4 2280.1 462.1 2268.7C432.8 2257.3 348.3 2226.4 325.5 2193.9C302.7 2161.3 290.8 2093 325.5 2073.5Z" fill="#c4c4c4" opacity="0.8"/></g><g filter="url(#b8)"><rect x="368.8" y="2139.6" width="121.6" height="121.6" fill="none"/><ellipse cx="429.6" cy="2200.4" rx="35.8" ry="22.8" fill="#b1b1b1" transform="rotate(-20 429.6 2200.4)" opacity="0.9"/></g><g filter="url(#b8)"><rect x="696.2" y="2014.9" width="115.5" height="286.4" fill="none"/><path d="M748.3 2067C748.6 2070.3 750 2073 750 2086.5C750 2100.1 747.8 2129.4 748.3 2148.3C748.9 2167.3 751.6 2185.7 753.2 2200.4C754.8 2215 757 2228 758.1 2236.1C759.1 2244.3 759.3 2247 759.5 2249.2" fill="none" stroke="#838383" stroke-width="42.3" stroke-linecap="round" stroke-linejoin="round"/></g><g filter="url(#b12)"><rect x="612.6" y="2163.9" width="211.2" height="377.1" fill="none"/><path d="M736.8 2249.2C737.1 2251.9 738.3 2254.6 738.6 2265.4C738.9 2276.3 739.4 2300.7 738.6 2314.2C737.8 2327.8 735.9 2335.9 733.7 2346.7C731.5 2357.6 728.5 2368.4 725.6 2379.3C722.6 2390.1 719.6 2400.9 715.8 2411.8C712 2422.6 705.8 2437 702.8 2444.3C699.8 2451.6 698.7 2453.8 697.9 2455.7" fill="none" stroke="#838383" stroke-width="84.6" stroke-linecap="round" stroke-linejoin="round"/></g><g filter="url(#b4)"><rect x="724.4" y="2035" width="75.2" height="246.2" fill="none"/><path d="M756.5 2067C756.7 2070.3 758.1 2073 758.1 2086.5C758.1 2100.1 755.9 2129.4 756.5 2148.3C757 2167.3 759.7 2185.7 761.3 2200.4C763 2215 765.2 2228 766.2 2236.1C767.3 2244.3 767.4 2247 767.7 2249.2" fill="none" stroke="#626262" stroke-width="26" stroke-linecap="round" stroke-linejoin="round"/></g><g filter="url(#b6)"><rect x="664.8" y="2198.1" width="142.7" height="308.6" fill="none"/><path d="M754.7 2249.2C755 2251.9 756.2 2254.6 756.5 2265.4C756.8 2276.3 757.3 2300.7 756.5 2314.2C755.6 2327.8 753.7 2335.9 751.6 2346.7C749.4 2357.6 746.4 2368.4 743.4 2379.3C740.5 2390.1 737.5 2400.9 733.7 2411.8C729.9 2422.6 723.7 2437 720.7 2444.3C717.7 2451.6 716.6 2453.8 715.8 2455.7" fill="none" stroke="#626262" stroke-width="52" stroke-linecap="round" stroke-linejoin="round"/></g><g filter="url(#b3)"><rect x="740.1" y="2044.5" width="56.2" height="227.2" fill="none"/><path d="M762.6 2067C762.9 2070.3 764.3 2073 764.3 2086.5C764.3 2100.1 762.1 2129.4 762.6 2148.3C763.2 2167.3 765.9 2185.7 767.5 2200.4C769.1 2215 771.3 2228 772.4 2236.1C773.4 2244.3 773.6 2247 773.8 2249.2" fill="none" stroke="#414141" stroke-width="13" stroke-linecap="round" stroke-linejoin="round"/></g><g filter="url(#b4)"><rect x="690.3" y="2200.9" width="111.2" height="290.1" fill="none"/><path d="M763 2236.1C763.5 2241 765.7 2252.4 766.2 2265.4C766.8 2278.4 767 2300.7 766.2 2314.2C765.4 2327.8 763.5 2335.9 761.3 2346.7C759.2 2357.6 756.2 2368.4 753.2 2379.3C750.2 2390.1 747.2 2400.9 743.4 2411.8C739.7 2422.6 733.4 2437 730.4 2444.3C727.5 2451.6 726.4 2453.8 725.6 2455.7" fill="none" stroke="#3b3b3b" stroke-width="32.5" stroke-linecap="round" stroke-linejoin="round"/></g><g filter="url(#b3)"><rect x="710.2" y="2212" width="88.9" height="267.8" fill="none"/><path d="M771.7 2236.1C772.3 2241 774.5 2252.4 775 2265.4C775.5 2278.4 775.8 2300.7 775 2314.2C774.2 2327.8 772.3 2335.9 770.1 2346.7C768 2357.6 765 2368.4 762 2379.3C759 2390.1 756 2400.9 752.2 2411.8C748.4 2422.6 742.2 2437 739.2 2444.3C736.2 2451.6 735.2 2453.8 734.3 2455.7" fill="none" stroke="#060606" stroke-width="16.3" stroke-linecap="round" stroke-linejoin="round"/></g><g filter="url(#b2)"><rect x="757.9" y="2214.8" width="23.1" height="23.1" fill="none"/><ellipse cx="769.5" cy="2226.4" rx="4.6" ry="4.6" fill="#9d9d9d"/></g></g></g></g><rect x="546.7" y="2113.2" width="5.2" height="5.2" fill="#fff"/><rect x="536.9" y="2148.3" width="5.2" height="5.2" fill="#fff"/><rect x="507" y="2232.2" width="5.2" height="5.2" fill="#fff"/><rect x="497.2" y="2261.5" width="5.2" height="5.2" fill="#fff"/><rect x="492" y="2271.3" width="5.2" height="5.2" fill="#fff"/><polygon points="766.8,2056.1 766.8,2059.7 768.9,2069.6 771.9,2079.9 773.5,2090.3 773.5,2104 772.4,2114.4 770.2,2127.3 766.8,2141 766.1,2147.1 767.6,2161.7 769.3,2178.9 770.2,2196.1 772.8,2213.3 775.4,2226.3 777.1,2234 779.2,2237.6 779.2,2237.6 783,2239.1 786.5,2243.1 789,2249.1 790.9,2259.3 793.4,2265.3 796,2275.6 798.6,2288.5 802.1,2298.9 808.1,2308.3 809.8,2319.5 811.5,2329.9 814,2332.6 817,2327.6 819.5,2328.1 815.8,2334.2 818.4,2344.5 821,2353.1 821.9,2366 820.1,2374.6 820.1,2383.2 816.7,2391.8 812.4,2400.4 808.1,2409 803.8,2419.4 808.1,2417.7 815,2413.4 819.3,2409 821.9,2406.5 826.2,2409.9 821.9,2411.6 820.1,2419.4 822.7,2425.4 827.9,2428.8 832.6,2437.4 836,2441.1 840,2441.1 840,2056.1" fill="#cccccc"/><polygon points="778,2241.1 779.6,2247.1 780.5,2254.1 781.4,2271.3 781.4,2288.5 781,2305.7 779.7,2323 777.1,2340.2 773.6,2357.4 769.3,2374.6 764.2,2391.8 758.2,2409 751.3,2426.3 744.4,2442.6 742,2449.1 750,2449.1 751.3,2446.1 753.8,2441.8 756.4,2434.9 763.3,2429.7 768.5,2426.3 767.6,2422 769.8,2415.1 768.5,2409 771.9,2402.2 775.4,2395.3 777.1,2388.4 782.7,2383.2 782.3,2376.3 778,2370.3 781.4,2361.7 784.8,2348.8 786.1,2331.6 788.3,2314.4 789.6,2297.1 790,2279.9 789.6,2262.7 788.3,2254.1 786,2247.1 782.5,2241.6" fill="#cccccc"/><polyline points="766.8,2056.1 766.8,2059.7 768.9,2069.6 771.9,2079.9 773.5,2090.3 773.5,2104 772.4,2114.4 770.2,2127.3 766.8,2141 766.1,2147.1 767.6,2161.7 769.3,2178.9 770.2,2196.1 772.8,2213.3 775.4,2226.3 777.1,2234 779.2,2237.6 779.2,2237.6 783,2239.1 786.5,2243.1 789,2249.1 790.9,2259.3 793.4,2265.3 796,2275.6 798.6,2288.5 802.1,2298.9 808.1,2308.3 809.8,2319.5 811.5,2329.9 814,2332.6 817,2327.6 819.5,2328.1 815.8,2334.2 818.4,2344.5 821,2353.1 821.9,2366 820.1,2374.6 820.1,2383.2 816.7,2391.8 812.4,2400.4 808.1,2409 803.8,2419.4 808.1,2417.7 815,2413.4 819.3,2409 821.9,2406.5 826.2,2409.9 821.9,2411.6 820.1,2419.4 822.7,2425.4 827.9,2428.8 832.6,2437.4 836,2441.1" fill="none" stroke="#707070" stroke-width="2.2" stroke-linejoin="round"/><polyline points="779.2,2237.6 778,2241.1 779.6,2247.1 780.5,2254.1 781.4,2271.3 781.4,2288.5 781,2305.7 779.7,2323 777.1,2340.2 773.6,2357.4 769.3,2374.6 764.2,2391.8 758.2,2409 751.3,2426.3 744.4,2442.6 742,2449.1" fill="none" stroke="#707070" stroke-width="2.2" stroke-linejoin="round"/><polyline points="750,2449.1 751.3,2446.1 753.8,2441.8 756.4,2434.9 763.3,2429.7 768.5,2426.3 767.6,2422 769.8,2415.1 768.5,2409 771.9,2402.2 775.4,2395.3 777.1,2388.4 782.7,2383.2 782.3,2376.3 778,2370.3 781.4,2361.7 784.8,2348.8 786.1,2331.6 788.3,2314.4 789.6,2297.1 790,2279.9 789.6,2262.7 788.3,2254.1 786,2247.1 782.5,2241.6 779.2,2237.6" fill="none" stroke="#707070" stroke-width="2.2" stroke-linejoin="round"/><polyline points="768.9,2069.6 775,2067.7 782.3,2066.2 789,2064.1 795.2,2062.3 799.5,2066.2 803,2067.4 807.2,2067 808.8,2063.1 809.8,2059.7 810,2056.1" fill="none" stroke="#707070" stroke-width="2.2" stroke-linejoin="round"/><polygon points="791.5,2260.1 793.5,2263.1 796,2269.1 797.8,2271.6 797,2267.1 795,2262.6 792.8,2259.6" fill="#7d7d7d"/><path d="M474.9 2102.5h18M483.9 2093.5v18M744 2104.1h18M753 2095.1v18M472.4 2341.7h18M481.4 2332.7v18M743.4 2343h18M752.4 2334v18" stroke="#1a1a1a" stroke-width="1.8" fill="none"/></g><text class="lb" transform="translate(345 2431.3) scale(1 1.065)">SST, July 31</text>
<path d="M484.8 2055.8v-7M752.8 2055.8v-7M480.3 2450.9v7M752.4 2450.9v7M334 2098.8h-7M334 2337.8h-7M836.3 2103.5h7M836.3 2343.1h7" stroke="#000" stroke-width="5.6" stroke-linecap="round" fill="none"/>
<rect x="845" y="2056.8" width="501" height="393.1" fill="#fff"/>
<clipPath id="fc11"><rect x="845" y="2056.8" width="501" height="393.1"/></clipPath><clipPath id="dc11"><polygon points="842,2076.1 1024.1,2081.6 1193.3,2082.6 1196.5,2080 1216,2078.7 1216,2076.1 1242.1,2074.2 1242.1,2072.2 1297.4,2069.6 1297.4,2454.1 1260,2454.1 1243.7,2444.3 842,2200.4"/></clipPath><clipPath id="sc11"><polygon points="810,2039.1 1276.8,2056.1 1276.8,2059.7 1278.9,2069.6 1281.9,2079.9 1283.5,2090.3 1283.5,2104 1282.4,2114.4 1280.2,2127.3 1276.8,2141 1276.1,2147.1 1277.6,2161.7 1279.3,2178.9 1280.2,2196.1 1282.8,2213.3 1285.4,2226.3 1287.1,2234 1289.2,2237.6 1288,2241.1 1289.6,2247.1 1290.5,2254.1 1291.4,2271.3 1291.4,2288.5 1291,2305.7 1289.7,2323 1287.1,2340.2 1283.6,2357.4 1279.3,2374.6 1274.2,2391.8 1268.2,2409 1261.3,2426.3 1254.4,2442.6 1252,2449.1 810,2459.1"/></clipPath><filter id="f11" filterUnits="userSpaceOnUse" x="845" y="2056.8" width="501" height="393.1" color-interpolation-filters="sRGB"><feTurbulence type="fractalNoise" baseFrequency="0.21" numOctaves="3" seed="14" result="n"/><feColorMatrix in="n" type="matrix" values="1 0 0 0 0 1 0 0 0 0 1 0 0 0 0 0 0 0 0 1" result="g"/><feComposite in="SourceGraphic" in2="g" operator="arithmetic" k1="0.75" k2="0.625" k3="0.07692307692307693" k4="-0.038461538461538464"/><feComponentTransfer><feFuncR type="table" tableValues="0 0 0 0 0 0 0 0 0 0 0 0 0 0 0 0.002 0.079 0.155 0.232 0.309 0.375 0.439 0.504 0.567 0.627 0.686 0.746 0.804 0.861 0.919 0.977 1 1 1 1 1 1 1 1 1 1 1 1 1 1 1 1 1 1 1 1 1 1 1 1 1 1 1 1 1"/><feFuncG type="table" tableValues="0 0.067 0.134 0.2 0.267 0.334 0.401 0.467 0.534 0.601 0.668 0.734 0.801 0.868 0.935 1 1 1 1 1 1 1 1 1 1 1 1 1 1 1 1 0.96 0.894 0.827 0.76 0.693 0.627 0.56 0.493 0.426 0.36 0.293 0.226 0.159 0.092 0.026 0 0 0 0 0 0 0 0 0 0 0 0 0 0"/><feFuncB type="table" tableValues="1 1 1 1 1 1 1 1 1 1 1 1 1 1 1 0.999 0.936 0.874 0.811 0.749 0.679 0.609 0.539 0.467 0.391 0.316 0.24 0.18 0.127 0.074 0.022 0 0 0 0 0 0 0 0 0 0 0 0 0 0 0 0 0 0 0 0 0 0 0 0 0 0 0 0 0"/></feComponentTransfer></filter><g clip-path="url(#fc11)"><g clip-path="url(#sc11)"><g clip-path="url(#dc11)"><g filter="url(#f11)"><rect x="845" y="2056.8" width="501" height="393.1" fill="#3d3d3d"/><g filter="url(#b4)"><rect x="1159.4" y="2048.8" width="144.8" height="196.4" fill="none"/><path d="M1216.3 2072.9C1228.1 2068.4 1274.3 2046.5 1285.2 2067.8C1296.1 2089 1285.5 2174 1281.8 2200.4C1278 2226.8 1268.6 2228.8 1262.8 2226.2C1257.1 2223.6 1253.1 2196.4 1247.3 2184.9C1241.6 2173.4 1235.8 2166.2 1228.4 2157.3C1220.9 2148.4 1210.9 2139.2 1202.5 2131.5C1194.2 2123.7 1181.3 2117.1 1178.4 2110.8C1175.6 2104.5 1179.3 2096.2 1185.3 2093.6C1191.4 2091 1209.4 2098.8 1214.6 2095.3C1219.8 2091.9 1204.6 2077.5 1216.3 2072.9Z" fill="#272727"/></g><g filter="url(#b5)"><rect x="813.1" y="2104.3" width="181.8" height="140.4" fill="none"/><path d="M835.1 2126.3C844.9 2117.1 876.4 2131.5 893.7 2136.7C910.9 2141.8 925.2 2149.3 938.4 2157.3C951.6 2165.4 968.9 2176.3 972.9 2184.9C976.9 2193.5 967.1 2202.7 962.5 2209C958 2215.3 953.9 2220.5 945.3 2222.8C936.7 2225.1 929.3 2227.9 910.9 2222.8C892.5 2217.6 847.7 2207.8 835.1 2191.8C822.5 2175.7 825.4 2135.5 835.1 2126.3Z" fill="#2f2f2f"/></g><g filter="url(#b8)"><rect x="1044.1" y="2195.2" width="206.7" height="182.5" fill="none"/><path d="M1075.1 2226.2C1093.5 2214.7 1161.2 2234.8 1185.3 2243.4C1209.4 2252 1216.9 2263.5 1219.8 2277.9C1222.6 2292.2 1216.9 2318 1202.5 2329.5C1188.2 2341 1154.9 2349.6 1133.7 2346.8C1112.4 2343.9 1084.9 2332.4 1075.1 2312.3C1065.4 2292.2 1056.7 2237.7 1075.1 2226.2Z" fill="#333333"/></g><g filter="url(#b6)"><rect x="1006.4" y="2252.9" width="130.6" height="127.5" fill="none"/><path d="M1031.4 2298.5C1039.1 2289.3 1098.6 2268.4 1112 2277.9C1125.5 2287.3 1119.7 2346.2 1112 2355.4C1104.3 2364.5 1079.3 2342.4 1065.9 2333C1052.4 2323.5 1023.7 2307.7 1031.4 2298.5Z" fill="#353535"/></g><g filter="url(#b3)"><rect x="1229.6" y="2296.3" width="80.2" height="169.8" fill="none"/><path d="M1268 2381.2C1274.6 2359.7 1280.9 2323.8 1285.2 2312.3C1289.5 2300.8 1294.7 2298 1293.8 2312.3C1293 2326.7 1286.6 2375.5 1280 2398.4C1273.4 2421.4 1259.9 2442.9 1254.2 2450.1C1248.5 2457.2 1243.3 2452.9 1245.6 2441.5C1247.9 2430 1261.4 2402.7 1268 2381.2Z" fill="#2c2c2c"/></g><g filter="url(#b5)"><rect x="1000.8" y="2100.9" width="87.1" height="173.2" fill="none"/><path d="M1022.8 2122.9C1028.3 2112 1050.1 2117.7 1057.3 2126.3C1064.4 2134.9 1065.9 2156.5 1065.9 2174.5C1065.9 2192.6 1063.6 2221.9 1057.3 2234.8C1050.9 2247.7 1033.4 2259.2 1028 2252C1022.5 2244.9 1025.4 2213.3 1024.5 2191.8C1023.7 2170.2 1017.4 2133.8 1022.8 2122.9Z" fill="#5e5e5e"/></g><g filter="url(#b5)"><rect x="954.3" y="2063" width="112.9" height="87.1" fill="none"/><path d="M976.3 2085C979.2 2079.3 1002.7 2085 1014.2 2088.4C1025.7 2091.9 1042.3 2099.1 1045.2 2105.7C1048.1 2112.3 1039.5 2125.2 1031.4 2128C1023.4 2130.9 1006.2 2130.1 997 2122.9C987.8 2115.7 973.5 2090.7 976.3 2085Z" fill="#474747"/></g><g filter="url(#b3)"><rect x="1187.1" y="2131.5" width="65.4" height="65.4" fill="none"/><path d="M1206 2150.4C1208.3 2152.2 1215.2 2156.2 1219.8 2160.8C1224.4 2165.4 1231.2 2175.1 1233.5 2178" fill="none" stroke="#6c6c6c" stroke-width="5.9" stroke-linecap="round" stroke-linejoin="round"/></g><g filter="url(#b3)"><rect x="1169.8" y="2190.1" width="58.5" height="48.2" fill="none"/><path d="M1188.8 2209 L1209.4 2219.3" fill="none" stroke="#626262" stroke-width="5.9" stroke-linecap="round" stroke-linejoin="round"/></g><g filter="url(#b3)"><rect x="1119.3" y="2316.8" width="94.3" height="75.3" fill="none"/><path d="M1138.8 2350.2C1142.3 2348.2 1152.9 2340.4 1159.5 2338.1C1166.1 2335.8 1172.7 2335 1178.4 2336.4C1184.2 2337.9 1191.6 2340.7 1193.9 2346.8C1196.2 2352.8 1192.5 2368.3 1192.2 2372.6" fill="none" stroke="#6c6c6c" stroke-width="7.2" stroke-linecap="round" stroke-linejoin="round"/></g><g filter="url(#b5)"><rect x="1189.2" y="2350.6" width="90.5" height="114.6" fill="none"/><path d="M1211.2 2381.2C1215.2 2372.6 1229.2 2372.6 1237 2372.6C1244.7 2372.6 1254.8 2371.1 1257.7 2381.2C1260.5 2391.2 1257.7 2422.5 1254.2 2432.9C1250.8 2443.2 1243.9 2444.6 1237 2443.2C1230.1 2441.8 1217.2 2434.6 1212.9 2424.2C1208.6 2413.9 1207.1 2389.8 1211.2 2381.2Z" fill="#767676"/></g><g filter="url(#b2)"><rect x="1029.9" y="2271.2" width="54.7" height="49.5" fill="none"/><path d="M1045.2 2305.4C1048.1 2303.1 1058.4 2294.8 1062.4 2291.6C1066.4 2288.5 1068.2 2287.3 1069.3 2286.5" fill="none" stroke="#6c6c6c" stroke-width="4.6" stroke-linecap="round" stroke-linejoin="round"/></g><g filter="url(#b2)"><rect x="1016.1" y="2228.1" width="63.3" height="47.8" fill="none"/><path d="M1031.4 2260.6C1034.3 2259.8 1043.2 2258.4 1048.6 2255.5C1054.1 2252.6 1061.6 2245.4 1064.1 2243.4" fill="none" stroke="#7a7a7a" stroke-width="4.6" stroke-linecap="round" stroke-linejoin="round"/></g><g filter="url(#b2)"><rect x="998.3" y="2245.6" width="47.4" height="63.7" fill="none"/><path d="M1014.2 2293.4C1015.4 2289.3 1018.5 2274.6 1021.1 2269.3C1023.7 2263.9 1028.3 2262.8 1029.7 2261.5" fill="none" stroke="#bababa" stroke-width="5.9" stroke-linecap="round" stroke-linejoin="round"/></g><g filter="url(#b3)"><rect x="831.2" y="2058.7" width="162.9" height="92.3" fill="none"/><path d="M847.2 2074.7C867.5 2072.4 957.1 2072.9 978 2078.1C999 2083.3 976.6 2098.2 972.9 2105.7C969.1 2113.1 962 2118.6 955.7 2122.9C949.3 2127.2 942.5 2129.5 935 2131.5C927.5 2133.5 918.6 2135.8 910.9 2134.9C903.1 2134.1 895.4 2130.3 888.5 2126.3C881.6 2122.3 875 2116.6 869.6 2110.8C864.1 2105.1 859.5 2097.9 855.8 2091.9C852 2085.9 826.8 2077 847.2 2074.7Z" fill="#818181"/></g><g filter="url(#b4)"><rect x="891.9" y="2093.6" width="158.5" height="182.7" fill="none"/><path d="M938.4 2133.2C940.7 2127.8 952.8 2124.6 959.1 2121.2C965.4 2117.7 971.2 2112.3 976.3 2112.6C981.5 2112.8 984.9 2120 990.1 2122.9C995.3 2125.8 1002.2 2125.2 1007.3 2129.8C1012.5 2134.4 1018.2 2141.8 1021.1 2150.4C1024 2159 1022.8 2171.7 1024.5 2181.4C1026.3 2191.2 1030.3 2197.2 1031.4 2209C1032.6 2220.8 1034.3 2244 1031.4 2252C1028.6 2260.1 1024 2257.8 1014.2 2257.2C1004.4 2256.6 985.5 2249.5 972.9 2248.6C960.2 2247.7 948.8 2252.9 938.4 2252C928.1 2251.2 915.5 2247.4 910.9 2243.4C906.3 2239.4 905.1 2231.9 910.9 2227.9C916.6 2223.9 935 2224.5 945.3 2219.3C955.7 2214.2 970 2205.5 972.9 2196.9C975.7 2188.3 967.1 2174.8 962.5 2167.7C958 2160.5 949.3 2159.6 945.3 2153.9C941.3 2148.1 936.1 2138.7 938.4 2133.2Z" fill="#7e7e7e"/></g><g filter="url(#b3)"><rect x="1036.1" y="2175.8" width="69.9" height="76.8" fill="none"/><path d="M1052.1 2222.8C1051.2 2217 1055 2207.3 1059 2202.1C1063 2196.9 1071 2191.2 1076.2 2191.8C1081.4 2192.3 1088.8 2199.8 1090 2205.5C1091.1 2211.3 1087.4 2221 1083.1 2226.2C1078.8 2231.4 1069.3 2237.1 1064.1 2236.5C1059 2236 1053 2228.5 1052.1 2222.8Z" fill="#7e7e7e"/></g><g filter="url(#b3)"><rect x="1037.8" y="2131" width="68.2" height="52.7" fill="none"/><path d="M1053.8 2153.9C1054.7 2150.4 1065 2148.1 1071 2147C1077.1 2145.8 1086.8 2144.7 1090 2147C1093.1 2149.3 1094 2157.3 1090 2160.8C1086 2164.2 1071.9 2168.8 1065.9 2167.7C1059.8 2166.5 1053 2157.3 1053.8 2153.9Z" fill="#7e7e7e"/></g><g filter="url(#b4)"><rect x="1059.6" y="2057.4" width="177.5" height="180.9" fill="none"/><path d="M1078.6 2079.8C1101.8 2074.4 1194.8 2073.5 1218 2076.4C1241.3 2079.3 1223.5 2093.9 1218 2097.1C1212.6 2100.2 1195.9 2093.9 1185.3 2095.3C1174.7 2096.8 1158.9 2100.5 1154.3 2105.7C1149.7 2110.8 1153.8 2123.2 1157.8 2126.3C1161.8 2129.5 1175 2120.6 1178.4 2124.6C1181.9 2128.6 1179.6 2143.3 1178.4 2150.4C1177.3 2157.6 1171.5 2162.5 1171.5 2167.7C1171.5 2172.8 1177.9 2175.7 1178.4 2181.4C1179 2187.2 1179 2196.6 1175 2202.1C1171 2207.6 1164.1 2211.3 1154.3 2214.2C1144.6 2217 1126.8 2220.2 1116.4 2219.3C1106.1 2218.5 1097.5 2216.4 1092.3 2209C1087.2 2201.5 1084.3 2181.7 1085.4 2174.5C1086.6 2167.4 1091.8 2168.2 1099.2 2165.9C1106.7 2163.6 1124.5 2165.1 1130.2 2160.8C1136 2156.5 1136 2147.9 1133.7 2140.1C1131.4 2132.4 1125.6 2119.4 1116.4 2114.3C1107.3 2109.1 1084.9 2114.8 1078.6 2109.1C1072.2 2103.4 1055.3 2085.3 1078.6 2079.8Z" fill="#7a7a7a"/></g><g filter="url(#b4)"><rect x="1193.9" y="2181.4" width="116.4" height="227.4" fill="none"/><path d="M1274.9 2200.4C1279.7 2200.4 1287.6 2213.3 1290.4 2226.2C1293.1 2239.1 1292.1 2263.5 1291.2 2277.9C1290.4 2292.2 1287.9 2298 1285.2 2312.3C1282.5 2326.7 1278.9 2351.1 1274.9 2364C1270.9 2376.9 1266.3 2386.9 1261.1 2389.8C1255.9 2392.7 1249.3 2389.8 1243.9 2381.2C1238.4 2372.6 1233.5 2351.1 1228.4 2338.1C1223.2 2325.2 1215.2 2313.7 1212.9 2303.7C1210.6 2293.7 1211.2 2283.6 1214.6 2277.9C1218 2272.1 1226.9 2272.1 1233.5 2269.3C1240.1 2266.4 1249.6 2267.8 1254.2 2260.6C1258.8 2253.5 1257.7 2236.3 1261.1 2226.2C1264.5 2216.2 1270 2200.4 1274.9 2200.4Z" fill="#858585"/></g><g filter="url(#b2)"><rect x="839.3" y="2062.5" width="148.3" height="80.2" fill="none"/><path d="M852.3 2075.5C854.6 2072.9 870.7 2074.5 876.4 2076.4C882.2 2078.3 883 2083.3 886.8 2086.7C890.5 2090.2 894.8 2095.9 898.8 2097.1C902.8 2098.2 908 2096.8 910.9 2093.6C913.8 2090.5 905.4 2080.7 916 2078.1C926.7 2075.5 966.3 2074.7 974.6 2078.1C982.9 2081.6 969.7 2092.5 966 2098.8C962.3 2105.1 957.4 2111.4 952.2 2116C947 2120.6 941.3 2124 935 2126.3C928.7 2128.6 921.2 2130.3 914.3 2129.8C907.4 2129.2 900 2126.3 893.7 2122.9C887.3 2119.4 881.6 2114.3 876.4 2109.1C871.3 2103.9 866.7 2097.5 862.7 2091.9C858.6 2086.3 850 2078.1 852.3 2075.5Z" fill="#ffffff"/></g><g filter="url(#b2)"><rect x="872.1" y="2061.7" width="55.3" height="50.1" fill="none"/><path d="M885.1 2074.7C889.4 2072.4 909.7 2071.8 914.3 2074.7C918.9 2077.5 914.9 2087.9 912.6 2091.9C910.3 2095.9 904.6 2099.3 900.6 2098.8C896.5 2098.2 891.1 2092.5 888.5 2088.4C885.9 2084.4 880.7 2077 885.1 2074.7Z" fill="#4e4e4e"/></g><g filter="url(#b2)"><rect x="930.6" y="2104.7" width="103.5" height="110.4" fill="none"/><path d="M945.3 2134.9C947.9 2131.5 954.5 2129.2 959.1 2126.3C963.7 2123.5 969.4 2118.6 972.9 2117.7C976.3 2116.9 977.8 2119.2 979.8 2121.2C981.8 2123.2 982.1 2128.9 984.9 2129.8C987.8 2130.6 993.3 2125.2 997 2126.3C1000.7 2127.5 1004.4 2132.6 1007.3 2136.7C1010.2 2140.7 1013.6 2146.4 1014.2 2150.4C1014.8 2154.5 1010.5 2156.7 1010.8 2160.8C1011 2164.8 1014.2 2171.4 1015.9 2174.5C1017.7 2177.7 1022.5 2177.1 1021.1 2179.7C1019.7 2182.3 1010.8 2187.2 1007.3 2190C1003.9 2192.9 1002.7 2194.9 1000.4 2196.9C998.1 2198.9 995.8 2202.4 993.5 2202.1C991.2 2201.8 988.9 2198.7 986.7 2195.2C984.4 2191.8 982.6 2186.3 979.8 2181.4C976.9 2176.6 973.7 2170 969.4 2165.9C965.1 2161.9 958.2 2160.5 953.9 2157.3C949.6 2154.2 945 2150.7 943.6 2147C942.2 2143.3 942.7 2138.4 945.3 2134.9Z" fill="#ffffff"/></g><g filter="url(#b2)"><rect x="939.2" y="2190.8" width="100" height="70.8" fill="none"/><path d="M952.2 2226.2C953.9 2221.6 960.8 2212.7 966 2209C971.2 2205.3 978 2203.8 983.2 2203.8C988.4 2203.8 993 2208.7 997 2209C1001 2209.3 1003.9 2206.1 1007.3 2205.5C1010.8 2205 1014.5 2202.1 1017.7 2205.5C1020.8 2209 1025.4 2219 1026.3 2226.2C1027.1 2233.4 1024.8 2245.1 1022.8 2248.6C1020.8 2252 1017.4 2249.2 1014.2 2246.9C1011 2244.6 1007.9 2236 1003.9 2234.8C999.9 2233.7 995.3 2238.8 990.1 2240C984.9 2241.1 978.6 2242.3 972.9 2241.7C967.1 2241.1 959.1 2239.1 955.7 2236.5C952.2 2234 950.5 2230.8 952.2 2226.2Z" fill="#ffffff"/></g><g filter="url(#b3)"><rect x="898.3" y="2211.9" width="73.3" height="50.9" fill="none"/><path d="M914.3 2233.1C916.9 2231.1 925.2 2228.5 931.5 2227.9C937.9 2227.4 948.2 2227.9 952.2 2229.7C956.2 2231.4 958 2235.4 955.7 2238.3C953.4 2241.1 943 2245.7 938.4 2246.9C933.8 2248 931.8 2246.3 928.1 2245.1C924.4 2244 918.3 2242 916 2240C913.8 2238 911.7 2235.1 914.3 2233.1Z" fill="#d8d8d8"/></g><g filter="url(#b2)"><rect x="1044.3" y="2187.4" width="51.8" height="55.3" fill="none"/><path d="M1057.3 2219.3C1057.3 2215.3 1061 2208.7 1064.1 2205.5C1067.3 2202.4 1073 2199.8 1076.2 2200.4C1079.4 2200.9 1082.8 2205.3 1083.1 2209C1083.4 2212.7 1081.1 2219.3 1077.9 2222.8C1074.8 2226.2 1067.6 2230.2 1064.1 2229.7C1060.7 2229.1 1057.3 2223.3 1057.3 2219.3Z" fill="#ebebeb"/></g><g filter="url(#b2)"><rect x="1046.3" y="2135.1" width="54.7" height="41.8" fill="none"/><path d="M1064.1 2159 L1083.1 2153" fill="none" stroke="#d8d8d8" stroke-width="9.8" stroke-linecap="round" stroke-linejoin="round"/></g><g filter="url(#b2)"><rect x="1065.6" y="2066.8" width="162" height="40.6" fill="none"/><path d="M1078.6 2082.4C1100.9 2081 1190.2 2077.8 1212.9 2079.8C1235.6 2081.8 1216.3 2092.3 1214.6 2094.5C1212.9 2096.6 1206.8 2093.9 1202.5 2092.7C1198.2 2091.6 1200.2 2088.3 1188.8 2087.6C1177.3 2086.9 1152 2088.3 1133.7 2088.4C1115.3 2088.6 1087.7 2089.4 1078.6 2088.4C1069.4 2087.4 1056.2 2083.8 1078.6 2082.4Z" fill="#ebebeb"/></g><g filter="url(#b2)"><rect x="1065.6" y="2078.9" width="122.4" height="105.2" fill="none"/><path d="M1078.6 2093.6C1082.6 2092.5 1095.5 2095.6 1102.7 2095.3C1109.8 2095 1116.4 2091.3 1121.6 2091.9C1126.8 2092.5 1129.6 2095.9 1133.7 2098.8C1137.7 2101.6 1142.8 2105.1 1145.7 2109.1C1148.6 2113.1 1150.5 2118.6 1150.9 2122.9C1151.3 2127.2 1147.2 2132.1 1148.3 2134.9C1149.4 2137.8 1154.5 2141.3 1157.8 2140.1C1161.1 2139 1165.2 2129.5 1168.1 2128C1171 2126.6 1174.4 2128.3 1175 2131.5C1175.6 2134.6 1173.3 2142.1 1171.5 2147C1169.8 2151.9 1168.1 2156.7 1164.7 2160.8C1161.2 2164.8 1154.9 2170.5 1150.9 2171.1C1146.9 2171.7 1142.6 2166.8 1140.6 2164.2C1138.5 2161.6 1138.5 2159.6 1138.8 2155.6C1139.1 2151.6 1143.1 2144.4 1142.3 2140.1C1141.4 2135.8 1136.8 2133.2 1133.7 2129.8C1130.5 2126.3 1126.2 2123.2 1123.3 2119.4C1120.5 2115.7 1120.5 2110 1116.4 2107.4C1112.4 2104.8 1105.5 2104.8 1099.2 2103.9C1092.9 2103.1 1082 2103.9 1078.6 2102.2C1075.1 2100.5 1074.5 2094.8 1078.6 2093.6Z" fill="#ffffff"/></g><g filter="url(#b2)"><rect x="1082.8" y="2161.5" width="101.8" height="63.9" fill="none"/><path d="M1097.5 2181.4C1099.8 2178.6 1106.4 2173.1 1109.6 2174.5C1112.7 2176 1113.9 2186.3 1116.4 2190C1119 2193.8 1120.7 2196.6 1125.1 2196.9C1129.4 2197.2 1136.8 2194.1 1142.3 2191.8C1147.7 2189.5 1154 2186 1157.8 2183.2C1161.5 2180.3 1162.4 2174.3 1164.7 2174.5C1167 2174.8 1171.5 2180.9 1171.5 2184.9C1171.5 2188.9 1168.1 2194.9 1164.7 2198.7C1161.2 2202.4 1156 2205.3 1150.9 2207.3C1145.7 2209.3 1140 2209.8 1133.7 2210.7C1127.3 2211.6 1118.5 2213.6 1113 2212.4C1107.5 2211.3 1103.8 2207.3 1100.9 2203.8C1098.1 2200.4 1096.4 2195.5 1095.8 2191.8C1095.2 2188 1095.2 2184.3 1097.5 2181.4Z" fill="#ffffff"/></g><g filter="url(#b2)"><rect x="1065.6" y="2137.4" width="36.3" height="36.3" fill="none"/><path d="M1078.6 2150.4C1080.3 2149.6 1087.5 2152.2 1088.9 2153.9C1090.3 2155.6 1088.9 2159.9 1087.2 2160.8C1085.4 2161.6 1080 2160.8 1078.6 2159C1077.1 2157.3 1076.8 2151.3 1078.6 2150.4Z" fill="#ebebeb"/></g><g filter="url(#b2)"><rect x="1205" y="2189.1" width="96.6" height="187.9" fill="none"/><path d="M1278.3 2202.1C1279.7 2200.9 1283.5 2209 1285.2 2215.9C1286.9 2222.8 1288.4 2234.5 1288.6 2243.4C1288.9 2252.3 1288.4 2261.2 1286.9 2269.3C1285.5 2277.3 1282.6 2285.3 1280 2291.6C1277.5 2298 1274 2302 1271.4 2307.1C1268.8 2312.3 1266.3 2316.6 1264.5 2322.6C1262.8 2328.7 1262.8 2336.7 1261.1 2343.3C1259.4 2349.9 1256.5 2358.8 1254.2 2362.2C1251.9 2365.7 1249 2366 1247.3 2364C1245.6 2362 1245.6 2355.9 1243.9 2350.2C1242.2 2344.5 1239.9 2336.4 1237 2329.5C1234.1 2322.6 1229.8 2314.6 1226.7 2308.9C1223.5 2303.1 1219.5 2299.4 1218 2295.1C1216.6 2290.8 1215.7 2286.2 1218 2283C1220.3 2279.9 1227.5 2276.7 1231.8 2276.1C1236.1 2275.6 1240.7 2278.4 1243.9 2279.6C1247 2280.7 1248.5 2284.8 1250.8 2283C1253.1 2281.3 1255.9 2275.9 1257.7 2269.3C1259.4 2262.7 1259.4 2250 1261.1 2243.4C1262.8 2236.8 1265.4 2233.1 1268 2229.7C1270.6 2226.2 1274.9 2227.4 1276.6 2222.8C1278.3 2218.2 1276.9 2203.2 1278.3 2202.1Z" fill="#ffffff"/></g><g filter="url(#b2)"><rect x="1234.3" y="2344.1" width="39.8" height="44.9" fill="none"/><path d="M1247.3 2364C1248.2 2360.8 1251.9 2357.4 1254.2 2357.1C1256.5 2356.8 1260.8 2359.7 1261.1 2362.2C1261.4 2364.8 1257.9 2370.3 1255.9 2372.6C1253.9 2374.9 1250.5 2377.5 1249 2376C1247.6 2374.6 1246.5 2367.1 1247.3 2364Z" fill="#e2e2e2"/></g><g filter="url(#b2)"><rect x="1242.9" y="2273.5" width="38.1" height="44.9" fill="none"/><path d="M1255.9 2289.9C1257.1 2287.6 1260.8 2285 1262.8 2286.5C1264.8 2287.9 1268 2295.4 1268 2298.5C1268 2301.7 1264.8 2305.1 1262.8 2305.4C1260.8 2305.7 1257.1 2302.8 1255.9 2300.3C1254.8 2297.7 1254.8 2292.2 1255.9 2289.9Z" fill="#898989"/></g></g></g></g><polygon points="1276.8,2056.1 1276.8,2059.7 1278.9,2069.6 1281.9,2079.9 1283.5,2090.3 1283.5,2104 1282.4,2114.4 1280.2,2127.3 1276.8,2141 1276.1,2147.1 1277.6,2161.7 1279.3,2178.9 1280.2,2196.1 1282.8,2213.3 1285.4,2226.3 1287.1,2234 1289.2,2237.6 1289.2,2237.6 1293,2239.1 1296.5,2243.1 1299,2249.1 1300.9,2259.3 1303.4,2265.3 1306,2275.6 1308.6,2288.5 1312.1,2298.9 1318.1,2308.3 1319.8,2319.5 1321.5,2329.9 1324,2332.6 1327,2327.6 1329.5,2328.1 1325.8,2334.2 1328.4,2344.5 1331,2353.1 1331.9,2366 1330.1,2374.6 1330.1,2383.2 1326.7,2391.8 1322.4,2400.4 1318.1,2409 1313.8,2419.4 1318.1,2417.7 1325,2413.4 1329.3,2409 1331.9,2406.5 1336.2,2409.9 1331.9,2411.6 1330.1,2419.4 1332.7,2425.4 1337.9,2428.8 1342.6,2437.4 1346,2441.1 1350,2441.1 1350,2056.1" fill="#cccccc"/><polygon points="1288,2241.1 1289.6,2247.1 1290.5,2254.1 1291.4,2271.3 1291.4,2288.5 1291,2305.7 1289.7,2323 1287.1,2340.2 1283.6,2357.4 1279.3,2374.6 1274.2,2391.8 1268.2,2409 1261.3,2426.3 1254.4,2442.6 1252,2449.1 1260,2449.1 1261.3,2446.1 1263.8,2441.8 1266.4,2434.9 1273.3,2429.7 1278.5,2426.3 1277.6,2422 1279.8,2415.1 1278.5,2409 1281.9,2402.2 1285.4,2395.3 1287.1,2388.4 1292.7,2383.2 1292.3,2376.3 1288,2370.3 1291.4,2361.7 1294.8,2348.8 1296.1,2331.6 1298.3,2314.4 1299.6,2297.1 1300,2279.9 1299.6,2262.7 1298.3,2254.1 1296,2247.1 1292.5,2241.6" fill="#cccccc"/><polyline points="1276.8,2056.1 1276.8,2059.7 1278.9,2069.6 1281.9,2079.9 1283.5,2090.3 1283.5,2104 1282.4,2114.4 1280.2,2127.3 1276.8,2141 1276.1,2147.1 1277.6,2161.7 1279.3,2178.9 1280.2,2196.1 1282.8,2213.3 1285.4,2226.3 1287.1,2234 1289.2,2237.6 1289.2,2237.6 1293,2239.1 1296.5,2243.1 1299,2249.1 1300.9,2259.3 1303.4,2265.3 1306,2275.6 1308.6,2288.5 1312.1,2298.9 1318.1,2308.3 1319.8,2319.5 1321.5,2329.9 1324,2332.6 1327,2327.6 1329.5,2328.1 1325.8,2334.2 1328.4,2344.5 1331,2353.1 1331.9,2366 1330.1,2374.6 1330.1,2383.2 1326.7,2391.8 1322.4,2400.4 1318.1,2409 1313.8,2419.4 1318.1,2417.7 1325,2413.4 1329.3,2409 1331.9,2406.5 1336.2,2409.9 1331.9,2411.6 1330.1,2419.4 1332.7,2425.4 1337.9,2428.8 1342.6,2437.4 1346,2441.1" fill="none" stroke="#707070" stroke-width="2.2" stroke-linejoin="round"/><polyline points="1289.2,2237.6 1288,2241.1 1289.6,2247.1 1290.5,2254.1 1291.4,2271.3 1291.4,2288.5 1291,2305.7 1289.7,2323 1287.1,2340.2 1283.6,2357.4 1279.3,2374.6 1274.2,2391.8 1268.2,2409 1261.3,2426.3 1254.4,2442.6 1252,2449.1" fill="none" stroke="#707070" stroke-width="2.2" stroke-linejoin="round"/><polyline points="1260,2449.1 1261.3,2446.1 1263.8,2441.8 1266.4,2434.9 1273.3,2429.7 1278.5,2426.3 1277.6,2422 1279.8,2415.1 1278.5,2409 1281.9,2402.2 1285.4,2395.3 1287.1,2388.4 1292.7,2383.2 1292.3,2376.3 1288,2370.3 1291.4,2361.7 1294.8,2348.8 1296.1,2331.6 1298.3,2314.4 1299.6,2297.1 1300,2279.9 1299.6,2262.7 1298.3,2254.1 1296,2247.1 1292.5,2241.6 1289.2,2237.6" fill="none" stroke="#707070" stroke-width="2.2" stroke-linejoin="round"/><polyline points="1278.9,2069.6 1285,2067.7 1292.3,2066.2 1299,2064.1 1305.2,2062.3 1309.5,2066.2 1313,2067.4 1317.2,2067 1318.8,2063.1 1319.8,2059.7 1320,2056.1" fill="none" stroke="#707070" stroke-width="2.2" stroke-linejoin="round"/><polygon points="1301.5,2260.1 1303.5,2263.1 1306,2269.1 1307.8,2271.6 1307,2267.1 1305,2262.6 1302.8,2259.6" fill="#7d7d7d"/><path d="M984.9 2102.5h18M993.9 2093.5v18M1254 2104.1h18M1263 2095.1v18M982.4 2341.7h18M991.4 2332.7v18M1253.4 2343h18M1262.4 2334v18" stroke="#1a1a1a" stroke-width="1.1" fill="none" opacity="0.75"/></g><text class="lb" transform="translate(861.5 2430.8) scale(1 1.065)">Chl-a, July 31</text>
<path d="M994.8 2055.8v-7M1262.8 2055.8v-7M990.3 2450.9v7M1262.4 2450.9v7M844 2098.8h-7M844 2337.8h-7M1347 2103.5h7M1347 2343.1h7" stroke="#000" stroke-width="5.6" stroke-linecap="round" fill="none"/>
<rect x="335" y="77.7" width="500.3" height="393.1" fill="none" stroke="#000" stroke-width="5.8" stroke-linejoin="round"/>
<rect x="845" y="77.7" width="501" height="393.1" fill="none" stroke="#000" stroke-width="5.8" stroke-linejoin="round"/>
<rect x="335" y="471.9" width="500.3" height="393.1" fill="none" stroke="#000" stroke-width="5.8" stroke-linejoin="round"/>
<rect x="845" y="471.9" width="501" height="393.1" fill="none" stroke="#000" stroke-width="5.8" stroke-linejoin="round"/>
<rect x="335" y="869.4" width="500.3" height="393.1" fill="none" stroke="#000" stroke-width="5.8" stroke-linejoin="round"/>
<rect x="845" y="869.4" width="501" height="393.1" fill="none" stroke="#000" stroke-width="5.8" stroke-linejoin="round"/>
<rect x="335" y="1263.3" width="500.3" height="393.1" fill="none" stroke="#000" stroke-width="5.8" stroke-linejoin="round"/>
<rect x="845" y="1263.3" width="501" height="393.1" fill="none" stroke="#000" stroke-width="5.8" stroke-linejoin="round"/>
<rect x="335" y="1660.9" width="500.3" height="393.1" fill="none" stroke="#000" stroke-width="5.8" stroke-linejoin="round"/>
<rect x="845" y="1660.9" width="501" height="393.1" fill="none" stroke="#000" stroke-width="5.8" stroke-linejoin="round"/>
<rect x="335" y="2056.8" width="500.3" height="393.1" fill="none" stroke="#000" stroke-width="5.8" stroke-linejoin="round"/>
<rect x="845" y="2056.8" width="501" height="393.1" fill="none" stroke="#000" stroke-width="5.8" stroke-linejoin="round"/>
<text class="pl" x="636" y="154.8" textLength="119.5">Palanga</text>
<text class="pl" x="608.7" y="322.2" textLength="154">Spit Coast</text>
<path d="M620.5 167.7H765.5M637 341H780" stroke="#000" stroke-width="4.6" stroke-linecap="round" fill="none"/>
<text class="pl" x="1142.5" y="156.4" textLength="119.5">Palanga</text>
<text class="pl" x="1107.5" y="319.8" textLength="154">Spit Coast</text>
<path d="M1134 167H1277M1144 340H1289.5" stroke="#000" stroke-width="4.6" stroke-linecap="round" fill="none"/>
<text transform="translate(375 119) scale(1.05 1.06)" text-anchor="middle" style="font-size:40px">N</text>
<path d="M374.2 127.5L346 223.8L374.2 188Z" fill="#000" stroke="#000" stroke-width="1.2" stroke-linejoin="miter"/>
<path d="M374.6 132L401.2 220.6L374.6 188.6Z" fill="none" stroke="#000" stroke-width="3" stroke-linejoin="miter"/>
<text class="ax" transform="translate(484 44.7) scale(1 1.03)" text-anchor="middle">20°0'0"E</text>
<text class="ax" transform="translate(752.5 44.7) scale(1 1.03)" text-anchor="middle">21°0'0"E</text>
<text class="ax" transform="translate(994 44.7) scale(1 1.03)" text-anchor="middle">20°0'0"E</text>
<text class="ax" transform="translate(1262.8 44.7) scale(1 1.03)" text-anchor="middle">21°0'0"E</text>
<text class="ax" transform="translate(478.5 2509.3) scale(1 1.03)" text-anchor="middle">20°0'0"E</text>
<text class="ax" transform="translate(752.5 2509.3) scale(1 1.03)" text-anchor="middle">21°0'0"E</text>
<text class="ax" transform="translate(989.2 2509.3) scale(1 1.03)" text-anchor="middle">20°0'0"E</text>
<text class="ax" transform="translate(1262.8 2509.3) scale(1 1.03)" text-anchor="middle">21°0'0"E</text>
<text class="ax" transform="translate(302.3 119.9) rotate(-90) scale(1 1.06)" text-anchor="middle" textLength="146.6">56°0'0"N</text>
<text class="ax" transform="translate(302.3 360.3) rotate(-90) scale(1 1.06)" text-anchor="middle" textLength="165.6">55°30'0"N</text>
<text class="ax" transform="translate(1404.5 124.5) rotate(-90) scale(1 1.06)" text-anchor="middle" textLength="146.6">56°0'0"N</text>
<text class="ax" transform="translate(1404.5 364.6) rotate(-90) scale(1 1.06)" text-anchor="middle" textLength="165.6">55°30'0"N</text>
<text class="ax" transform="translate(302.3 514.1) rotate(-90) scale(1 1.06)" text-anchor="middle" textLength="146.6">56°0'0"N</text>
<text class="ax" transform="translate(302.3 754.5) rotate(-90) scale(1 1.06)" text-anchor="middle" textLength="165.6">55°30'0"N</text>
<text class="ax" transform="translate(1404.5 518.7) rotate(-90) scale(1 1.06)" text-anchor="middle" textLength="146.6">56°0'0"N</text>
<text class="ax" transform="translate(1404.5 758.8) rotate(-90) scale(1 1.06)" text-anchor="middle" textLength="165.6">55°30'0"N</text>
<text class="ax" transform="translate(302.3 911.6) rotate(-90) scale(1 1.06)" text-anchor="middle" textLength="146.6">56°0'0"N</text>
<text class="ax" transform="translate(302.3 1152) rotate(-90) scale(1 1.06)" text-anchor="middle" textLength="165.6">55°30'0"N</text>
<text class="ax" transform="translate(1404.5 916.2) rotate(-90) scale(1 1.06)" text-anchor="middle" textLength="146.6">56°0'0"N</text>
<text class="ax" transform="translate(1404.5 1156.3) rotate(-90) scale(1 1.06)" text-anchor="middle" textLength="165.6">55°30'0"N</text>
<text class="ax" transform="translate(302.3 1305.7) rotate(-90) scale(1 1.06)" text-anchor="middle" textLength="146.6">56°0'0"N</text>
<text class="ax" transform="translate(302.3 1546.1) rotate(-90) scale(1 1.06)" text-anchor="middle" textLength="165.6">55°30'0"N</text>
<text class="ax" transform="translate(1404.5 1310.3) rotate(-90) scale(1 1.06)" text-anchor="middle" textLength="146.6">56°0'0"N</text>
<text class="ax" transform="translate(1404.5 1550.4) rotate(-90) scale(1 1.06)" text-anchor="middle" textLength="165.6">55°30'0"N</text>
<text class="ax" transform="translate(302.3 1703.1) rotate(-90) scale(1 1.06)" text-anchor="middle" textLength="146.6">56°0'0"N</text>
<text class="ax" transform="translate(302.3 1943.5) rotate(-90) scale(1 1.06)" text-anchor="middle" textLength="165.6">55°30'0"N</text>
<text class="ax" transform="translate(1404.5 1707.7) rotate(-90) scale(1 1.06)" text-anchor="middle" textLength="146.6">56°0'0"N</text>
<text class="ax" transform="translate(1404.5 1947.8) rotate(-90) scale(1 1.06)" text-anchor="middle" textLength="165.6">55°30'0"N</text>
<text class="ax" transform="translate(302.3 2099) rotate(-90) scale(1 1.06)" text-anchor="middle" textLength="146.6">56°0'0"N</text>
<text class="ax" transform="translate(302.3 2339.4) rotate(-90) scale(1 1.06)" text-anchor="middle" textLength="165.6">55°30'0"N</text>
<text class="ax" transform="translate(1404.5 2103.6) rotate(-90) scale(1 1.06)" text-anchor="middle" textLength="146.6">56°0'0"N</text>
<text class="ax" transform="translate(1404.5 2343.7) rotate(-90) scale(1 1.06)" text-anchor="middle" textLength="165.6">55°30'0"N</text>
<rect x="28.4" y="681.9" width="69.2" height="860.3" fill="url(#cbar)"/>
<path d="M97.6 1111.7h6.3M97.6 682.3h6" stroke="#333" stroke-width="1.6"/>
<text class="cb" transform="translate(21 635) scale(1.02 1.01)">SST, °C</text>
<text class="cb" transform="translate(104.5 706.3) scale(1 1.045)">&gt; 21</text>
<text class="cb" transform="translate(104 1552.5) scale(1 1.045)">&lt;16</text>
<rect x="1527.2" y="694.5" width="68.5" height="854.8" fill="url(#cbar)"/>
<path d="M1595.7 1121.9h6.3M1595.7 695h6" stroke="#333" stroke-width="1.6"/>
<text class="cb" transform="translate(1519.5 601) scale(1.02 0.99)">Chl-a,</text>
<text class="cb" transform="translate(1519.5 654) scale(1.02 0.99)">mg m-3</text>
<text class="cb" transform="translate(1608.5 713) scale(1.02 1.03)">&gt; 15</text>
<text class="cb" transform="translate(1605.5 1553.5) scale(0.88 1.03)">&lt;1</text>
<rect x="1591.9" y="1937.6" width="27.1" height="445.9" fill="#000"/>
<rect x="1595.5" y="2089.2" width="20.2" height="142" fill="#fff"/>
<rect x="1595.5" y="2286.7" width="20.2" height="43.9" fill="#fff"/>
<text class="sc" transform="translate(1569.8 1940.7) rotate(-90) scale(1 1.04)" text-anchor="middle">60</text>
<text class="sc" transform="translate(1569.8 2087.9) rotate(-90) scale(1 1.04)" text-anchor="middle">30</text>
<text class="sc" transform="translate(1569.8 2235.7) rotate(-90) scale(1 1.04)" text-anchor="middle">0</text>
<text class="sc" transform="translate(1569.8 2306.1) rotate(-90) scale(1 1.04)" text-anchor="middle">15</text>
<text class="sc" transform="translate(1569.8 2383) rotate(-90) scale(1 1.04)" text-anchor="middle">30</text>
<text class="sc" transform="translate(1619 1925.5) rotate(-90) scale(0.98 1.16)">Km</text>
</svg></body></html>
